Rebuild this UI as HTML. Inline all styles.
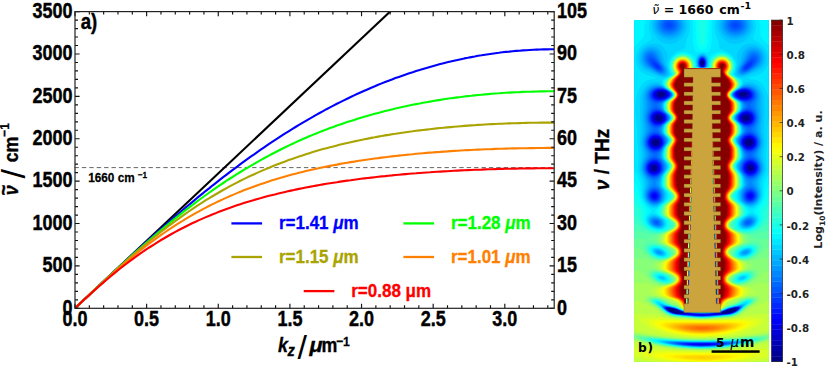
<!DOCTYPE html>
<html><head><meta charset="utf-8"><title>figure</title>
<style>html,body{margin:0;padding:0;background:#fff}body{width:830px;height:368px;position:relative;overflow:hidden}</style>
</head><body><svg width="830" height="368" viewBox="0 0 830 368" style="position:absolute;left:0;top:0" font-family="Liberation Sans, Arial, Helvetica, sans-serif"><defs><clipPath id="cp"><rect x="75.0" y="11.6" width="479.20000000000005" height="296.7"/></clipPath></defs><line x1="74.5" y1="167.6" x2="554.2" y2="167.6" stroke="#555" stroke-width="0.9" stroke-dasharray="4.4 3.0"/><g clip-path="url(#cp)" fill="none" stroke-width="2.1" stroke-linejoin="round"><path d="M75.0 308.3L404.5 -2.0" stroke="#000"/><path d="M75.0 308.3L78.4 305.0L81.9 301.8L85.3 298.5L88.8 295.3L92.2 292.0L95.7 288.8L99.1 285.5L102.6 282.3L106.0 279.1L109.5 275.8L112.9 272.6L116.3 269.4L119.8 266.2L123.2 263.0L126.7 259.9L130.1 256.7L133.6 253.5L137.0 250.4L140.5 247.2L143.9 244.1L147.4 241.0L150.8 237.9L154.3 234.8L157.7 231.8L161.1 228.7L164.6 225.7L168.0 222.7L171.5 219.7L174.9 216.7L178.4 213.8L181.8 210.8L185.3 207.9L188.7 205.0L192.2 202.1L195.6 199.3L199.0 196.4L202.5 193.6L205.9 190.8L209.4 188.1L212.8 185.3L216.3 182.6L219.7 179.9L223.2 177.2L226.6 174.6L230.1 171.9L233.5 169.3L236.9 166.8L240.4 164.2L243.8 161.7L247.3 159.2L250.7 156.7L254.2 154.3L257.6 151.8L261.1 149.4L264.5 147.1L268.0 144.7L271.4 142.4L274.9 140.1L278.3 137.9L281.7 135.6L285.2 133.4L288.6 131.3L292.1 129.1L295.5 127.0L299.0 124.9L302.4 122.9L305.9 120.8L309.3 118.8L312.8 116.9L316.2 114.9L319.6 113.0L323.1 111.1L326.5 109.2L330.0 107.4L333.4 105.6L336.9 103.8L340.3 102.1L343.8 100.4L347.2 98.7L350.7 97.0L354.1 95.4L357.5 93.8L361.0 92.2L364.4 90.7L367.9 89.2L371.3 87.7L374.8 86.3L378.2 84.8L381.7 83.4L385.1 82.1L388.6 80.7L392.0 79.4L395.4 78.1L398.9 76.9L402.3 75.7L405.8 74.5L409.2 73.3L412.7 72.2L416.1 71.0L419.6 70.0L423.0 68.9L426.5 67.9L429.9 66.9L433.4 65.9L436.8 65.0L440.2 64.1L443.7 63.2L447.1 62.3L450.6 61.5L454.0 60.7L457.5 59.9L460.9 59.2L464.4 58.4L467.8 57.8L471.3 57.1L474.7 56.5L478.1 55.8L481.6 55.3L485.0 54.7L488.5 54.2L491.9 53.7L495.4 53.2L498.8 52.8L502.3 52.3L505.7 51.9L509.2 51.6L512.6 51.2L516.0 50.9L519.5 50.7L522.9 50.4L526.4 50.2L529.8 50.0L533.3 49.8L536.7 49.6L540.2 49.5L543.6 49.4L547.1 49.4L550.5 49.3L554.0 49.3" stroke="#0000ff"/><path d="M75.0 308.3L78.4 305.0L81.9 301.8L85.3 298.5L88.8 295.3L92.2 292.0L95.7 288.8L99.1 285.6L102.6 282.3L106.0 279.1L109.5 275.9L112.9 272.7L116.3 269.5L119.8 266.4L123.2 263.2L126.7 260.1L130.1 257.0L133.6 253.9L137.0 250.8L140.5 247.8L143.9 244.7L147.4 241.7L150.8 238.7L154.3 235.8L157.7 232.9L161.1 230.0L164.6 227.1L168.0 224.2L171.5 221.4L174.9 218.6L178.4 215.9L181.8 213.1L185.3 210.4L188.7 207.8L192.2 205.2L195.6 202.6L199.0 200.0L202.5 197.5L205.9 195.0L209.4 192.5L212.8 190.1L216.3 187.7L219.7 185.3L223.2 183.0L226.6 180.7L230.1 178.5L233.5 176.3L236.9 174.1L240.4 172.0L243.8 169.9L247.3 167.8L250.7 165.8L254.2 163.8L257.6 161.8L261.1 159.9L264.5 158.0L268.0 156.1L271.4 154.3L274.9 152.5L278.3 150.7L281.7 149.0L285.2 147.3L288.6 145.6L292.1 144.0L295.5 142.4L299.0 140.8L302.4 139.3L305.9 137.8L309.3 136.3L312.8 134.9L316.2 133.5L319.6 132.1L323.1 130.8L326.5 129.4L330.0 128.1L333.4 126.9L336.9 125.6L340.3 124.4L343.8 123.2L347.2 122.1L350.7 121.0L354.1 119.9L357.5 118.8L361.0 117.7L364.4 116.7L367.9 115.7L371.3 114.7L374.8 113.8L378.2 112.9L381.7 111.9L385.1 111.1L388.6 110.2L392.0 109.4L395.4 108.6L398.9 107.8L402.3 107.0L405.8 106.2L409.2 105.5L412.7 104.8L416.1 104.1L419.6 103.5L423.0 102.8L426.5 102.2L429.9 101.6L433.4 101.0L436.8 100.4L440.2 99.9L443.7 99.3L447.1 98.8L450.6 98.3L454.0 97.9L457.5 97.4L460.9 97.0L464.4 96.5L467.8 96.1L471.3 95.8L474.7 95.4L478.1 95.0L481.6 94.7L485.0 94.4L488.5 94.1L491.9 93.8L495.4 93.5L498.8 93.3L502.3 93.0L505.7 92.8L509.2 92.6L512.6 92.4L516.0 92.2L519.5 92.1L522.9 91.9L526.4 91.8L529.8 91.7L533.3 91.6L536.7 91.5L540.2 91.4L543.6 91.4L547.1 91.3L550.5 91.3L554.0 91.3" stroke="#00ff00"/><path d="M75.0 308.3L78.4 305.0L81.9 301.8L85.3 298.5L88.8 295.3L92.2 292.0L95.7 288.8L99.1 285.6L102.6 282.4L106.0 279.2L109.5 276.0L112.9 272.9L116.3 269.8L119.8 266.7L123.2 263.6L126.7 260.5L130.1 257.5L133.6 254.5L137.0 251.5L140.5 248.6L143.9 245.7L147.4 242.8L150.8 240.0L154.3 237.2L157.7 234.5L161.1 231.7L164.6 229.1L168.0 226.4L171.5 223.8L174.9 221.3L178.4 218.8L181.8 216.3L185.3 213.9L188.7 211.5L192.2 209.1L195.6 206.8L199.0 204.6L202.5 202.4L205.9 200.2L209.4 198.1L212.8 196.0L216.3 194.0L219.7 192.0L223.2 190.0L226.6 188.1L230.1 186.2L233.5 184.4L236.9 182.6L240.4 180.8L243.8 179.1L247.3 177.4L250.7 175.8L254.2 174.2L257.6 172.6L261.1 171.1L264.5 169.6L268.0 168.2L271.4 166.7L274.9 165.3L278.3 164.0L281.7 162.7L285.2 161.4L288.6 160.1L292.1 158.9L295.5 157.7L299.0 156.5L302.4 155.4L305.9 154.3L309.3 153.2L312.8 152.1L316.2 151.1L319.6 150.1L323.1 149.1L326.5 148.2L330.0 147.3L333.4 146.4L336.9 145.5L340.3 144.6L343.8 143.8L347.2 143.0L350.7 142.2L354.1 141.4L357.5 140.7L361.0 140.0L364.4 139.3L367.9 138.6L371.3 137.9L374.8 137.3L378.2 136.6L381.7 136.0L385.1 135.4L388.6 134.9L392.0 134.3L395.4 133.8L398.9 133.2L402.3 132.7L405.8 132.2L409.2 131.7L412.7 131.3L416.1 130.8L419.6 130.4L423.0 130.0L426.5 129.6L429.9 129.2L433.4 128.8L436.8 128.4L440.2 128.0L443.7 127.7L447.1 127.4L450.6 127.1L454.0 126.8L457.5 126.5L460.9 126.2L464.4 125.9L467.8 125.6L471.3 125.4L474.7 125.2L478.1 124.9L481.6 124.7L485.0 124.5L488.5 124.3L491.9 124.1L495.4 124.0L498.8 123.8L502.3 123.7L505.7 123.5L509.2 123.4L512.6 123.3L516.0 123.2L519.5 123.1L522.9 123.0L526.4 122.9L529.8 122.8L533.3 122.7L536.7 122.7L540.2 122.6L543.6 122.6L547.1 122.6L550.5 122.6L554.0 122.6" stroke="#aaa400"/><path d="M75.0 308.3L78.4 305.1L81.9 301.8L85.3 298.6L88.8 295.4L92.2 292.2L95.7 289.0L99.1 285.8L102.6 282.7L106.0 279.5L109.5 276.5L112.9 273.4L116.3 270.4L119.8 267.4L123.2 264.5L126.7 261.5L130.1 258.7L133.6 255.9L137.0 253.1L140.5 250.3L143.9 247.6L147.4 245.0L150.8 242.4L154.3 239.9L157.7 237.4L161.1 234.9L164.6 232.5L168.0 230.2L171.5 227.9L174.9 225.6L178.4 223.4L181.8 221.3L185.3 219.2L188.7 217.1L192.2 215.1L195.6 213.2L199.0 211.3L202.5 209.4L205.9 207.6L209.4 205.8L212.8 204.1L216.3 202.4L219.7 200.7L223.2 199.1L226.6 197.6L230.1 196.0L233.5 194.6L236.9 193.1L240.4 191.7L243.8 190.3L247.3 189.0L250.7 187.7L254.2 186.4L257.6 185.2L261.1 184.0L264.5 182.9L268.0 181.7L271.4 180.6L274.9 179.5L278.3 178.5L281.7 177.5L285.2 176.5L288.6 175.5L292.1 174.6L295.5 173.7L299.0 172.8L302.4 172.0L305.9 171.1L309.3 170.3L312.8 169.5L316.2 168.7L319.6 168.0L323.1 167.3L326.5 166.6L330.0 165.9L333.4 165.2L336.9 164.6L340.3 163.9L343.8 163.3L347.2 162.7L350.7 162.1L354.1 161.6L357.5 161.0L361.0 160.5L364.4 160.0L367.9 159.5L371.3 159.0L374.8 158.5L378.2 158.1L381.7 157.6L385.1 157.2L388.6 156.8L392.0 156.4L395.4 156.0L398.9 155.6L402.3 155.2L405.8 154.9L409.2 154.5L412.7 154.2L416.1 153.8L419.6 153.5L423.0 153.2L426.5 152.9L429.9 152.6L433.4 152.4L436.8 152.1L440.2 151.9L443.7 151.6L447.1 151.4L450.6 151.1L454.0 150.9L457.5 150.7L460.9 150.5L464.4 150.3L467.8 150.1L471.3 150.0L474.7 149.8L478.1 149.6L481.6 149.5L485.0 149.3L488.5 149.2L491.9 149.1L495.4 148.9L498.8 148.8L502.3 148.7L505.7 148.6L509.2 148.5L512.6 148.4L516.0 148.4L519.5 148.3L522.9 148.2L526.4 148.2L529.8 148.1L533.3 148.1L536.7 148.0L540.2 148.0L543.6 148.0L547.1 147.9L550.5 147.9L554.0 147.9" stroke="#ff8000"/><path d="M75.0 308.3L78.4 305.1L81.9 301.8L85.3 298.6L88.8 295.5L92.2 292.3L95.7 289.2L99.1 286.2L102.6 283.1L106.0 280.2L109.5 277.3L112.9 274.4L116.3 271.6L119.8 268.8L123.2 266.1L126.7 263.5L130.1 260.9L133.6 258.3L137.0 255.8L140.5 253.4L143.9 251.0L147.4 248.7L150.8 246.5L154.3 244.3L157.7 242.1L161.1 240.0L164.6 238.0L168.0 236.0L171.5 234.0L174.9 232.1L178.4 230.3L181.8 228.5L185.3 226.7L188.7 225.0L192.2 223.3L195.6 221.7L199.0 220.1L202.5 218.6L205.9 217.1L209.4 215.7L212.8 214.2L216.3 212.9L219.7 211.5L223.2 210.2L226.6 208.9L230.1 207.7L233.5 206.5L236.9 205.3L240.4 204.2L243.8 203.1L247.3 202.0L250.7 201.0L254.2 199.9L257.6 198.9L261.1 198.0L264.5 197.0L268.0 196.1L271.4 195.2L274.9 194.4L278.3 193.5L281.7 192.7L285.2 191.9L288.6 191.1L292.1 190.4L295.5 189.6L299.0 188.9L302.4 188.2L305.9 187.5L309.3 186.9L312.8 186.2L316.2 185.6L319.6 185.0L323.1 184.4L326.5 183.8L330.0 183.2L333.4 182.7L336.9 182.2L340.3 181.6L343.8 181.1L347.2 180.6L350.7 180.2L354.1 179.7L357.5 179.2L361.0 178.8L364.4 178.4L367.9 178.0L371.3 177.6L374.8 177.2L378.2 176.8L381.7 176.4L385.1 176.1L388.6 175.7L392.0 175.4L395.4 175.0L398.9 174.7L402.3 174.4L405.8 174.1L409.2 173.8L412.7 173.5L416.1 173.3L419.6 173.0L423.0 172.7L426.5 172.5L429.9 172.3L433.4 172.0L436.8 171.8L440.2 171.6L443.7 171.4L447.1 171.2L450.6 171.0L454.0 170.8L457.5 170.6L460.9 170.4L464.4 170.3L467.8 170.1L471.3 170.0L474.7 169.8L478.1 169.7L481.6 169.6L485.0 169.4L488.5 169.3L491.9 169.2L495.4 169.1L498.8 169.0L502.3 168.9L505.7 168.8L509.2 168.7L512.6 168.7L516.0 168.6L519.5 168.5L522.9 168.5L526.4 168.4L529.8 168.4L533.3 168.4L536.7 168.3L540.2 168.3L543.6 168.3L547.1 168.3L550.5 168.3L554.0 168.3" stroke="#ff0000"/></g><path d="M75.00 308.3v-4.6M75.00 11.6v4.6M89.33 308.3v-3.0M89.33 11.6v3.0M103.65 308.3v-3.0M103.65 11.6v3.0M117.98 308.3v-3.0M117.98 11.6v3.0M132.31 308.3v-3.0M132.31 11.6v3.0M146.63 308.3v-4.6M146.63 11.6v4.6M160.96 308.3v-3.0M160.96 11.6v3.0M175.29 308.3v-3.0M175.29 11.6v3.0M189.62 308.3v-3.0M189.62 11.6v3.0M203.94 308.3v-3.0M203.94 11.6v3.0M218.27 308.3v-4.6M218.27 11.6v4.6M232.60 308.3v-3.0M232.60 11.6v3.0M246.92 308.3v-3.0M246.92 11.6v3.0M261.25 308.3v-3.0M261.25 11.6v3.0M275.58 308.3v-3.0M275.58 11.6v3.0M289.91 308.3v-4.6M289.91 11.6v4.6M304.23 308.3v-3.0M304.23 11.6v3.0M318.56 308.3v-3.0M318.56 11.6v3.0M332.89 308.3v-3.0M332.89 11.6v3.0M347.21 308.3v-3.0M347.21 11.6v3.0M361.54 308.3v-4.6M361.54 11.6v4.6M375.87 308.3v-3.0M375.87 11.6v3.0M390.19 308.3v-3.0M390.19 11.6v3.0M404.52 308.3v-3.0M404.52 11.6v3.0M418.85 308.3v-3.0M418.85 11.6v3.0M433.18 308.3v-4.6M433.18 11.6v4.6M447.50 308.3v-3.0M447.50 11.6v3.0M461.83 308.3v-3.0M461.83 11.6v3.0M476.16 308.3v-3.0M476.16 11.6v3.0M490.48 308.3v-3.0M490.48 11.6v3.0M504.81 308.3v-4.6M504.81 11.6v4.6M519.14 308.3v-3.0M519.14 11.6v3.0M533.46 308.3v-3.0M533.46 11.6v3.0M547.79 308.3v-3.0M547.79 11.6v3.0M75.0 308.30h4.6M75.0 299.82h3.0M75.0 291.35h3.0M75.0 282.87h3.0M75.0 274.39h3.0M75.0 265.91h4.6M75.0 257.44h3.0M75.0 248.96h3.0M75.0 240.48h3.0M75.0 232.01h3.0M75.0 223.53h4.6M75.0 215.05h3.0M75.0 206.57h3.0M75.0 198.10h3.0M75.0 189.62h3.0M75.0 181.14h4.6M75.0 172.67h3.0M75.0 164.19h3.0M75.0 155.71h3.0M75.0 147.23h3.0M75.0 138.76h4.6M75.0 130.28h3.0M75.0 121.80h3.0M75.0 113.33h3.0M75.0 104.85h3.0M75.0 96.37h4.6M75.0 87.89h3.0M75.0 79.42h3.0M75.0 70.94h3.0M75.0 62.46h3.0M75.0 53.99h4.6M75.0 45.51h3.0M75.0 37.03h3.0M75.0 28.55h3.0M75.0 20.08h3.0M75.0 11.60h4.6M554.2 308.30h-4.6M554.2 299.82h-3.0M554.2 291.35h-3.0M554.2 282.87h-3.0M554.2 274.39h-3.0M554.2 265.91h-4.6M554.2 257.44h-3.0M554.2 248.96h-3.0M554.2 240.48h-3.0M554.2 232.01h-3.0M554.2 223.53h-4.6M554.2 215.05h-3.0M554.2 206.57h-3.0M554.2 198.10h-3.0M554.2 189.62h-3.0M554.2 181.14h-4.6M554.2 172.67h-3.0M554.2 164.19h-3.0M554.2 155.71h-3.0M554.2 147.23h-3.0M554.2 138.76h-4.6M554.2 130.28h-3.0M554.2 121.80h-3.0M554.2 113.33h-3.0M554.2 104.85h-3.0M554.2 96.37h-4.6M554.2 87.89h-3.0M554.2 79.42h-3.0M554.2 70.94h-3.0M554.2 62.46h-3.0M554.2 53.99h-4.6M554.2 45.51h-3.0M554.2 37.03h-3.0M554.2 28.55h-3.0M554.2 20.08h-3.0M554.2 11.60h-4.6" stroke="#111" stroke-width="1.15" fill="none"/><rect x="75.0" y="11.6" width="479.20000000000005" height="296.7" fill="none" stroke="#222" stroke-width="1.2"/><text transform="translate(72.4,314.5) scale(0.81,1)" font-size="22.2px" font-weight="bold" text-anchor="end" stroke="#000" stroke-width="0.45">0</text><text transform="translate(72.4,272.1) scale(0.81,1)" font-size="22.2px" font-weight="bold" text-anchor="end" stroke="#000" stroke-width="0.45">500</text><text transform="translate(72.4,229.7) scale(0.81,1)" font-size="22.2px" font-weight="bold" text-anchor="end" stroke="#000" stroke-width="0.45">1000</text><text transform="translate(72.4,187.3) scale(0.81,1)" font-size="22.2px" font-weight="bold" text-anchor="end" stroke="#000" stroke-width="0.45">1500</text><text transform="translate(72.4,145.0) scale(0.81,1)" font-size="22.2px" font-weight="bold" text-anchor="end" stroke="#000" stroke-width="0.45">2000</text><text transform="translate(72.4,102.6) scale(0.81,1)" font-size="22.2px" font-weight="bold" text-anchor="end" stroke="#000" stroke-width="0.45">2500</text><text transform="translate(72.4,60.2) scale(0.81,1)" font-size="22.2px" font-weight="bold" text-anchor="end" stroke="#000" stroke-width="0.45">3000</text><text transform="translate(72.4,17.8) scale(0.81,1)" font-size="22.2px" font-weight="bold" text-anchor="end" stroke="#000" stroke-width="0.45">3500</text><text transform="translate(75.0,325.6) scale(0.81,1)" font-size="22.2px" font-weight="bold" text-anchor="middle" stroke="#000" stroke-width="0.45">0.0</text><text transform="translate(146.6,325.6) scale(0.81,1)" font-size="22.2px" font-weight="bold" text-anchor="middle" stroke="#000" stroke-width="0.45">0.5</text><text transform="translate(218.3,325.6) scale(0.81,1)" font-size="22.2px" font-weight="bold" text-anchor="middle" stroke="#000" stroke-width="0.45">1.0</text><text transform="translate(289.9,325.6) scale(0.81,1)" font-size="22.2px" font-weight="bold" text-anchor="middle" stroke="#000" stroke-width="0.45">1.5</text><text transform="translate(361.5,325.6) scale(0.81,1)" font-size="22.2px" font-weight="bold" text-anchor="middle" stroke="#000" stroke-width="0.45">2.0</text><text transform="translate(433.2,325.6) scale(0.81,1)" font-size="22.2px" font-weight="bold" text-anchor="middle" stroke="#000" stroke-width="0.45">2.5</text><text transform="translate(504.8,325.6) scale(0.81,1)" font-size="22.2px" font-weight="bold" text-anchor="middle" stroke="#000" stroke-width="0.45">3.0</text><text transform="translate(557.1,314.5) scale(0.81,1)" font-size="22.2px" font-weight="bold" stroke="#000" stroke-width="0.45">0</text><text transform="translate(557.1,272.1) scale(0.81,1)" font-size="22.2px" font-weight="bold" stroke="#000" stroke-width="0.45">15</text><text transform="translate(557.1,229.7) scale(0.81,1)" font-size="22.2px" font-weight="bold" stroke="#000" stroke-width="0.45">30</text><text transform="translate(557.1,187.3) scale(0.81,1)" font-size="22.2px" font-weight="bold" stroke="#000" stroke-width="0.45">45</text><text transform="translate(557.1,145.0) scale(0.81,1)" font-size="22.2px" font-weight="bold" stroke="#000" stroke-width="0.45">60</text><text transform="translate(557.1,102.6) scale(0.81,1)" font-size="22.2px" font-weight="bold" stroke="#000" stroke-width="0.45">75</text><text transform="translate(557.1,60.2) scale(0.81,1)" font-size="22.2px" font-weight="bold" stroke="#000" stroke-width="0.45">90</text><text transform="translate(557.1,17.8) scale(0.81,1)" font-size="22.2px" font-weight="bold" stroke="#000" stroke-width="0.45">105</text><text transform="translate(80.8,28.7) scale(0.86,1)" font-size="21.6px" font-weight="bold" stroke="#000" stroke-width="0.45">a)</text><text transform="translate(88.2,182.3) scale(0.935,1)" font-size="12.6px" font-weight="bold" stroke="#000" stroke-width="0.25">1660 cm</text><text transform="translate(137.8,178.0) scale(0.89,1)" font-size="9.2px" font-weight="bold" stroke="#000" stroke-width="0.25">−1</text><line x1="231.4" y1="223.4" x2="262.1" y2="223.4" stroke="#0000ff" stroke-width="2.3"/><text transform="translate(278.9,229.4) scale(0.915,1)" font-size="18.6px" font-weight="bold" fill="#0000ff" stroke="#0000ff" stroke-width="0.3">r=1.41 <tspan font-style="italic">μ</tspan>m</text><line x1="403.4" y1="223.4" x2="434.09999999999997" y2="223.4" stroke="#00ff00" stroke-width="2.3"/><text transform="translate(450.9,229.4) scale(0.915,1)" font-size="18.6px" font-weight="bold" fill="#00ff00" stroke="#00ff00" stroke-width="0.3">r=1.28 <tspan font-style="italic">μ</tspan>m</text><line x1="231.4" y1="257.0" x2="262.1" y2="257.0" stroke="#aaa400" stroke-width="2.3"/><text transform="translate(278.9,263.0) scale(0.915,1)" font-size="18.6px" font-weight="bold" fill="#aaa400" stroke="#aaa400" stroke-width="0.3">r=1.15 <tspan font-style="italic">μ</tspan>m</text><line x1="403.4" y1="257.0" x2="434.09999999999997" y2="257.0" stroke="#ff8000" stroke-width="2.3"/><text transform="translate(450.9,263.0) scale(0.915,1)" font-size="18.6px" font-weight="bold" fill="#ff8000" stroke="#ff8000" stroke-width="0.3">r=1.01 <tspan font-style="italic">μ</tspan>m</text><line x1="303.7" y1="291.1" x2="334.4" y2="291.1" stroke="#ff0000" stroke-width="2.3"/><text transform="translate(351.2,297.1) scale(0.915,1)" font-size="18.6px" font-weight="bold" fill="#ff0000" stroke="#ff0000" stroke-width="0.3">r=0.88 μm</text><text transform="translate(278.0,352.0) scale(0.89,1)" font-size="20px" font-weight="bold" font-style="italic" stroke="#000" stroke-width="0.35">k</text><text transform="translate(287.4,355.6) scale(0.89,1)" font-size="16.5px" font-weight="bold" font-style="italic" stroke="#000" stroke-width="0.25">z</text><text transform="translate(297.4,359.1)" font-size="34px">/</text><text transform="translate(309.6,352.0) scale(1.08,1)" font-size="20px" font-weight="bold" font-style="italic" stroke="#000" stroke-width="0.35">μ</text><text transform="translate(321.6,352.0) scale(0.89,1)" font-size="20px" font-weight="bold" stroke="#000" stroke-width="0.35">m</text><text transform="translate(336.0,345.6) scale(0.89,1)" font-size="13.7px" font-weight="bold" stroke="#000" stroke-width="0.25">−1</text><text transform="translate(17.7,195.2) rotate(-90) scale(0.89,1)" font-size="20px" font-weight="bold" font-style="italic" stroke="#000" stroke-width="0.35">ν</text><text transform="translate(9.6,195.6) rotate(-90) scale(0.89,1)" font-size="21px" font-weight="bold" stroke="#000" stroke-width="0.35">~</text><text transform="translate(25.3,178.5) rotate(-90)" font-size="34px">/</text><text transform="translate(17.7,162.3) rotate(-90) scale(0.89,1)" font-size="20px" font-weight="bold" stroke="#000" stroke-width="0.35">cm</text><text transform="translate(8.7,136.8) rotate(-90) scale(0.89,1)" font-size="13.5px" font-weight="bold" stroke="#000" stroke-width="0.25">−1</text><text transform="translate(608.5,190.2) rotate(-90) scale(0.93,1)" font-size="20.5px" font-weight="bold" stroke="#000" stroke-width="0.35"><tspan font-style="italic">ν</tspan> / THz</text></svg><svg width="830" height="368" viewBox="0 0 830 368" style="position:absolute;left:0;top:0" font-family="DejaVu Sans, Verdana, sans-serif" font-weight="bold"><defs><clipPath id="hc"><rect x="634.3" y="20.1" width="134.3" height="341.4"/></clipPath></defs><g clip-path="url(#hc)"><rect x="634.3" y="20.1" width="134.3" height="341.4" fill="#000087"/><g transform="translate(634.3,20.1) scale(.1)"><path fill="#000097" d="M-25 -21l2-2 700 0 690 0 2 2 0 3460 -2 2 -1390 0 -2-2zM677 406l-10 11 -2 12 2 12 10 11 11-3 5-10 2-10 -2-10 -5-10zM257 725l-9 4 -8 10 1 10 6 6 10 5 20 0 10-3 11-8 2-10 -7-10 -16-5zM1067 729l-7 10 3 10 14 10 10 2 19-2 13-10 1-10 -8-10 -5-2 -20-4zM227 957l-12 12 -2 10 2 10 10 10 12 4 10 1 10-3 10-7 4-5 3-10 -3-10 -4-6 -10-7 -10-2 -10 0zM1107 955l-10 5 -8 9 -3 10 3 10 8 9 10 4 10 2 10-1 8-4 10-10 2-10 -2-10 -8-9 -10-5 -10-1zM207 1196l-10 4 -10 9 -4 10 1 10 4 10 12 10 17 3 10-2 13-11 5-10 0-10 -4-10 -12-10 -12-4zM1137 1197l-10 4 -8 8 -4 10 0 10 5 10 12 10 15 3 10-2 10-6 5-5 5-10 0-10 -5-10 -11-10 -14-4zM187 1468l-4 11 4 10 10 4 11-4 4-10 -3-10 -12-4zM1157 1465l-5 4 -5 10 5 10 5 3 10 0 5-3 5-8 0-4 -4-8 -6-4zM347 2879l-10 2 -6 8 7 10 12 10 27 14 30 8 30 4 40 0 19-6 -9-3 -31-17 -50-20 -29-7zM1007 2879l-40 6 -30 10 -33 14 -27 16 -13 4 13 5 10 1 30 1 30-4 30-7 33-16 12-10 7-10 -2-4 -10-6z"/><path fill="#0000a7" d="M-24 -21l1-1 700-1 690 1 1 1 1 3460 -2 2 -1390 0 -2-2zM677 402l-10 9 -4 18 4 18 10 9 10-2 4-5 5-10 1-10 -1-10 -5-10 -4-5zM267 718l-10 2 -19 9 -6 10 0 10 5 7 10 7 20 3 20-3 10-5 9-9 2-10 -5-10 -16-8zM1087 718l-10 1 -20 10 -5 10 2 10 13 11 20 6 20-1 13-6 8-10 1-10 -7-10 -15-8zM237 948l-10 3 -12 8 -7 10 -2 10 2 10 7 10 12 7 10 3 10 0 10-2 13-8 8-10 2-10 -2-10 -7-10 -14-8 -10-3zM1117 948l-10 1 -18 10 -7 10 -2 10 2 10 8 10 17 9 10 1 10-1 18-9 7-10 2-10 -2-10 -7-10 -8-6 -10-4zM197 1194l-10 7 -6 8 -4 10 0 10 4 10 9 10 17 8 10 0 10-2 10-5 10-11 4-10 0-10 -4-11 -10-11 -10-5 -10-2 -10 0zM1127 1195l-10 8 -4 6 -4 10 0 10 8 15 10 9 10 3 10 2 10-2 13-7 9-10 3-10 1-10 -6-13 -10-10 -10-5 -10-1 -10 1zM187 1457l-12 12 -2 10 2 10 12 11 10 3 10-2 10-7 3-5 2-10 -2-10 -3-5 -10-8 -10-1zM1157 1455l-10 4 -7 10 -3 10 3 10 7 9 10 4 10 0 10-4 8-9 2-11 -2-9 -8-10 -10-4zM337 2879l-8 10 7 10 12 10 18 10 28 10 33 6 40 2 20-2 10-3 5-3 -15-4 -29-16 -51-20 -44-10zM997 2879l-30 6 -30 9 -35 15 -25 14 -19 6 9 5 10 2 30 1 40-4 30-7 17-7 18-10 12-10 7-10 -4-9 -3-1z"/><path fill="#0000b7" d="M-24 -21l1-1 700 0 690 0 1 1 1 3460 -2 2 -1390 0 -2-2zM677 399l-11 10 -5 20 5 20 11 10 10-2 7-8 4-10 1-10 -1-10 -4-10 -7-8zM247 718l-17 11 -6 10 0 10 7 10 16 10 20 2 20-3 17-9 9-10 2-10 -5-10 -13-10 -20-5 -20 1zM1067 718l-17 11 -5 10 2 10 9 10 11 6 20 6 20-1 10-3 10-6 9-12 0-10 -6-10 -14-10 -19-5 -10 0zM227 946l-10 5 -10 8 -5 10 -1 10 1 10 5 9 14 11 16 5 20-2 10-5 10-8 6-10 2-10 -1-10 -6-10 -11-9 -10-4 -20-2zM1097 948l-15 11 -6 10 -1 10 2 10 6 10 14 10 20 5 20-4 10-6 10-13 2-12 -1-10 -6-10 -12-10 -13-5 -20 1zM197 1188l-15 11 -7 10 -3 10 0 10 5 13 10 11 10 6 10 3 20-1 10-5 9-7 7-10 3-10 0-10 -3-10 -6-10 -10-8 -10-4 -20-2zM1127 1189l-14 10 -6 10 -3 10 0 10 3 10 10 13 10 6 10 4 20-1 10-4 11-8 7-10 3-10 0-10 -3-10 -8-12 -10-7 -10-4 -20 0zM187 1449l-10 6 -10 14 -1 10 1 10 7 10 13 9 10 2 10-1 10-5 10-12 3-13 -2-10 -5-10 -14-10 -12-2zM1157 1447l-10 4 -10 8 -5 10 -2 10 2 10 5 10 10 7 8 3 12 0 10-3 10-7 5-10 2-10 -1-10 -6-10 -15-10zM337 2877l-7 2 -4 10 8 10 13 10 17 10 27 10 36 7 50 2 20-1 11-8 -21-6 -49-24 -31-11 -40-9zM997 2878l-30 6 -30 9 -37 16 -33 16 -15 4 5 6 10 3 30 0 50-4 30-8 19-7 17-10 13-10 7-10 -3-10 -3-1z"/><path fill="#0000c7" d="M-24 -21l1-1 700 0 690 0 1 1 1 3460 -2 2 -1390 0 -2-2zM677 396l-10 7 -4 6 -4 20 4 20 4 6 10 7 10-1 10-12 4-20 -4-20 -10-12zM237 717l-15 12 -4 10 -1 10 5 10 15 11 20 5 10 0 20-3 20-9 12-14 2-10 -4-10 -10-9 -10-5 -10-3 -20-2 -20 4zM1057 718l-14 11 -4 10 2 10 7 10 19 11 30 5 20-3 10-4 10-8 5-11 0-10 -4-10 -11-9 -10-5 -10-3 -20-2 -20 4zM1117 939l-20 4 -10 6 -11 10 -5 10 -1 10 1 10 6 10 10 10 20 8 20 1 20-8 10-9 6-12 2-10 -2-10 -4-10 -10-10 -12-7zM217 945l-10 7 -6 7 -5 10 -1 10 2 10 5 10 9 10 16 8 20 1 20-6 16-13 6-10 1-10 -3-14 -10-13 -10-7 -20-6 -20 2zM187 1188l-12 11 -5 10 -3 10 0 10 3 10 7 12 10 9 20 7 20-2 10-4 10-7 10-13 4-12 0-10 -2-10 -6-10 -16-13 -20-6 -20 3zM1127 1184l-10 5 -10 10 -5 10 -3 10 0 10 3 10 6 10 9 9 10 5 20 4 20-4 10-6 7-8 6-10 3-10 0-10 -3-10 -5-10 -8-8 -10-6 -20-5zM177 1447l-10 10 -6 12 -1 10 1 10 5 10 10 10 11 5 10 2 10-1 13-6 10-10 5-10 1-10 -1-10 -4-10 -9-10 -15-7 -10-1 -10 1zM1147 1444l-10 6 -10 14 -3 15 3 14 10 14 10 6 10 2 10 0 10-2 10-6 7-8 5-10 1-10 -3-15 -10-14 -10-6 -10-3 -10 0zM327 2878l-2 1 -1 10 8 10 25 17 32 13 28 6 30 4 78 0 -8-3 -3-7 -17-4 -57-26 -33-12 -50-11 -20 0zM987 2879l-30 7 -30 10 -60 28 -21 5 -11 10 73 0 29-3 30-6 20-6 20-10 21-15 8-10 -2-10 -7-2 -20-1z"/><path fill="#0000d7" d="M-24 -21l1-1 700 0 690 0 1 1 1 3460 -2 2 -1390 0 -2-2zM667 399l-6 10 -3 10 0 20 3 10 6 10 10 6 10-2 10-10 5-14 0-20 -3-10 -12-14 -10-2zM257 707l-10 2 -20 9 -11 11 -5 10 0 10 4 10 10 10 12 7 10 2 26 1 24-6 10-5 12-9 6-10 2-10 -4-10 -10-10 -16-8 -10-3zM1077 708l-10 2 -20 9 -10 10 -4 10 2 10 7 10 5 5 10 6 20 7 30 2 20-5 10-6 8-9 4-10 0-10 -5-10 -10-10 -17-8 -10-3zM227 936l-10 3 -10 7 -12 13 -4 10 -1 10 1 10 5 10 11 13 10 6 10 3 20 1 20-5 12-8 8-8 6-12 2-10 -1-10 -5-10 -12-13 -14-7 -16-4zM1097 939l-17 10 -9 10 -4 8 -2 12 1 10 5 10 16 14 11 6 19 4 20-3 19-11 8-10 5-10 1-10 -3-15 -10-15 -15-10 -15-4 -20 1zM197 1178l-19 11 -11 15 -5 15 3 20 5 10 7 8 10 8 10 4 20 3 20-6 10-6 10-10 6-11 3-10 0-10 -3-10 -4-10 -9-10 -13-9 -20-5zM1127 1179l-17 10 -8 10 -5 9 -3 11 3 20 10 15 10 9 10 5 20 4 20-4 14-9 9-10 5-10 3-10 -2-20 -5-10 -9-10 -15-10 -20-4zM187 1436l-10 4 -10 8 -8 11 -4 10 0 20 4 10 8 10 10 7 10 4 20 1 10-4 10-6 10-12 4-10 0-20 -4-10 -7-10 -13-10 -10-3zM1147 1437l-10 6 -7 6 -7 10 -4 10 -1 10 1 10 4 10 8 10 16 10 20 2 10-2 16-10 8-10 4-10 1-10 -1-10 -8-16 -10-10 -7-4 -13-4zM327 2877l-5 2 0 10 9 10 12 10 18 10 36 13 30 6 30 2 70 1 34-2 -24-2 -10-3 -6-5 -24-5 -60-27 -40-14 -40-7 -20-1zM987 2878l-50 14 -70 31 -28 6 -12 7 -28 3 98 1 30-2 30-4 30-9 20-10 22-16 9-10 0-10 -11-4 -20 0z"/><path fill="#0000e7" d="M-24 -21l701-1 691 1 1 3460 -2 2 -1390 0 -2-2zM667 396l-8 13 -3 10 1 24 10 19 10 6 10-2 10-9 7-18 0-20 -3-10 -4-8 -10-9 -10-2zM237 708l-19 11 -9 10 -4 10 0 10 3 10 9 11 15 9 25 5 20-2 14-3 16-7 10-6 8-7 6-10 1-10 -3-10 -9-10 -13-8 -10-4 -20-3 -20 0zM1067 706l-10 3 -17 10 -9 10 -3 10 1 10 6 10 12 10 20 10 10 2 30 2 20-4 10-5 7-5 8-10 3-10 0-10 -4-10 -14-13 -13-7 -17-5 -20-1zM217 934l-10 6 -11 9 -6 10 -4 10 0 20 4 10 7 10 10 9 10 5 20 4 20-2 10-4 19-12 8-10 4-10 2-10 -3-13 -10-16 -14-11 -16-7 -20-2zM1087 939l-13 10 -8 10 -4 10 -2 10 2 10 4 10 8 10 13 9 10 5 20 4 20-2 10-4 16-12 7-10 4-10 1-10 -1-10 -4-10 -13-16 -10-7 -20-6 -20 1zM187 1177l-16 12 -7 10 -4 10 -2 20 2 10 7 14 10 11 10 6 20 6 20-1 20-10 10-9 11-17 2-20 -6-20 -8-10 -9-8 -20-9 -20-1zM1117 1178l-13 11 -8 10 -4 10 -2 20 7 20 10 11 10 8 20 8 20 0 20-8 11-9 8-10 4-10 2-20 -6-20 -9-12 -10-8 -20-8 -20 0zM177 1434l-10 7 -8 8 -6 10 -4 20 5 20 6 10 17 13 20 5 20-4 10-5 9-9 7-10 4-20 -4-20 -6-11 -10-10 -10-5 -20-4zM1137 1436l-10 8 -10 15 -4 20 4 20 10 13 10 8 10 5 20 1 20-6 13-11 7-10 3-10 0-20 -3-10 -10-14 -10-8 -10-5 -20-3zM327 2875l-9 4 2 10 9 10 12 10 18 10 38 14 30 5 40 3 110 2 10-2 2-2 -42-4 -19-6 -31-6 -60-27 -50-16 -30-5zM987 2877l-50 14 -80 33 -25 5 -15 6 -46 4 6 3 10 1 100-1 40-3 30-5 30-9 32-16 12-10 9-10 1-10 -4-3 -10-2 -20 0zM607 2947l-8 2 78 2 84-2 -14-3z"/><path fill="#0000f7" d="M-24 -21l701-1 691 1 1 3460 -2 2 -1390 0 -2-2zM677 387l-10 6 -10 15 -3 11 0 20 3 10 10 16 7 4 13 0 10-8 6-12 3-10 0-20 -3-10 -6-12 -10-8zM227 708l-16 11 -8 10 -4 10 0 10 3 10 6 10 9 8 10 5 30 5 20-1 20-5 23-12 11-10 5-10 1-10 -3-10 -8-10 -19-11 -20-6 -20-2 -20 2zM1057 706l-10 4 -13 9 -8 10 -3 10 1 10 5 10 11 10 17 10 30 8 30-1 23-7 12-10 7-10 2-10 0-10 -4-10 -8-10 -15-10 -17-6 -20-3 -20 1zM227 927l-20 7 -17 15 -6 10 -3 10 0 20 3 10 7 10 16 14 20 8 10 0 20-2 22-10 12-10 6-8 6-12 1-10 -1-10 -4-10 -7-10 -15-12 -20-9 -20-2zM1107 927l-20 7 -19 15 -7 10 -4 10 -1 10 1 10 4 10 8 10 12 10 16 8 20 4 10 0 20-5 10-5 10-9 9-13 4-20 -4-20 -9-14 -10-9 -10-5 -20-5zM197 1168l-22 11 -10 10 -6 10 -6 20 2 20 4 10 8 11 10 9 10 6 20 6 20-2 20-9 10-8 11-13 7-20 -2-20 -11-20 -15-14 -20-8 -20-1zM1127 1169l-20 11 -9 9 -7 10 -6 20 3 20 12 20 17 14 20 7 20 0 10-2 20-12 14-17 6-20 -2-20 -10-20 -18-15 -20-7 -20-1zM177 1428l-15 11 -9 10 -5 10 -4 20 4 20 9 14 10 9 10 5 20 5 20-3 10-5 10-8 11-17 4-20 -3-20 -12-19 -10-8 -10-5 -20-3zM1147 1426l-10 4 -10 6 -11 13 -8 20 1 20 3 10 5 10 10 10 10 7 20 6 20-2 20-11 10-11 8-19 0-20 -8-20 -10-11 -10-7 -20-7zM317 2877l-2 2 3 10 9 10 13 10 27 15 40 12 40 5 90 4 40 4 100 4 80-2 70-7 80-2 50-7 30-9 30-15 16-12 9-10 3-10 -8-5 -10-2 -20 1 -30 5 -50 16 -70 29 -50 11 -90 8 -40 1 -40-1 -90-9 -50-12 -60-26 -50-16 -30-5 -20-2 -10 1zM607 3239l-5 0 55 9 20 1 21 0 60-10 -71-1z"/><path fill="#0008ff" d="M-24 -21l1392 0 1 3460 -2 2 -1390 0 -2-2zM677 385l-10 4 -10 14 -5 16 1 20 4 15 10 14 10 3 10-1 4-1 6-5 8-15 2-10 1-20 -3-10 -8-16 -10-7zM247 698l-20 6 -10 5 -13 10 -7 10 -4 10 0 10 2 10 5 10 10 10 17 8 10 3 20 1 20-1 20-5 14-6 16-10 9-10 5-10 1-10 -3-10 -7-10 -14-10 -31-11 -20-1zM1077 698l-20 5 -14 6 -15 10 -7 10 -3 10 1 10 5 10 9 10 24 13 20 6 20 3 20 0 20-5 13-7 7-7 8-13 2-10 0-10 -4-10 -7-10 -19-13 -20-7 -20-2zM207 928l-10 7 -10 10 -8 14 -3 10 0 20 3 10 5 10 9 10 14 10 10 4 10 2 20 0 20-6 10-5 19-15 7-10 4-10 0-20 -3-10 -7-10 -10-10 -20-12 -20-5 -20 0zM1097 926l-24 13 -10 10 -7 10 -4 20 1 10 4 10 7 10 13 12 16 8 14 5 20 2 10-1 20-8 10-8 9-10 8-20 0-20 -8-20 -9-11 -10-7 -20-8 -20-2zM187 1166l-20 14 -13 19 -4 10 -1 20 5 20 13 18 20 14 10 3 20 2 20-5 18-12 10-10 12-20 2-20 -5-20 -6-10 -9-10 -22-14 -10-3 -20-1zM1117 1168l-20 15 -10 14 -5 12 -1 20 7 20 9 12 10 10 20 11 10 3 20 0 20-6 10-7 10-10 9-13 4-10 1-20 -5-20 -14-20 -15-11 -10-4 -10-2 -20-1zM197 1418l-20 5 -20 13 -10 13 -4 10 -4 20 4 20 5 10 9 11 20 13 20 4 20-3 10-4 13-11 9-10 5-10 4-20 -4-20 -4-10 -13-16 -20-12zM1157 1418l-20 5 -10 6 -10 10 -11 20 -3 20 3 20 13 20 18 13 10 3 20 2 20-6 10-6 10-10 10-16 3-10 0-20 -7-20 -16-18 -20-11zM197 1743l-10 6 -2 10 2 7 2 3 8 5 10 0 8-5 3-10 -1-5 -3-5 -7-5zM1147 1747l-5 12 5 12 10 4 10-3 4-3 4-10 -3-10 -5-5 -10-2zM317 2874l-4 5 3 10 9 10 13 10 29 16 30 10 50 7 70 3 90 8 70 2 70-2 90-8 70-2 50-7 30-9 30-15 18-13 9-10 4-10 -11-7 -20-1 -20 3 -50 12 -70 29 -30 9 -70 12 -100 4 -70-3 -50-4 -60-13 -60-25 -50-17 -20-4 -30-3 -10 0zM557 3239l-4 0 48 10 76 2 82-2 49-10 -51-3 -70-1 -80 1z"/><path fill="#0018ff" d="M-24 -21l1392 0 1 3460 -2 2 -1390 0 -2-2zM667 386l-10 13 -4 10 -3 20 3 20 4 10 7 10 13 3 19-3 7-10 6-20 0-20 -2-10 -10-19 -10-7 -10-1zM237 697l-20 7 -10 7 -10 9 -6 9 -3 10 -1 10 2 10 8 16 10 8 11 6 19 5 20 2 20-3 20-5 22-9 14-10 8-10 5-10 1-7 -3-13 -7-10 -14-10 -22-10 -24-5 -20 0zM1067 697l-31 12 -13 10 -7 10 -3 10 1 10 5 10 8 10 14 10 16 7 20 6 20 3 30-1 20-7 12-8 8-10 4-10 2-10 -1-10 -3-10 -12-15 -20-12 -20-7 -20-2zM217 919l-21 10 -11 10 -7 10 -7 20 0 20 3 10 4 10 9 11 20 15 10 3 20 2 20-3 10-4 24-14 10-10 7-10 5-20 -5-20 -6-10 -9-10 -26-16 -20-6 -10-1zM1107 919l-20 7 -10 6 -10 7 -9 10 -10 20 0 20 4 10 7 10 10 10 18 11 10 5 20 5 10 0 20-3 20-11 15-17 7-20 0-20 -2-10 -12-20 -18-15 -20-7 -10-1zM197 1158l-10 3 -14 8 -11 10 -8 10 -8 20 -2 20 2 10 3 10 8 13 10 11 10 8 10 5 20 5 20-2 20-9 10-7 13-14 11-20 2-10 -1-20 -5-14 -10-14 -20-16 -20-8 -10-1zM1127 1159l-20 9 -10 8 -10 13 -6 10 -4 16 0 14 2 10 8 16 10 12 20 16 20 7 10 1 20-3 20-10 10-9 8-10 9-20 2-10 -2-20 -7-18 -9-12 -21-16 -20-7 -20 0zM177 1417l-20 12 -15 20 -7 20 0 20 3 10 12 20 17 15 20 7 20 1 10-2 20-11 10-10 7-10 8-20 0-20 -2-10 -4-10 -9-13 -10-10 -10-7 -20-6 -20 1zM1137 1417l-20 14 -13 18 -6 20 0 20 3 10 6 12 10 12 20 14 20 5 20-2 10-3 20-15 10-12 5-11 4-20 -3-20 -6-12 -10-14 -20-14 -10-4 -20-3zM187 1734l-6 5 -6 10 -1 10 3 11 10 11 10 4 10 1 10-4 11-13 1-10 -2-11 -10-12 -10-5 -10 0zM1147 1734l-7 5 -7 10 -2 10 1 10 7 10 8 5 10 2 10-2 10-6 7-9 2-10 -1-10 -8-12 -10-6 -10-1zM317 2872l-7 7 4 10 13 13 30 19 40 15 50 7 70 4 100 8 60 2 60-2 110-9 70-3 40-6 30-9 30-15 19-14 10-10 4-10 -3-5 -10-4 -40 3 -50 12 -70 29 -30 9 -80 12 -100 3 -80-4 -70-10 -30-9 -70-29 -30-8 -40-7 -20-1zM527 3238l-7 1 50 10 107 4 113-4 50-10 -53-5 -90-1 -110 1z"/><path fill="#0028ff" d="M-24 -21l1392 0 1 3350 0 110 -2 2 -1390 0 -2-2zM667 383l-10 11 -6 15 -3 20 3 20 4 10 6 10 16 3 20-2 8-11 6-20 0-20 -2-10 -10-20 -12-9 -10-1zM227 696l-20 9 -10 8 -12 16 -4 10 1 20 4 10 6 10 15 11 10 4 20 5 20 1 20-3 28-8 20-10 13-10 9-10 4-10 1-10 -3-10 -8-10 -14-11 -20-10 -30-7 -30 0zM1057 697l-26 12 -13 10 -7 10 -3 10 1 10 4 10 9 10 13 10 32 14 20 5 20 2 30-4 17-7 14-10 10-20 1-20 -4-10 -6-10 -11-10 -21-12 -30-7 -20 1zM207 916l-20 13 -10 12 -9 18 -3 10 1 20 6 20 7 10 10 10 18 11 10 4 20 1 10-1 20-7 29-18 11-11 9-19 0-20 -3-10 -6-10 -20-19 -30-15 -20-4 -10 0zM1097 917l-23 12 -12 10 -9 10 -9 20 0 20 4 10 6 10 13 12 20 13 20 9 20 3 10-1 20-6 20-15 10-14 5-11 2-10 1-20 -7-20 -15-20 -16-11 -10-4 -20-3 -10 1zM187 1155l-20 12 -10 10 -8 12 -8 20 -2 20 2 10 6 16 9 14 21 18 20 8 20 1 10-1 20-9 10-8 18-19 10-20 3-10 -1-20 -8-20 -7-10 -15-14 -10-6 -10-5 -20-4 -20 2zM1117 1157l-19 12 -10 10 -12 20 -4 20 0 10 7 20 18 23 10 9 20 12 10 2 20 1 20-6 20-14 10-11 9-16 5-20 -2-20 -3-10 -9-17 -10-11 -20-14 -10-4 -20-3 -20 3zM187 1408l-10 3 -15 8 -12 10 -8 10 -10 20 -2 10 0 20 7 20 10 14 10 10 20 11 10 3 20 0 10-2 13-6 14-10 9-10 11-20 3-10 0-20 -6-20 -5-10 -9-12 -10-8 -20-10 -10-3zM1147 1407l-20 9 -10 7 -13 16 -9 20 -2 10 0 20 4 13 10 17 20 19 20 8 10 2 20-2 20-9 10-8 10-11 10-19 3-10 0-20 -6-20 -6-10 -11-13 -10-8 -10-6 -20-6zM187 1724l-10 6 -7 9 -4 10 -1 10 3 10 9 14 10 7 10 3 10 1 10-3 10-6 5-6 5-10 1-10 -2-10 -9-16 -10-7 -10-4 -10-1zM1147 1724l-10 5 -10 13 -5 17 1 10 5 10 10 10 9 4 10 1 10-1 10-5 10-9 5-10 2-10 0-10 -7-14 -10-9 -10-4 -10-1zM317 2869l-10 10 6 10 9 10 15 12 20 11 40 14 40 7 230 16 70-2 180-13 40-6 30-9 30-15 21-15 9-10 6-10 -6-9 -4-1 -16-1 -30 4 -50 12 -80 32 -30 8 -80 10 -90 3 -80-4 -70-10 -30-9 -70-29 -30-8 -40-7zM497 3238l-2 1 51 10 71 5 60 1 60-1 77-5 51-10 -18-4 -30-3 -110-2 -150 2 -40 2z"/><path fill="#0038ff" d="M-24 -21l1392 0 1 3350 0 110 -2 2 -1390 0 -2-2zM677 376l-10 4 -9 9 -6 10 -5 20 0 20 5 20 6 10 19 4 10 0 15-4 6-10 5-20 0-20 -5-20 -6-10 -5-6 -10-6zM217 452l0 7 10 9 4-9 -4-4zM1137 453l-9 6 -2 10 3 0 13-10zM247 688l-20 4 -20 8 -13 9 -9 10 -6 10 -5 20 3 16 6 14 14 12 10 6 20 6 20 2 20-2 20-5 30-11 20-12 15-16 4-10 1-10 -4-10 -7-10 -13-10 -19-10 -27-9 -20-3zM1077 689l-30 9 -20 11 -13 10 -7 10 -3 10 0 10 4 10 8 10 13 10 18 10 30 11 30 5 20-1 20-5 18-10 12-10 8-20 0-20 -4-10 -6-10 -9-10 -19-12 -20-7 -20-3zM217 907l-10 3 -17 9 -11 10 -8 10 -9 20 -2 10 0 20 7 21 10 15 10 10 20 12 20 4 10 0 20-5 10-5 20-12 14-10 9-10 7-10 3-10 1-20 -3-10 -11-16 -16-14 -14-9 -30-12 -20-2zM1117 907l-30 11 -19 11 -12 10 -8 10 -6 10 -3 10 1 20 3 10 7 10 9 10 18 13 30 15 20 4 10 0 20-6 10-5 10-8 10-12 11-21 2-10 0-20 -6-20 -5-10 -12-14 -10-8 -20-9 -10-2zM187 1149l-10 5 -19 15 -15 20 -7 20 -1 20 1 10 8 20 6 10 9 10 12 10 16 9 10 3 20 1 10-2 20-9 10-7 22-25 11-20 2-10 -1-20 -7-20 -7-11 -10-11 -20-14 -20-8 -10-1 -20 2zM1127 1147l-20 9 -10 8 -10 9 -10 14 -8 22 -1 20 2 10 5 10 12 18 20 20 10 7 20 7 10 2 20-3 20-10 10-7 10-10 9-14 8-20 1-10 -1-20 -7-20 -6-10 -14-15 -10-8 -10-5 -20-7 -20 1zM177 1404l-20 12 -10 9 -11 14 -5 10 -6 20 0 20 3 10 9 19 9 11 21 16 20 8 10 1 20-3 20-10 10-8 12-14 6-10 7-20 0-10 -2-20 -3-10 -10-18 -10-12 -10-8 -10-6 -20-5 -20 1zM1127 1409l-20 17 -14 23 -3 10 -2 20 3 20 4 10 12 18 10 9 20 13 20 5 20-2 10-4 20-12 10-10 11-17 4-10 3-20 -2-20 -4-10 -12-20 -10-10 -20-13 -10-4 -20-2 -20 4zM187 1715l-10 5 -9 9 -6 10 -3 10 -1 10 2 10 5 10 8 10 14 9 10 3 20-2 16-10 7-10 4-10 -1-20 -6-15 -10-11 -6-4 -14-6 -10 0zM1147 1715l-10 5 -10 9 -7 10 -4 10 0 20 4 10 7 10 10 8 10 3 20 0 10-4 10-7 8-10 5-10 1-20 -3-10 -6-10 -11-10 -14-6 -10 0zM317 2867l-8 2 -4 10 6 10 9 10 29 20 38 16 50 9 188 15 32 1 78-1 212-18 30-7 34-15 29-20 9-10 6-10 -4-10 -4-1 -20-1 -20 2 -30 6 -30 8 -80 33 -30 7 -90 11 -90 2 -60-3 -80-11 -30-9 -70-28 -30-9 -40-7zM527 3229l-30 2 -10 2 -13 6 63 11 70 5 70 2 70-1 70-5 17-2 52-10 -19-7 -27-3z"/><path fill="#0048ff" d="M-24 -21l1392 0 1 3350 0 110 -2 2 -1390 0 -2-2zM667 377l-12 12 -8 20 -2 10 0 20 5 20 5 10 12 4 10 1 20-2 7-3 9-20 2-30 -5-20 -5-10 -8-9 -10-6 -10 0zM187 418l-4 11 3 10 13 20 9 10 19 14 10 5 12 1 8-10 -3-10 -7-12 -10-11 -20-17 -20-11zM1167 417l-20 9 -20 16 -10 10 -12 17 -2 10 4 9 10 1 20-8 24-22 8-10 8-20 -3-10zM227 687l-20 8 -21 14 -8 10 -9 20 -1 20 7 20 12 13 10 7 20 9 20 3 20-2 20-4 30-11 30-15 12-10 7-10 4-10 1-10 -3-10 -8-10 -13-10 -30-15 -30-9 -30-1zM1067 689l-26 10 -18 10 -13 10 -7 10 -4 10 1 10 4 10 7 10 12 10 18 10 26 11 30 8 20 3 20-2 20-7 19-13 9-10 7-20 -1-20 -9-20 -15-15 -20-12 -30-8 -20-1zM197 907l-17 12 -13 16 -8 14 -5 20 0 20 6 20 12 20 10 10 15 11 20 7 10 0 20-3 20-8 20-13 18-14 10-10 6-10 4-10 0-20 -8-20 -10-11 -30-22 -30-14 -20-3 -10 1zM1097 908l-34 21 -20 20 -8 20 0 20 4 10 6 10 22 20 20 13 20 10 10 3 20 2 20-4 21-14 10-10 12-20 4-10 2-20 -2-20 -3-10 -12-20 -9-10 -23-15 -10-3 -20-2 -20 5zM197 1139l-10 3 -20 11 -20 20 -14 26 -2 10 -1 20 4 20 4 10 9 14 10 12 10 8 20 12 10 3 20 1 20-6 10-6 10-8 20-22 12-18 5-10 3-10 -1-20 -6-20 -6-10 -8-10 -19-16 -20-11 -10-3 -20-2zM1137 1138l-20 6 -10 6 -23 19 -8 10 -10 20 -3 20 0 10 3 10 11 20 20 25 10 9 20 12 10 3 20 1 20-6 10-6 21-18 9-11 9-19 3-10 1-20 -1-10 -6-20 -13-20 -13-13 -20-13 -10-3 -20-3zM177 1397l-20 11 -10 9 -17 22 -5 10 -5 20 1 20 2 10 4 11 10 16 20 20 20 10 10 3 10 1 20-3 10-4 20-14 20-24 8-16 2-10 1-10 -3-20 -7-20 -6-10 -15-18 -10-8 -20-9 -10-2 -20 2zM1137 1396l-20 12 -10 9 -15 22 -5 11 -4 19 0 20 2 10 10 20 8 10 24 21 20 8 10 2 20-2 10-3 20-12 10-10 11-14 9-19 2-11 1-20 -2-10 -8-20 -7-10 -16-17 -10-8 -20-9 -10-3 -20 1zM187 1707l-10 4 -10 8 -8 10 -7 20 2 20 4 10 7 10 12 11 20 7 20-1 10-4 10-7 10-14 4-12 -1-20 -8-20 -15-16 -10-5 -10-3zM1147 1706l-10 5 -10 7 -10 13 -7 18 -1 20 8 19 11 11 19 8 20-1 17-7 13-12 9-18 2-20 -7-20 -14-15 -10-6 -10-3zM307 2867l-4 2 -1 10 7 10 10 10 28 20 40 17 50 9 169 14 61 2 86-2 194-17 30-8 36-15 29-20 9-10 7-10 -1-10 -10-3 -30 1 -40 7 -30 8 -80 33 -30 7 -90 10 -80 3 -60-3 -80-9 -30-7 -70-29 -40-12 -50-9 -20 0zM467 3229l-5 0 -6 10 61 11 70 6 64 3 66 0 80-5 55-5 52-10 -6-10 -41-2 -300 0z"/><path fill="#0058ff" d="M-24 -21l1392 0 0 3350 0 110 -1 1 -1390 0 -1-1zM327 29l-10 10 -3 10 1 10 12 13 10 5 10 1 10-1 10-4 10-9 3-5 1-10 -2-10 -10-10 -12-5 -10-1 -10 2zM997 26l-10 6 -5 7 -4 10 2 10 7 10 10 6 10 3 10 0 10-3 11-6 7-10 1-10 -3-10 -6-7 -10-6 -10-3 -10 0zM667 374l-10 8 -5 7 -7 20 -2 20 2 20 8 20 24 6 20-2 10-4 8-20 2-30 -5-20 -5-11 -10-11 -10-6 -10 0zM177 388l-10 1 -8 10 0 10 6 20 13 20 18 20 26 20 25 11 13-1 7-5 2-5 -1-10 -11-22 -20-23 -30-28 -20-14zM1187 388l-10 2 -20 13 -30 27 -20 22 -11 17 -4 10 -1 10 6 9 10 2 10-1 20-9 26-21 19-20 13-20 6-20 0-10 -4-7zM217 686l-20 9 -18 14 -8 10 -9 20 -1 20 5 20 11 14 20 15 10 5 20 5 20-1 20-5 30-10 30-14 20-14 14-15 4-10 0-10 -4-10 -8-10 -12-10 -18-10 -26-11 -30-7 -30 0zM1067 686l-30 13 -18 10 -12 10 -8 10 -4 10 2 15 10 15 10 9 18 11 22 10 40 14 20 4 20 0 20-5 19-13 11-11 7-9 3-10 2-20 -4-20 -6-10 -12-14 -20-13 -30-10 -30-2zM197 897l-20 15 -10 11 -10 16 -4 10 -5 20 2 30 7 18 7 12 13 15 10 9 20 10 10 2 20-1 20-8 20-12 30-23 12-12 7-10 3-10 1-20 -9-20 -8-10 -16-13 -30-21 -20-10 -20-4 -20 2zM1107 898l-30 17 -30 24 -14 20 -3 10 1 20 3 10 7 10 16 15 30 22 30 16 20 4 10-1 20-8 10-8 11-10 14-20 8-20 2-10 0-20 -2-10 -7-20 -6-10 -10-13 -20-17 -10-5 -20-3 -20 3zM207 1128l-20 5 -10 5 -10 7 -15 14 -9 10 -11 20 -7 30 0 10 4 20 8 19 10 14 10 11 20 15 10 5 20 4 20-2 20-11 10-8 20-23 16-24 5-10 4-20 -1-10 -6-20 -8-14 -14-16 -16-13 -20-12 -10-3zM1147 1128l-20 4 -10 5 -30 22 -10 11 -12 19 -4 10 -3 20 1 10 7 20 31 40 20 18 20 9 10 1 20-2 10-4 10-6 20-16 10-12 11-18 6-20 1-20 -3-20 -4-10 -11-20 -10-12 -10-9 -20-13 -10-4zM177 1389l-10 5 -20 15 -17 20 -6 10 -7 20 -2 10 0 20 2 10 9 20 11 16 10 10 10 8 20 10 10 3 20 0 10-2 20-10 20-18 13-17 10-20 2-10 -1-30 -6-20 -8-14 -10-13 -20-17 -20-10 -10-2 -20 2zM1137 1387l-10 5 -20 16 -10 12 -10 16 -5 13 -4 20 0 20 2 10 7 15 10 15 10 11 20 16 20 9 10 2 20-2 20-9 10-6 12-11 15-20 9-20 2-10 -2-30 -7-20 -9-14 -10-12 -20-17 -20-10 -10-2 -20 0zM187 1698l-10 4 -10 7 -9 10 -6 10 -6 20 1 20 10 20 10 11 10 6 20 7 20-1 10-3 10-6 13-14 7-20 0-20 -3-10 -7-15 -10-12 -10-8 -20-7zM1147 1698l-20 11 -10 10 -7 10 -7 20 0 20 7 20 8 10 9 7 20 7 20-1 20-8 16-15 9-20 2-20 -7-23 -10-13 -10-8 -20-8zM307 2865l-8 4 1 10 17 20 30 21 40 16 50 10 170 14 70 3 90-4 160-14 40-7 20-6 20-9 24-14 22-20 7-10 1-10 -4-3 -20-2 -60 9 -40 12 -70 29 -40 9 -80 8 -70 2 -70-2 -80-9 -30-7 -70-29 -40-12 -50-9zM437 3228l-8 1 10 10 53 10 105 10 80 2 80-2 111-10 53-10 10-10 -44-3 -70-1 -300 0z"/><path fill="#0068ff" d="M-24 -21l1392 0 0 3350 0 110 -1 1 -1390 0 -1-1zM327 7l-21 12 -9 10 -4 10 -2 10 1 10 3 10 7 10 15 11 10 4 20 4 20-3 20-10 10-10 7-16 1-10 -2-10 -6-12 -10-10 -20-10 -20-3zM987 9l-17 10 -8 10 -5 10 -2 10 1 10 3 10 8 11 10 8 10 5 20 5 20-2 10-3 10-5 10-8 8-11 4-10 0-10 -2-11 -10-16 -10-8 -20-8 -20-2zM157 366l-10 8 -3 5 -4 10 0 10 6 20 21 30 31 30 29 20 20 9 10 1 10-1 10-8 2-11 -6-20 -14-20 -12-15 -40-44 -20-18 -10-6 -10-2zM677 368l-10 3 -10 7 -7 11 -8 20 -1 30 5 20 4 10 17 6 20 1 23-7 7-20 2-30 -4-20 -12-20 -6-6 -10-5zM1177 369l-10 7 -20 21 -40 44 -14 18 -10 20 -2 10 1 10 5 6 10 4 10 0 10-3 20-9 37-28 19-20 15-20 10-20 2-10 0-10 -3-10 -10-11 -10-4 -10 1zM227 679l-20 6 -26 14 -10 10 -8 10 -8 20 -1 20 3 20 20 26 20 16 10 5 20 2 30-7 50-21 23-11 16-10 12-10 7-10 4-10 0-10 -4-10 -8-10 -30-20 -30-14 -20-6 -20-3zM1087 678l-20 6 -30 13 -21 12 -12 10 -9 10 -3 10 0 10 3 10 8 10 11 10 16 10 57 26 40 12 20 0 10-3 20-13 10-10 16-22 3-30 -4-20 -5-10 -10-12 -10-9 -20-12 -20-6 -20-4zM197 884l-20 15 -10 11 -12 19 -12 30 -1 30 9 30 11 20 15 17 10 9 20 11 20 1 10-3 20-11 56-44 17-20 4-10 0-20 -8-20 -9-10 -60-46 -20-10 -10-3 -20 1zM1117 885l-30 19 -44 35 -14 20 -3 10 0 20 4 10 7 10 10 10 50 39 10 7 20 10 20 2 10-2 20-14 12-12 15-20 12-30 3-20 -2-20 -12-30 -13-20 -15-15 -20-12 -10-2 -20 1zM197 1118l-10 4 -20 13 -20 19 -10 14 -7 11 -8 20 -3 30 4 20 3 10 11 19 10 14 10 10 20 16 20 10 10 1 20-4 20-13 10-9 20-25 20-29 9-20 1-10 -3-20 -3-10 -12-20 -12-13 -30-25 -20-12 -10-3 -10-1zM1137 1118l-10 4 -20 14 -20 16 -16 17 -12 20 -5 20 -1 10 5 20 5 10 34 47 20 19 10 7 10 5 20 2 10-3 20-11 20-17 10-11 17-28 5-20 2-20 -3-20 -8-20 -13-20 -10-11 -20-17 -20-12 -10-3 -10-1zM177 1378l-10 6 -20 16 -10 10 -14 19 -11 30 -2 30 2 10 8 20 14 20 13 13 20 14 10 4 20 5 10-1 10-2 20-11 20-18 19-24 9-20 2-10 0-30 -6-20 -11-20 -13-16 -20-18 -20-12 -10-2 -20 3zM1137 1376l-30 23 -10 11 -13 19 -11 30 -1 30 3 10 9 20 13 17 20 20 10 8 20 9 20 2 10-2 20-9 20-15 10-11 10-14 8-15 5-20 0-20 -4-20 -10-20 -9-14 -20-20 -20-14 -20-9 -10-1 -10 1zM187 1689l-20 10 -10 10 -8 10 -8 20 -1 20 1 10 9 20 8 10 12 10 17 8 10 2 20-1 22-9 11-10 7-10 6-20 1-10 -3-20 -4-10 -10-17 -10-10 -10-7 -20-8zM1147 1689l-20 10 -10 9 -9 11 -9 20 -3 20 1 10 6 20 14 17 20 11 20 3 20-5 13-6 12-10 13-20 4-10 1-20 -4-20 -9-15 -10-11 -20-13 -20-3zM207 2018l-1 1 5 10 6 4 10 2 11-6 -4-10 -7-5 -10-2zM1127 2018l-4 11 4 4 10 2 13-6 3-10 -6-6 -10 0zM297 2866l-2 3 2 10 8 10 22 20 30 17 20 8 20 6 40 6 150 14 90 4 90-4 160-14 30-5 30-8 20-9 20-11 28-24 8-10 2-10 -8-6 -20 0 -60 9 -40 12 -70 29 -40 9 -90 9 -60 1 -60-2 -90-9 -30-7 -70-29 -40-12 -60-10 -20 0zM407 3229l-2 0 19 10 53 10 100 10 100 3 106-3 94-9 59-11 19-10 -38-4 -70-2 -360 1 -50 1z"/><path fill="#0078ff" d="M-24 -21l1392 0 0 3350 0 110 -1 1 -1390 0 -1-1zM347 -11l-20 3 -10 3 -24 14 -9 10 -6 10 -4 10 0 20 7 20 8 10 12 10 26 11 30 2 17-3 13-5 20-15 8-10 5-10 3-20 -5-20 -6-10 -9-10 -14-10 -12-5 -10-3zM977 -4l-20 13 -9 10 -10 20 -1 20 3 10 5 10 8 10 11 10 13 7 10 3 20 4 20-1 11-3 19-9 14-11 8-10 5-10 3-20 -5-20 -6-10 -9-10 -20-12 -20-7 -30 0zM147 349l-10 8 -8 12 -4 20 3 20 5 10 13 20 19 20 23 20 39 27 20 9 10 2 10 0 10-2 7-6 4-10 0-10 -8-20 -13-21 -60-77 -10-12 -10-8 -10-5 -10-2 -10 1zM1177 349l-10 7 -10 10 -71 93 -11 20 -3 10 0 10 5 11 10 6 10 1 20-4 20-9 23-15 24-20 21-20 16-20 6-10 7-20 0-20 -7-17 -10-10 -10-6 -10-2 -10 1zM667 367l-14 12 -10 20 -4 30 4 30 4 10 20 7 10 1 20-2 16-6 6-20 2-30 -4-20 -10-20 -10-9 -10-5 -10-1zM217 676l-20 7 -25 16 -17 20 -8 20 -1 20 2 20 11 20 32 40 5 10 -1 10 -28 34 -21 36 -10 30 -1 30 4 20 8 20 10 17 24 33 5 10 0 10 -6 10 -33 34 -18 26 -10 20 -6 30 4 30 10 25 20 29 34 36 4 10 -5 10 -33 31 -24 29 -15 30 -4 30 2 20 8 20 12 20 9 10 12 12 20 14 20 8 10 2 10-1 20-7 10-8 20-19 17-21 13-20 4-10 3-20 -3-30 -8-20 -16-24 -33-36 -6-10 -3-10 6-10 16-16 20-24 34-50 9-20 1-20 -5-20 -11-20 -49-50 -8-10 -3-10 3-10 10-10 79-70 7-10 4-10 1-10 -3-20 -6-10 -20-20 -37-30 -33-30 -9-10 0-10 9-10 15-10 79-40 16-10 17-18 5-12 0-10 -4-10 -9-10 -12-10 -40-22 -40-14 -20-1zM1077 678l-48 21 -28 20 -9 10 -4 10 0 10 4 10 5 8 13 12 17 11 78 39 15 10 9 10 0 10 -9 10 -70 60 -20 20 -6 10 -4 20 2 10 4 10 8 10 78 70 10 10 3 10 -3 10 -8 10 -49 50 -11 20 -5 20 1 20 9 20 38 55 32 35 6 10 -2 10 -43 50 -13 20 -8 20 -3 20 1 20 2 10 4 10 13 20 31 35 10 9 20 10 20 1 10-2 20-9 20-16 10-10 14-18 10-20 3-10 2-20 -4-30 -15-30 -20-26 -37-34 -5-10 4-10 38-41 13-19 13-30 3-20 -2-30 -13-30 -14-21 -37-39 -6-10 -1-10 6-10 22-30 16-30 6-20 2-30 -3-20 -13-30 -12-20 -32-40 -2-10 6-10 28-34 15-26 2-30 -4-20 -12-20 -11-11 -20-13 -20-8 -30-5 -20 1zM187 1678l-10 4 -20 16 -15 21 -7 20 -1 20 1 10 4 10 8 15 10 12 10 8 20 9 10 2 20-1 20-7 12-8 9-10 6-10 6-20 0-10 -2-20 -11-25 -10-13 -10-10 -10-7 -20-8 -10 0zM1147 1678l-20 10 -21 21 -9 17 -5 13 -2 20 0 10 6 20 6 10 9 10 15 10 11 4 20 2 20-3 10-5 20-15 10-13 4-10 4-10 1-20 -4-20 -4-10 -11-17 -10-10 -10-8 -20-7 -10-1zM197 2005l-4 4 -2 10 4 10 10 10 12 5 10 3 10-1 13-7 3-10 -3-10 -13-12 -20-7 -10 0zM1127 2005l-8 4 -9 10 -3 10 3 10 7 5 10 3 20-4 8-4 10-10 4-10 -2-10 -10-8 -10-2zM297 2862l-6 7 4 10 18 20 34 24 20 9 20 6 20 5 30 4 160 15 70 3 100-4 160-14 30-5 30-8 20-8 20-12 30-25 8-10 4-10 -2-4 -10-4 -10-1 -30 4 -40 7 -40 12 -70 29 -40 9 -70 7 -90 3 -80-4 -60-7 -30-7 -70-28 -40-13 -60-10 -20-2zM387 3228l-2 1 25 10 67 12 90 9 110 3 100-2 90-8 30-4 53-10 25-10 -28-6 -60-2 -430 1 -40 1z"/><path fill="#0087ff" d="M-24 -21l345 0 -24 10 -14 10 -10 10 -12 20 -3 10 0 20 2 10 7 16 10 13 10 9 10 6 20 9 30 5 30-4 20-8 10-6 12-10 8-10 6-10 6-20 -1-20 -3-10 -11-20 -10-10 -14-10 -23-10 607 0 -27 12 -21 18 -11 20 -3 10 -1 20 6 20 10 16 10 10 10 7 20 9 30 6 30-3 14-5 16-8 20-18 9-14 4-10 2-10 0-20 -8-20 -7-10 -20-18 -28-12 329 0 0 3340 0 120 -1 1 -1390 0 -1-1zM157 328l-20 8 -10 9 -9 14 -4 10 -2 10 1 20 7 20 6 10 16 20 23 20 25 20 27 18 20 10 20 7 20 0 10-3 9-12 1-10 -5-20 -10-20 -36-50 -29-47 -10-14 -10-9 -10-6 -10-4zM1187 328l-20 8 -14 13 -39 60 -29 40 -13 20 -8 20 -1 10 1 10 3 5 10 9 10 2 20-2 20-7 20-11 23-16 37-30 20-20 13-20 7-20 1-20 -2-10 -9-19 -10-11 -10-6 -10-4zM667 364l-10 6 -8 9 -9 20 -3 30 4 30 3 10 13 5 20 4 20-2 18-7 4-10 5-30 -4-30 -9-20 -14-13 -10-4 -10-1zM227 669l-20 4 -20 8 -25 18 -15 20 -5 10 -5 20 1 30 23 50 5 20 -3 20 -23 50 -7 20 -5 20 -1 30 7 30 23 50 7 20 -1 10 -4 10 -32 48 -11 22 -6 20 -3 30 3 20 7 20 11 20 27 40 5 10 1 10 -3 10 -6 10 -25 32 -17 28 -8 20 -4 30 2 20 3 10 9 20 15 21 20 21 20 15 20 10 10 2 10 0 10-3 10-7 20-19 39-50 10-20 3-10 1-20 -6-30 -9-20 -37-50 -3-10 -1-10 8-20 58-90 5-10 2-20 -5-20 -4-10 -15-20 -29-30 -11-20 -1-10 2-10 6-10 16-20 44-40 18-20 4-10 2-10 -1-10 -3-10 -6-10 -9-10 -46-40 -17-20 -9-20 0-10 5-10 10-10 14-10 55-30 16-10 14-13 8-17 0-10 -4-10 -9-10 -12-10 -23-14 -50-23 -30-5zM1107 668l-20 3 -20 8 -40 19 -17 11 -12 10 -9 10 -4 10 0 10 3 10 8 10 11 10 71 40 14 10 10 10 4 10 1 10 -3 10 -7 10 -16 20 -46 40 -9 10 -9 19 -1 11 2 10 4 10 8 10 54 50 16 20 6 10 2 10 -1 10 -5 10 -15 20 -20 20 -15 20 -5 12 -4 18 2 20 5 10 57 90 6 10 3 10 -1 10 -3 10 -37 50 -9 20 -6 30 1 20 3 10 10 20 43 55 20 17 10 5 10 2 10 0 10-3 20-12 30-26 14-18 12-20 7-20 1-10 -1-30 -10-30 -13-23 -29-37 -6-10 -3-10 1-10 5-10 27-40 11-20 7-20 3-20 -1-20 -8-30 -10-20 -33-50 -4-10 0-10 6-20 23-50 7-30 -1-30 -5-20 -7-20 -23-50 -3-20 5-20 23-50 1-30 -2-10 -8-20 -15-20 -12-10 -19-11 -20-7 -20-3zM187 1663l-20 13 -10 9 -18 24 -5 10 -6 20 0 20 1 10 8 20 6 10 9 10 13 10 22 10 10 2 20 0 10-3 19-9 11-10 8-10 5-10 6-20 -2-30 -12-30 -15-20 -10-9 -20-14 -10-4 -10-1zM1147 1664l-20 13 -10 8 -19 24 -11 25 -4 25 3 20 4 10 13 20 11 10 13 7 10 3 20 3 20-4 10-4 21-15 9-10 11-20 3-10 2-20 -4-20 -8-20 -14-19 -10-10 -20-15 -10-3 -10-1zM187 1998l-6 11 -1 10 4 10 9 10 14 10 20 5 10 0 17-5 8-10 1-10 -3-10 -7-10 -16-12 -20-6 -10 0 -10 2zM1127 1996l-20 13 -7 10 -4 10 2 10 8 10 11 4 20 1 15-5 16-10 8-10 4-10 -1-10 -6-10 -6-4 -10-4 -10 0zM297 2858l-3 1 -7 10 6 10 8 10 16 15 20 14 40 18 30 8 30 4 160 15 70 3 100-4 160-14 30-5 40-12 30-16 32-26 8-10 5-10 -5-10 -20 0 -30 4 -60 13 -30 10 -60 25 -33 8 -77 8 -90 3 -80-4 -60-7 -30-7 -70-28 -30-10 -50-11zM427 3219l-40 2 -10 3 -10 5 30 10 53 10 47 6 80 7 100 3 100-3 80-7 53-6 53-10 30-10 -16-7 -37-3 -263 2z"/><path fill="#0097ff" d="M-23 -21l310 0 -24 20 -8 10 -8 16 -5 24 2 20 3 10 10 18 10 11 20 16 30 13 30 4 30-3 30-11 23-18 9-10 11-20 5-20 -1-20 -2-10 -5-11 -10-16 -12-13 -14-10 538 0 -12 9 -11 11 -9 12 -9 18 -2 10 -1 20 5 20 7 14 10 13 20 17 30 13 30 5 30-3 30-11 25-18 9-10 12-20 5-20 -1-20 -3-10 -7-16 -10-14 -10-10 -14-10 294 0 1 3340 -1 121 -1390 0 -1-1zM137 319l-10 6 -13 14 -7 11 -6 19 -2 20 4 20 10 20 7 10 19 20 26 20 32 23 30 17 20 9 20 5 20-2 10-5 5-7 3-10 0-10 -5-20 -10-20 -34-50 -29-57 -9-13 -11-12 -10-7 -20-7 -20-1zM1167 318l-16 11 -14 17 -33 63 -39 60 -8 20 -2 20 3 10 9 10 10 3 20 0 20-5 30-15 35-23 39-30 19-20 13-20 7-20 1-20 -4-20 -11-20 -9-10 -10-8 -20-8 -20-1zM677 357l-10 3 -10 6 -11 13 -5 10 -6 20 0 30 6 30 26 9 20 1 31-10 6-20 2-30 -3-20 -4-10 -12-19 -10-8 -10-4zM207 666l-30 13 -15 10 -11 10 -14 20 -4 10 -5 20 -1 30 16 50 2 30 -3 20 -21 70 -3 20 1 20 5 30 18 50 3 20 -3 20 -30 60 -7 20 -4 20 -1 20 3 20 6 20 32 60 3 10 0 10 -7 20 -25 40 -10 20 -9 30 -1 20 2 20 3 10 14 30 26 34 45 46 3 10 -3 10 -40 50 -15 29 -3 11 -3 20 2 20 3 10 11 21 20 21 20 11 10 4 20 2 20-4 10-3 19-12 17-20 8-20 2-30 -8-30 -10-20 -35-40 -12-20 -4-10 4-10 29-38 50-72 5-10 4-20 0-20 -5-20 -9-20 -29-40 -7-20 0-10 6-20 9-20 48-80 2-10 0-20 -7-20 -7-10 -35-40 -9-20 0-10 6-20 12-20 19-20 33-30 13-20 2-10 -1-11 -10-19 -43-40 -17-20 -10-20 -2-10 0-10 4-10 8-10 11-10 68-40 12-10 7-10 3-10 -1-12 -4-8 -8-10 -28-20 -50-26 -20-8 -20-3 -20 1zM1087 667l-40 19 -40 23 -12 10 -8 10 -5 10 0 10 5 13 17 17 68 40 12 10 7 10 4 10 0 10 -2 10 -10 20 -17 20 -43 40 -7 10 -3 10 -1 10 2 10 5 10 8 10 33 30 19 20 12 20 6 20 -3 20 -6 10 -35 40 -7 10 -7 20 -1 20 3 10 5 10 37 60 15 30 6 20 -2 20 -5 10 -29 40 -9 20 -6 30 2 20 3 10 11 20 48 67 26 33 3 10 -3 10 -14 20 -26 30 -14 20 -10 30 -1 30 5 20 5 10 16 20 23 13 10 4 20 2 20-3 10-4 19-12 18-20 10-20 5-30 -6-30 -16-31 -38-49 -5-10 4-10 8-10 41-41 20-25 13-24 8-30 0-20 -6-30 -14-30 -25-40 -7-20 0-10 3-10 32-60 6-20 3-20 -1-20 -7-30 -30-60 -7-20 0-10 3-20 18-50 5-30 1-20 -3-20 -21-70 -4-30 3-20 16-50 0-20 -3-20 -7-20 -14-20 -22-18 -20-10 -30-8 -30 0zM187 1987l-13 12 -3 10 0 10 4 10 8 10 12 10 22 10 20 2 10-1 10-4 10-7 5-10 0-10 -5-14 -15-16 -15-9 -20-6 -20 0zM1127 1988l-19 11 -11 10 -6 10 -3 10 0 10 5 10 14 9 10 3 24-2 24-10 12-10 8-10 4-10 0-10 -3-10 -10-10 -19-6 -10 0zM287 2857l-3 2 0 10 6 10 19 20 18 14 20 12 20 9 20 6 20 5 40 5 150 14 70 3 100-4 160-14 40-7 30-10 30-15 20-15 14-13 15-20 0-10 -9-3 -30 2 -40 7 -40 10 -30 10 -60 25 -38 9 -72 7 -90 3 -80-4 -60-7 -30-7 -70-28 -30-10 -40-9 -40-7 -20-1zM367 3218l-10 1 -6 10 33 10 83 14 80 8 100 5 100-1 94-6 82-10 53-10 33-10 -6-10 -36-2 -280 3 -250-3z"/><path fill="#00a7ff" d="M-23 -21l286 0 -18 20 -8 13 -7 17 -2 10 -1 20 4 20 4 10 12 19 10 11 20 16 30 14 20 5 20 2 20-1 20-4 30-12 26-20 8-10 12-20 8-30 -3-30 -11-25 -11-15 -10-10 488 0 -17 20 -7 10 -8 20 -3 30 4 20 4 10 10 18 10 12 20 16 30 14 20 5 20 2 20-1 20-4 30-12 15-10 15-14 18-26 4-10 4-20 -1-20 -2-10 -13-27 -20-23 270 0 0 3461 -1391-1zM157 297l-20 6 -20 12 -13 14 -11 20 -5 20 -1 20 3 20 9 20 14 20 23 20 81 52 30 14 20 6 20 0 10-3 10-7 6-12 2-10 -3-20 -14-30 -30-50 -31-70 -15-20 -15-12 -20-8 -10-2zM1177 298l-10 3 -16 8 -13 10 -8 10 -12 20 -26 60 -35 60 -11 30 0 20 5 10 6 6 8 4 22 2 20-4 30-12 20-12 53-34 27-20 18-20 11-20 6-20 0-30 -5-20 -11-20 -19-18 -20-11 -20-4zM667 356l-10 5 -10 10 -5 8 -8 20 -3 30 4 30 4 10 18 7 10 3 30-1 25-9 5-20 2-20 -3-30 -8-20 -11-14 -10-8 -10-3 -10-1zM217 657l-20 5 -20 7 -16 10 -13 10 -11 12 -11 18 -4 10 -5 20 -2 30 11 50 1 30 -3 20 -14 70 -2 30 3 30 15 60 2 20 -5 30 -20 50 -6 20 -4 20 0 20 2 20 6 20 25 60 2 20 -5 20 -21 40 -12 30 -4 20 -2 20 2 20 11 30 18 30 37 50 4 10 1 10 -1 10 -8 20 -21 40 -8 20 -5 30 5 30 8 17 9 13 21 20 10 6 20 7 20 2 10-1 20-6 15-8 13-10 15-20 4-10 5-20 1-20 -6-30 -10-20 -30-40 -6-20 -1-10 4-20 10-20 23-40 28-40 9-20 3-20 -5-30 -10-20 -29-40 -6-20 0-10 5-20 12-30 10-20 27-40 8-20 2-10 -4-20 -4-10 -42-50 -5-10 -2-20 4-20 11-20 17-20 33-30 9-10 5-10 2-10 -1-10 -3-10 -7-10 -43-40 -16-20 -8-20 -1-20 4-10 6-10 11-10 65-40 18-19 4-11 -1-10 -3-7 -10-13 -28-20 -42-24 -20-11 -20-6 -20-2zM1107 657l-20 6 -10 4 -72 42 -12 10 -9 10 -4 10 -1 10 8 16 14 14 65 40 11 10 7 10 2 10 0 20 -8 20 -16 20 -43 40 -6 10 -4 10 -1 10 2 10 5 10 9 10 33 30 17 20 11 20 4 20 0 10 -7 20 -35 40 -7 10 -4 10 -3 20 4 20 31 50 15 30 8 20 5 20 -2 20 -4 10 -29 40 -10 20 -5 30 3 20 9 20 28 40 18 30 14 30 5 20 0 10 -7 20 -30 40 -9 20 -6 20 0 30 5 20 4 10 15 20 13 10 19 10 20 5 10 0 20-3 10-3 16-9 12-10 16-20 10-20 2-10 3-20 -5-30 -8-20 -21-40 -8-20 -1-10 1-10 4-10 50-70 9-20 7-20 1-30 -5-30 -8-20 -25-50 -5-20 2-20 28-70 4-20 1-20 -4-30 -10-30 -16-40 -5-30 2-20 15-60 3-30 -2-30 -14-70 -3-20 1-30 11-50 -4-40 -7-20 -7-12 -15-18 -15-12 -20-10 -20-7 -30-4zM187 1978l-10 5 -7 6 -6 10 -2 10 1 10 4 10 7 10 11 10 22 12 30 6 20-3 11-5 9-10 4-10 -1-10 -3-10 -6-10 -14-15 -20-12 -20-6 -20 0zM1137 1978l-20 7 -10 6 -18 18 -6 10 -3 10 -1 10 4 10 14 13 20 5 10 0 20-4 11-4 17-10 11-10 7-10 4-10 1-10 -2-10 -9-13 -10-6 -10-4 -10-1zM237 2308l-6 1 -4 5 -2 5 8 10 4 2 20 7 10-2 6-7 -6-11 -18-9zM1117 2308l-10 2 -15 9 -6 10 1 1 10 8 10-1 20-8 8-10 -6-10zM287 2853l-9 6 3 10 7 10 19 20 20 15 20 12 40 15 20 5 40 5 160 14 70 3 100-4 140-13 50-8 30-10 20-9 20-13 16-12 19-20 7-10 3-10 -5-5 -20 0 -70 12 -30 8 -30 10 -60 25 -44 10 -76 7 -80 2 -80-3 -60-8 -30-7 -60-25 -40-13 -80-16zM337 3218l-9 1 9 10 35 10 55 10 120 14 130 5 130-5 110-11 71-13 35-10 9-10 -25-3 -50-1 -280 3 -280-3z"/><path fill="#00b7ff" d="M-23 -21l265 0 -21 30 -10 30 0 20 3 20 13 29 20 24 30 22 20 9 20 6 20 3 20 1 20-2 20-5 30-13 19-14 11-10 10-12 11-18 9-30 0-30 -9-30 -19-30 442 0 -19 30 -9 30 0 30 9 30 13 20 8 10 14 13 20 13 30 12 20 5 20 1 20-1 20-4 20-6 20-10 29-23 11-13 10-15 6-12 5-20 1-30 -10-30 -21-30 249 0 0 3461 -1391-1zM137 286l-20 11 -14 12 -15 20 -9 20 -5 20 0 30 5 20 10 20 16 20 22 18 100 58 30 11 20 4 20 0 10-4 9-7 6-10 2-20 -4-20 -7-20 -32-60 -20-60 -10-20 -14-19 -10-10 -10-7 -20-9 -30-4zM1157 286l-20 11 -10 9 -18 23 -10 20 -20 60 -36 70 -7 30 1 16 7 14 13 9 10 2 20 0 30-8 30-15 60-34 30-19 18-15 16-20 10-20 6-30 -3-30 -12-30 -15-20 -20-16 -10-5 -20-6 -30-1zM657 356l-13 13 -6 10 -7 20 -2 20 0 20 6 30 28 10 14 1 21-1 27-10 5-20 2-30 -3-20 -6-20 -16-20 -10-7 -10-3 -10 0 -10 2zM217 649l-20 3 -20 7 -20 10 -14 10 -10 10 -15 20 -9 20 -5 20 -4 30 6 40 2 40 -11 90 -1 30 3 30 10 60 1 30 -3 20 -18 60 -6 40 1 20 4 20 20 60 4 20 0 10 -4 20 -27 70 -3 20 -2 20 2 20 6 20 14 30 31 50 8 20 1 10 -5 30 -19 50 -5 20 -1 30 4 20 9 20 7 10 19 21 20 13 10 4 20 4 20-1 20-6 30-19 15-16 6-10 4-10 4-20 0-30 -4-20 -10-20 -22-30 -6-10 -5-20 0-10 3-20 11-30 16-30 34-50 7-20 1-20 -5-20 -11-20 -23-30 -5-10 -4-10 -2-20 4-20 15-40 37-60 6-20 -1-10 -7-20 -35-40 -7-10 -4-10 -2-20 4-20 9-20 16-20 33-30 9-10 5-10 3-10 -1-10 -4-10 -7-10 -43-40 -8-10 -10-20 -4-20 1-10 3-10 5-10 10-10 64-40 15-16 6-14 -1-10 -4-10 -9-10 -12-10 -70-43 -30-15 -20-3zM1117 649l-20 4 -10 5 -84 51 -12 10 -9 10 -5 10 0 10 3 10 7 10 11 10 64 40 10 10 8 20 -1 20 -6 20 -14 20 -43 40 -9 15 -3 15 2 10 6 10 9 10 33 30 16 20 9 20 4 20 -2 20 -5 10 -6 10 -35 40 -7 20 -1 10 6 20 37 60 12 30 7 30 0 10 -6 20 -28 40 -11 20 -3 10 -2 20 1 10 7 20 34 50 11 20 13 30 6 30 0 10 -5 20 -6 10 -22 30 -10 20 -4 20 -1 20 5 30 10 20 20 20 29 16 20 6 10 0 10 0 20-5 20-11 10-9 10-10 12-17 11-30 3-20 -2-20 -8-30 -16-40 -5-30 4-20 41-70 9-20 6-20 2-30 -3-20 -9-30 -20-50 -5-20 1-10 4-20 20-60 4-20 1-20 -4-30 -17-60 -6-30 1-30 11-60 2-30 -1-30 -11-90 2-40 6-40 -6-40 -7-20 -12-20 -8-10 -20-18 -20-11 -20-7 -30-5zM197 1968l-20 5 -10 6 -10 13 -4 17 2 10 11 20 10 10 14 10 17 8 20 5 20 0 10-1 10-4 12-8 7-10 3-10 -1-10 -8-20 -8-10 -15-12 -20-11 -20-7zM1147 1969l-20 5 -20 10 -19 15 -8 10 -8 20 -1 10 6 15 10 10 10 5 20 4 30-4 20-8 10-6 17-16 7-10 6-20 -1-10 -9-16 -10-8 -10-4 -10-3zM217 2305l-4 4 0 10 8 10 15 10 21 6 10 0 10-2 7-4 2-10 -6-10 -13-10 -20-8 -10-1 -10 0zM1097 2307l-17 12 -6 10 2 10 11 5 20 0 17-5 15-10 8-10 0-10 -10-8 -10-1 -10 0zM277 2850l-4 9 5 10 17 20 12 11 20 16 20 11 40 16 60 9 150 14 70 3 50 0 50-4 150-13 50-8 30-9 20-10 20-12 28-24 17-20 5-10 0-3 -10-7 -90 16 -40 11 -84 33 -46 10 -70 6 -80 2 -80-3 -60-8 -30-7 -60-25 -40-13 -80-17 -30-5zM307 3219l16 10 37 10 77 14 110 11 130 5 130-4 110-12 83-14 37-10 16-10 -26-5 -50-1 -300 4 -310-4 -40 2z"/><path fill="#00c7ff" d="M-23 -21l243 0 -18 30 -6 20 -3 20 1 20 4 20 14 30 25 30 20 16 20 12 20 9 20 5 20 4 20 1 20-2 20-4 20-7 20-11 30-24 22-29 13-30 4-20 1-20 -5-30 -8-20 -12-20 396 0 -16 30 -7 20 -2 20 0 20 5 20 13 30 14 20 12 13 30 22 20 10 20 7 20 4 20 1 20-2 20-4 20-6 20-9 30-21 15-15 16-20 14-30 4-20 1-20 -5-30 -9-20 -13-20 227 0 0 3461 -1391-1zM137 268l-22 11 -24 20 -15 20 -13 30 -4 20 0 30 8 30 11 20 16 20 23 19 110 56 30 12 20 4 20 1 20-6 9-6 6-10 3-10 -1-20 -8-30 -24-60 -17-70 -13-30 -15-20 -10-10 -13-10 -17-9 -20-6 -20-2 -20 1zM1147 268l-21 11 -23 20 -15 20 -13 30 -17 70 -24 60 -8 30 -1 20 3 10 6 10 13 8 10 3 20 1 30-6 30-13 90-45 20-12 20-17 15-19 14-30 6-30 -3-30 -10-30 -12-20 -10-12 -10-9 -20-13 -30-11 -30-2zM667 345l-10 5 -11 9 -14 20 -3 10 -3 20 -1 20 6 40 28 10 18 1 24-1 28-10 4-20 2-30 -2-20 -6-20 -5-10 -8-10 -17-12 -10-3zM207 637l-30 7 -20 9 -20 13 -14 13 -22 30 -8 20 -7 30 -3 20 3 70 -6 120 1 30 9 70 1 30 -4 30 -13 60 -2 30 2 30 18 70 3 30 -6 30 -18 60 -4 40 1 20 6 20 8 20 31 60 7 20 1 10 -3 30 -14 50 -4 20 0 30 5 20 14 30 18 22 20 15 10 6 10 4 20 3 20-2 10-2 20-10 24-16 11-10 14-20 8-30 1-30 -4-20 -11-20 -16-20 -11-20 -4-20 -1-10 5-30 10-30 10-20 35-50 8-20 2-20 -5-20 -5-10 -30-40 -6-10 -3-10 -1-20 5-30 10-30 11-20 27-40 6-18 1-12 -3-10 -5-10 -35-40 -7-10 -4-10 -1-20 3-20 8-20 15-20 42-40 6-10 2-10 -2-13 -10-17 -42-40 -8-10 -9-20 -3-20 1-10 2-10 5-10 9-10 62-40 13-12 5-8 4-10 -1-10 -5-10 -9-10 -14-12 -46-28 -34-25 -20-12 -10-3 -20-3zM1117 638l-20 7 -10 6 -39 28 -47 30 -13 10 -8 10 -5 10 0 10 3 10 7 10 11 10 61 40 10 10 5 10 3 10 0 10 -3 20 -9 20 -8 10 -42 40 -7 10 -4 10 -1 10 2 10 6 10 9 10 33 30 15 20 8 20 3 20 -1 20 -4 10 -7 10 -35 40 -5 10 -2 10 2 20 4 10 33 50 9 20 9 30 3 20 -2 20 -3 10 -6 10 -23 30 -12 20 -5 20 2 20 8 20 40 60 12 30 8 40 -2 20 -7 20 -23 30 -11 20 -4 20 1 30 8 30 14 20 11 10 18 12 20 11 20 6 20 1 20-5 20-10 10-8 24-27 14-30 5-20 0-30 -4-20 -14-50 -3-30 1-10 7-20 36-70 6-20 4-20 0-20 -2-20 -7-30 -16-50 -3-20 3-30 16-60 4-40 -2-30 -13-60 -4-30 1-30 10-90 -6-130 3-70 -5-30 -9-30 -17-30 -19-20 -20-14 -30-13 -30-5zM167 1968l-10 8 -9 13 -3 10 0 10 2 10 10 19 20 19 30 15 30 6 20-1 10-3 11-5 11-10 6-10 2-10 -4-20 -12-20 -14-13 -20-12 -30-12 -20-2 -10 1zM1127 1967l-23 12 -17 12 -15 18 -8 20 -1 10 2 10 6 10 11 10 15 6 10 2 20 1 20-4 20-7 26-18 9-10 11-20 2-20 -3-10 -6-10 -12-10 -17-7 -10-2 -20 1zM217 2295l-9 4 -6 10 2 10 7 10 16 12 20 8 20 3 18-3 10-10 0-10 -6-10 -12-11 -18-9 -12-4 -20-2zM1107 2297l-20 9 -16 13 -6 10 0 10 10 10 22 3 20-4 20-10 12-9 7-10 2-10 -6-10 -5-3 -20-3zM267 2846l-2 3 3 10 7 10 17 20 15 13 30 21 20 10 30 11 60 9 160 15 70 2 80-3 160-14 40-6 20-4 40-16 30-20 30-28 15-20 3-10 -8-5 -10 1 -100 21 -50 16 -60 25 -40 9 -60 7 -90 3 -90-3 -60-8 -30-7 -80-32 -40-11 -90-19 -10-1zM297 3214l-9 5 22 10 39 10 58 11 120 14 70 5 70 1 120-3 110-9 62-9 52-10 39-10 22-10 -15-6 -40-3 -340 5 -330-5 -30 1z"/><path fill="#00d7ff" d="M-23 -21l219 0 -11 20 -8 20 -4 20 -1 20 2 20 5 20 8 20 11 20 29 38 20 21 20 17 20 10 20 7 20 4 30 2 20-1 20-5 20-8 20-12 20-15 20-19 17-19 13-20 10-20 7-20 4-20 2-20 -1-20 -4-20 -17-40 344 0 -17 40 -4 20 -1 20 2 20 4 20 7 20 10 20 14 21 20 23 20 17 20 15 20 11 20 7 20 4 20 1 30-3 20-4 20-7 20-12 30-28 20-24 15-21 11-20 8-20 5-20 2-20 -1-20 -4-20 -18-40 202 0 0 3461 -1391-1zM167 239l-30 8 -30 15 -22 17 -24 30 -13 30 -6 20 -2 20 2 30 9 30 10 20 16 21 20 18 30 17 60 24 60 26 20 6 20 3 30-6 20-11 7-8 3-10 -4-30 -17-70 -1-20 5-20 3-40 -2-20 -8-20 -13-20 -15-20 -18-18 -20-14 -20-7 -20-3 -30-1zM1137 238l-30 7 -20 13 -10 8 -12 13 -22 30 -14 30 -2 30 3 30 5 20 0 10 -3 20 -15 60 -4 30 3 10 9 10 22 11 30 4 30-7 140-59 27-19 18-20 12-20 12-30 4-30 -1-20 -4-20 -6-20 -10-20 -22-28 -30-23 -30-13 -40-8zM677 337l-20 6 -10 7 -16 19 -8 20 -2 20 1 30 3 20 2 10 28 10 50 0 28-10 6-50 -3-30 -7-20 -12-16 -10-8 -10-5zM207 619l-20 2 -20 5 -30 15 -30 25 -24 33 -12 30 -12 50 1 60 -3 60 1 80 8 120 -1 30 -8 70 0 30 3 30 12 60 2 30 -3 30 -15 70 -2 30 2 20 5 20 35 80 7 30 -1 40 -11 60 1 30 4 20 8 20 12 20 11 13 20 18 20 12 10 4 20 3 20-3 10-3 20-11 32-23 11-10 15-20 8-30 1-30 -4-20 -5-10 -31-40 -7-20 -1-20 6-40 10-30 12-20 29-40 5-10 6-20 -1-20 -3-10 -13-20 -24-30 -9-20 -1-20 4-30 10-30 10-20 27-40 8-20 0-10 -2-10 -5-10 -36-40 -7-10 -3-10 -1-20 5-30 11-20 50-50 6-10 2-10 -1-10 -4-10 -7-10 -32-30 -18-20 -8-20 -2-30 2-10 6-10 8-10 61-40 10-10 7-10 4-10 -1-10 -5-10 -9-10 -16-13 -56-37 -44-41 -10-6 -10-2zM1137 618l-20 3 -10 4 -10 8 -5 6 -33 30 -61 40 -12 10 -8 10 -5 10 0 10 4 12 17 18 60 40 9 10 7 20 0 10 -2 20 -8 20 -17 20 -33 30 -7 10 -4 10 -1 10 2 10 6 10 50 50 10 20 7 30 -2 20 -4 10 -6 10 -36 40 -5 10 -2 10 0 10 8 20 27 40 11 20 9 30 4 30 -1 20 -3 10 -13 20 -24 30 -6 10 -3 10 -1 20 2 10 9 20 29 40 16 30 8 30 4 30 -1 20 -7 20 -31 40 -5 10 -5 30 4 30 6 20 6 10 20 20 36 25 20 10 10 3 20 2 20-5 20-10 10-7 27-28 16-30 6-20 3-30 -1-20 -11-60 -1-20 2-20 10-30 27-60 10-30 1-20 -2-30 -15-70 -3-30 2-30 14-70 2-30 -2-30 -7-60 -1-30 9-140 0-60 -3-60 1-60 -9-40 -10-30 -18-30 -17-19 -20-16 -30-16 -30-8zM167 1957l-10 6 -10 10 -9 16 -2 10 3 20 4 10 7 10 17 18 30 17 20 7 20 3 20-1 15-4 15-8 10-10 6-12 1-20 -8-20 -16-20 -33-22 -30-13 -20-3 -10 0zM1137 1956l-30 15 -27 18 -9 10 -12 20 -4 20 2 10 4 10 9 10 17 10 20 4 20 0 20-3 20-7 20-12 15-12 8-10 11-20 3-20 -2-10 -5-11 -10-12 -10-7 -20-7 -20-1zM217 2288l-10 3 -10 7 -4 11 4 12 6 8 12 10 22 12 30 6 20-2 12-6 6-10 -2-10 -5-10 -11-10 -20-12 -20-7 -20-3zM1117 2289l-30 11 -14 9 -11 10 -5 10 -2 10 6 10 16 7 10 1 20-2 20-6 10-5 20-15 7-10 3-10 -3-10 -7-6 -10-4 -10-2zM257 2567l-3 2 4 10 15 10 14 3 10-1 5-2 0-10 -12-10 -13-4 -10-1zM1077 2566l-7 3 -12 10 -1 10 10 3 20-3 15-10 4-10 -9-5 -10 0zM257 2836l-4 3 4 10 24 30 20 20 36 26 40 17 20 5 40 7 170 15 70 3 80-4 160-14 60-10 30-11 20-10 30-22 31-32 15-20 5-10 -11-3 -46 13 -74 16 -40 12 -70 29 -30 7 -33 6 -37 3 -90 3 -100-4 -60-9 -20-5 -90-35 -98-23 -42-12zM287 3208l-9 1 -6 10 26 10 39 10 52 10 71 10 57 6 70 5 70 2 120-3 120-10 70-9 56-11 39-10 26-10 -6-10 -35-2 -360 7 -140-1 -200-6z"/><path fill="#00e7ff" d="M-23 -21l189 0 -15 40 -6 40 4 40 21 70 0 10 -2 10 -8 10 -14 10 -39 22 -20 14 -20 18 -14 16 -19 30 -12 30 -6 30 -2 30 7 40 13 30 19 30 24 24 20 13 30 14 70 19 29 10 -19 7 -40 6 -30 9 -20 9 -25 19 -26 30 -18 30 -17 40 -13 50 -11 120 20 182 3 48 1 100 14 110 -1 40 -9 80 1 30 1 10 6 20 29 70 9 30 4 40 -4 60 0 30 3 20 6 20 15 30 22 27 30 24 10 5 20 7 20-1 20-8 10-7 61-47 16-20 10-30 1-20 -2-20 -10-20 -33-40 -6-20 -2-20 6-40 9-30 11-20 29-40 10-20 3-10 -1-20 -4-10 -6-10 -25-30 -12-20 -3-10 -2-20 4-30 9-30 10-20 28-40 8-20 1-10 -3-10 -5-10 -37-40 -5-10 -4-10 -1-20 5-30 10-20 8-10 41-40 6-10 3-10 -1-10 -4-10 -7-10 -33-30 -16-20 -8-20 -1-30 6-20 9-10 59-40 10-10 8-10 2-10 -2-14 -11-16 -71-50 -19-20 -7-10 -6-20 -2-10 2-10 14-10 45-20 17-10 9-10 2-10 -2-10 -16-60 -2-30 2-10 6-20 14-30 7-10 18-21 30-23 20-11 42-15 20-10 9-10 3-10 7-50 28-80 10-50 1-30 -1-20 -6-30 -10-30 280 0 -10 30 -6 30 -1 20 1 30 10 50 28 80 7 50 3 10 9 10 20 10 36 13 30 15 20 15 24 27 21 40 7 30 0 20 -3 20 -16 60 2 10 9 10 16 10 50 22 10 8 2 10 -8 30 -7 10 -19 20 -58 40 -12 10 -9 10 -5 10 0 10 6 15 14 15 59 40 9 10 4 10 2 10 -1 30 -8 20 -16 20 -33 30 -10 17 -2 13 2 10 7 10 41 40 8 10 10 20 5 30 -1 20 -3 10 -15 20 -28 30 -5 10 -2 10 3 20 12 20 21 30 10 20 9 30 4 30 -2 20 -3 10 -5 10 -24 30 -14 20 -6 20 1 10 7 20 35 50 11 20 9 30 5 40 -1 20 -6 20 -34 40 -6 10 -5 20 2 30 4 20 5 10 16 20 45 36 30 20 20 7 10 0 10-1 20-8 20-13 20-18 24-33 9-20 6-20 4-30 -5-70 2-42 10-36 33-82 4-20 0-40 -8-70 -1-40 14-110 1-100 3-50 21-180 -11-120 -11-40 -11-30 -20-40 -15-20 -18-20 -12-10 -19-12 -30-11 -60-11 -13-6 29-10 64-16 20-8 30-18 21-18 23-30 14-30 6-20 4-20 1-30 -5-30 -10-30 -17-30 -17-22 -20-19 -20-14 -43-25 -14-10 -8-10 -2-10 0-10 21-70 4-40 -2-20 -4-20 -15-40 173 0 0 3461 -1391-1zM647 339l-14 10 -7 10 -6 10 -2 10 -2 30 6 60 29 10 26 1 32-1 28-10 5-30 2-40 -1-20 -8-20 -18-18 -20-10 -10-1 -20 0zM157 1949l-10 7 -11 13 -5 10 -4 20 4 20 4 10 12 17 13 13 17 12 20 9 20 6 20 3 20 0 20-5 11-5 13-10 7-10 4-10 0-20 -7-20 -16-20 -13-10 -39-24 -30-14 -20-2 -10 1zM1137 1948l-40 22 -26 19 -9 10 -11 20 -4 20 1 10 4 10 7 10 18 13 20 6 20 1 20-2 20-5 20-8 23-15 11-10 14-20 7-20 0-20 -5-14 -11-16 -19-14 -20-6 -20 1zM197 2287l-11 12 -1 10 3 10 7 10 11 10 16 10 25 10 30 3 20-3 13-10 3-10 -2-10 -6-10 -9-10 -19-13 -20-8 -20-5 -20-1zM1107 2286l-30 14 -13 9 -9 10 -6 10 -2 10 3 10 7 6 10 5 20 2 30-5 20-8 17-10 11-10 7-10 3-10 -1-10 -8-10 -9-4 -20-3zM247 2558l-6 11 5 10 12 10 9 4 17 6 13 1 11-1 9-10 -3-10 -7-7 -20-11 -20-5zM1077 2559l-21 10 -10 10 -3 10 4 6 6 4 14 1 20-4 20-11 7-6 5-10 -5-10 -7-3 -10 0zM237 2827l-1 2 6 10 27 30 38 37 30 20 40 17 30 7 30 5 170 15 70 3 70-3 180-16 40-6 20-6 40-18 30-21 34-34 27-30 6-10 -7-4 -10 1 -64 23 -66 15 -30 8 -70 29 -30 9 -70 11 -100 3 -100-4 -60-9 -30-8 -70-29 -30-9 -70-16 -31-10 -29-12 -10-2zM257 3207l-8 2 8 10 29 10 40 10 71 13 70 10 60 5 80 5 70 1 80-1 70-4 60-6 70-9 77-14 40-10 28-10 9-10 -24-3 -40-1 -240 6 -140 2 -130-2 -210-6 -40 0z"/><path fill="#00f7ff" d="M-23 -21l145 0 -13 40 -6 30 -3 30 0 60 -3 20 -10 18 -10 12 -40 40 -27 30 -33 50zM578 -21l205 0 -8 50 -3 40 3 110 -2 50 -9 40 -9 30 -8 16 -10 7 -10 1 -30-4 -20-1 -50 5 -10-4 -10-16 -11-34 -9-40 -2-50 3-110 -3-40zM1238 -21l129 0 0 304 -25-34 -59-60 -16-21 -4-9 -3-20 0-60 -3-30 -6-30zM445 329l12-4 20-4 40 1 20 4 20 7 20 10 19 16 5 10 9 40 7 60 31 10 29 1 35-1 31-10 7-60 7-34 10-19 20-15 20-10 20-6 30-5 20 1 20 2 30 10 30 18 19 18 14 20 15 30 6 30 -1 20 -6 30 -14 40 2 10 10 10 52 30 12 10 6 10 2 10 0 20 -13 20 -22 20 -42 28 -14 12 -9 10 -5 10 0 10 3 10 5 8 12 12 58 40 8 10 6 20 -1 30 -7 20 -16 20 -32 30 -8 11 -4 9 -1 10 3 10 6 10 42 40 7 10 9 20 5 30 -1 20 -3 10 -6 10 -37 40 -5 10 -2 10 1 10 6 16 31 44 9 20 8 30 3 30 -1 20 -3 10 -12 20 -26 30 -9 16 -3 14 3 18 6 12 36 50 10 20 6 20 4 20 3 40 -3 20 -5 10 -7 10 -28 30 -13 20 -4 20 2 20 6 20 14 20 59 50 52 50 -1 10 -9 10 -25 20 -58 40 -9 10 -7 10 -7 20 0 20 3 10 6 10 10 10 9 6 20 7 20 3 30-2 20-5 30-13 20-14 13-12 14-20 7-20 2-10 -2-20 -4-10 -12-20 -34-30 -4-10 7-10 33-30 27-30 19-30 9-20 10-40 4-80 9-50 22-55 20-38 17-27 3-23 0 1964 -1391-1 1-2061 10 51 9 70 21 34 20 40 10 23 10 31 7 42 4 80 4 20 6 20 14 30 15 21 20 23 39 36 7 10 -4 10 -32 28 -14 22 -6 20 2 20 2 10 11 20 15 17 20 15 20 11 30 10 20 3 30-2 20-5 20-14 11-15 4-20 -1-10 -7-20 -16-20 -58-40 -25-20 -9-10 -2-10 9-10 44-40 59-50 14-20 6-20 2-20 -4-20 -13-20 -28-30 -7-10 -5-10 -3-20 3-40 4-20 6-20 10-20 37-50 7-20 1-10 -6-20 -39-50 -8-20 -1-20 1-20 10-40 9-20 34-50 4-20 -2-10 -6-10 -27-30 -15-20 -3-10 -1-20 5-30 9-20 8-10 41-40 6-10 3-10 -1-10 -12-20 -32-30 -16-20 -7-20 -1-30 1-10 5-10 8-10 58-40 16-18 4-12 -1-10 -3-8 -10-12 -11-10 -45-30 -22-20 -12-20 -1-20 2-10 6-10 12-10 52-30 10-10 2-10 -16-50 -4-20 0-30 6-20 14-30 17-23 10-10 20-14zM207 2277l-10 2 -10 5 -5 5 -5 10 0 10 4 10 7 10 19 16 30 15 20 5 20 2 20-2 10-4 12-12 2-10 -2-10 -6-10 -9-10 -17-12 -20-11 -20-6 -20-3zM1117 2279l-20 6 -20 9 -20 14 -10 11 -6 10 -2 10 2 10 8 10 18 7 10 1 30-2 20-6 20-10 15-10 10-10 7-10 4-10 0-10 -6-11 -10-7 -10-3 -20-2zM257 2549l-10 1 -10 4 -5 5 -1 10 6 10 11 10 19 10 20 6 20 1 10-3 8-4 3-10 -5-10 -10-10 -16-10 -10-4zM1107 2549l-10 0 -20 5 -14 5 -16 10 -10 10 -4 10 2 10 12 6 20 1 26-7 19-10 11-10 6-10 0-10 -12-8zM227 2817l-3 2 2 10 71 70 30 23 20 11 20 8 20 6 40 8 180 16 70 3 70-2 180-17 30-4 30-8 40-17 30-21 68-66 9-10 3-10 -10-3 -19 3 -51 23 -21 7 -89 22 -70 29 -30 9 -70 11 -100 4 -100-5 -66-10 -31-10 -63-27 -30-8 -63-15 -30-10 -47-21 -10-2zM237 3205l-10 4 17 10 30 10 41 10 62 12 70 10 70 7 70 5 80 2 70-1 70-3 80-7 60-8 80-13 59-14 30-10 17-10 -16-5 -40-3 -240 8 -130 2 -160-1 -250-9 -40 1z"/><path fill="#08fff7" d="M610 -21l140 0 -6 80 -6 170 -11 30 -11 20 -10 10 -19 7 -10 1 -10-2 -10-4 -10-8 -14-24 -11-30 -5-160zM442 339l25-7 20-2 20 1 20 5 20 7 20 13 20 20 13 23 8 30 4 40 32 10 33 2 39-2 32-10 6-50 6-20 10-20 9-10 18-16 20-11 30-10 30-2 20 2 30 10 20 12 20 17 15 18 11 20 7 20 4 20 -2 30 -8 30 -12 30 3 10 10 10 42 25 19 15 7 10 3 10 1 20 -4 10 -15 20 -67 50 -9 10 -4 10 -1 10 3 10 7 10 10 10 57 40 8 10 6 20 -1 30 -7 20 -16 20 -22 20 -15 17 -6 13 -1 10 3 10 6 10 41 40 7 10 9 20 4 30 -1 20 -3 10 -14 20 -28 30 -6 10 -2 10 1 10 9 20 29 40 9 20 9 40 1 20 -1 20 -8 20 -40 50 -5 20 1 10 7 20 37 50 10 20 8 30 3 40 0 20 -7 20 -7 10 -30 30 -16 20 -5 10 -2 20 5 20 12 20 21 20 38 30 27 30 12 20 3 10 1 10 -3 10 -7 10 -22 20 -42 30 -11 10 -11 20 -3 20 3 20 5 10 8 10 12 9 20 8 30 5 20-1 30-6 30-12 20-12 13-11 18-20 6-10 8-20 3-20 -3-20 -3-10 -20-40 -2-10 3-10 12-20 30-40 22-40 11-30 22-96 20-42 20-25 0 1834 -1391-1 1-1846 20 17 20 28 10 20 10 27 15 74 10 30 20 40 36 50 12 20 3 10 -2 10 -20 40 -4 16 -1 14 0 10 5 20 11 20 18 20 17 14 20 11 30 12 30 5 20 0 30-6 20-10 16-16 8-20 -1-20 -7-20 -6-10 -11-10 -43-30 -22-20 -6-10 -3-10 0-10 10-20 23-30 60-50 9-10 12-20 5-20 -2-20 -5-10 -7-10 -30-30 -16-20 -7-20 -1-20 4-40 8-30 10-20 37-50 5-11 3-19 -1-10 -4-10 -40-50 -8-20 -1-20 1-20 9-40 9-20 34-50 4-20 -2-10 -5-10 -28-30 -14-20 -4-20 0-20 4-20 8-20 8-10 41-40 7-10 2-10 -3-16 -9-14 -32-30 -16-20 -7-20 -1-20 2-20 4-10 8-10 57-40 14-15 6-15 -1-10 -4-10 -9-10 -12-10 -43-30 -20-20 -12-20 1-10 5-20 6-10 11-10 50-30 11-10 2-10 -16-40 -5-30 1-30 5-20 16-30 16-20 22-18zM187 2276l-10 6 -6 7 -3 10 1 10 4 10 14 17 17 13 13 7 20 9 20 5 30 1 15-2 15-7 4-3 7-10 1-10 -3-10 -6-10 -20-20 -23-13 -30-11 -20-4 -20 0zM1107 2276l-20 8 -20 11 -19 14 -8 10 -6 10 -3 10 1 10 6 10 19 10 20 3 20-1 20-4 20-8 20-11 20-16 10-13 4-10 1-10 -3-10 -12-11 -10-4 -20-3 -20 1zM237 2545l-9 4 -7 10 1 10 7 10 8 8 19 12 27 10 24 3 17-3 12-10 0-10 -5-10 -9-10 -15-10 -20-9 -20-5 -20-1zM1077 2548l-24 11 -15 10 -9 10 -5 10 0 10 3 3 9 7 11 2 20 0 20-5 17-7 17-10 10-10 7-10 1-10 -7-10 -5-2 -20-4zM217 2812l-5 7 6 10 79 73 30 22 40 19 30 8 30 5 180 16 70 3 70-2 180-16 30-5 30-7 30-12 37-24 88-80 6-10 -11-9 -20 2 -20 7 -39 20 -29 10 -62 15 -30 9 -60 26 -32 10 -68 10 -110 4 -85-4 -67-10 -32-10 -66-28 -30-9 -56-13 -29-10 -38-20 -17-6 -20-4zM227 3198l-10 2 -8 9 21 10 33 10 94 20 80 12 60 7 80 6 80 2 140-3 130-12 70-11 59-11 74-20 21-10 -4-6 -7-4 -23-1 -300 10 -130 2 -120-1 -270-10z"/><path fill="#18ffe7" d="M638 -21l84 0 -17 250 -8 11 -10 9 -10 1 -10-6 -12-15zM465 339l22-2 30 4 20 6 20 12 20 18 16 22 10 30 4 40 33 10 37 2 43-2 33-10 4-40 11-30 5-10 14-17 10-9 20-13 30-10 30-3 30 4 20 8 20 12 20 18 14 20 13 30 4 20 0 20 -6 30 -16 40 3 10 11 10 48 30 11 10 10 20 4 20 -10 20 -20 20 -54 40 -12 18 -2 12 3 10 7 10 10 10 56 40 7 10 5 10 2 20 -2 20 -6 20 -15 20 -35 34 -9 16 -1 10 3 10 6 10 41 40 8 10 5 10 5 20 2 30 -4 20 -14 20 -28 30 -6 10 -2 10 5 20 34 50 9 20 8 40 2 20 -2 20 -8 20 -39 50 -5 10 -1 10 1 12 8 18 37 50 10 20 6 30 4 50 -3 20 -5 10 -16 20 -41 40 -10 20 -1 10 2 10 4 10 15 20 61 50 18 20 15 30 3 20 -2 10 -5 10 -7 10 -11 10 -44 30 -11 10 -8 10 -7 20 -1 20 7 20 7 10 12 10 23 11 20 5 20 2 30-1 40-11 30-16 25-20 10-10 14-20 5-10 6-20 2-30 -10-50 3-20 9-20 44-70 32-62 20-26 0 1719 -1391-1 1-1730 20 16 10 13 44 81 43 70 7 20 0 10 -10 50 2 30 11 30 7 10 16 19 20 17 30 17 30 10 20 4 30 1 30-5 10-3 19-10 12-10 7-10 7-20 -1-20 -7-20 -8-10 -11-10 -44-30 -11-10 -8-10 -4-10 -2-10 3-20 15-30 18-20 61-50 15-20 5-20 -4-20 -7-10 -40-40 -16-20 -5-10 -3-20 4-50 7-30 9-20 37-50 8-20 1-10 -1-10 -4-10 -40-50 -8-20 -2-20 2-20 8-40 9-20 29-41 9-19 1-10 -2-10 -6-10 -28-30 -14-20 -4-20 1-20 3-20 8-20 8-10 40-40 7-10 3-10 -1-10 -5-11 -10-12 -29-27 -15-20 -6-20 -2-20 3-20 3-10 8-10 56-40 12-13 5-7 3-10 -1-10 -5-10 -8-10 -65-50 -15-20 -3-10 3-20 10-20 11-10 48-30 11-10 3-10 -16-40 -6-30 1-30 10-30 14-22 20-22 30-18zM187 2268l-10 4 -10 7 -6 10 -2 10 2 10 11 20 25 21 30 16 20 6 20 4 20 0 20-4 10-3 14-10 6-10 0-10 -3-10 -14-20 -23-18 -30-15 -30-9 -30-2zM1117 2269l-20 5 -20 9 -20 12 -17 14 -8 10 -6 10 -3 10 0 10 6 10 15 10 23 6 20 1 20-2 30-10 20-10 20-14 10-11 12-20 2-10 -2-10 -6-10 -16-10 -20-4 -20 0zM237 2539l-10 2 -10 6 -5 12 2 10 7 10 10 10 15 10 31 13 30 5 20-3 10-4 8-11 -1-10 -5-10 -9-10 -13-10 -20-10 -20-7 -20-4zM1107 2538l-20 3 -20 6 -20 10 -17 12 -9 10 -5 10 -1 10 6 10 16 6 10 2 20-2 30-8 17-8 15-10 10-10 7-10 2-10 -3-10 -8-6 -10-4zM207 2808l-2 1 -1 10 8 10 35 29 50 46 30 22 40 18 30 9 30 4 170 16 70 3 80-2 180-16 30-4 30-8 30-11 30-19 101-87 8-10 -1-10 -8-3 -20-1 -16 4 -24 10 -36 20 -29 10 -65 16 -30 11 -52 23 -35 10 -73 10 -100 3 -80-4 -50-6 -30-6 -22-7 -58-26 -30-10 -59-14 -29-10 -42-23 -18-7 -22-4 -10 0zM187 3198l-2 1 8 10 24 10 76 20 74 14 80 11 80 8 70 4 80 2 80-2 70-4 90-8 70-10 70-13 52-12 34-10 24-10 8-10 -28-4 -40 0 -260 10 -170 3 -160-2 -260-11 -40 0z"/><path fill="#28ffd7" d="M446 349l21-6 20-1 20 2 30 10 20 12 10 9 19 24 5 10 7 20 3 20 1 20 34 10 41 2 47-2 34-10 1-20 3-20 12-30 15-20 18-16 10-6 30-12 20-3 30 2 30 10 20 13 22 22 13 20 10 30 2 20 -1 20 -9 30 -13 30 3 10 12 10 47 30 10 10 11 20 4 20 -9 20 -18 20 -54 40 -10 14 -3 6 0 10 3 11 16 19 55 40 7 10 4 10 2 20 -1 20 -6 20 -15 20 -32 31 -11 19 -1 10 3 10 6 10 41 40 7 10 5 10 5 20 2 30 -4 20 -14 20 -28 30 -5 10 -2 10 4 20 35 50 9 20 7 40 1 20 -1 20 -8 20 -40 50 -4 10 -2 10 4 20 5 10 37 50 10 20 6 30 3 50 -3 20 -4 10 -16 20 -43 40 -12 20 -2 10 2 10 11 20 21 20 40 30 21 20 6 10 9 20 6 20 0 10 -1 10 -3 10 -7 10 -10 10 -57 40 -10 10 -6 10 -3 10 -1 20 7 20 7 10 11 10 17 10 40 12 30 3 30-3 30-8 20-9 20-11 19-14 20-20 20-30 8-20 5-20 7-60 11-25 10-16 20-23 30-25 0 1610 -1391-1 1-1618 20 11 20 17 20 22 13 18 7 12 7 18 7 60 5 20 8 20 20 30 20 20 13 10 20 12 30 13 30 8 30 2 38-5 28-10 17-10 11-10 7-10 4-10 3-20 -4-20 -6-10 -10-10 -43-30 -24-20 -7-10 -4-20 6-30 9-20 6-10 21-20 52-40 16-19 4-11 1-10 -6-20 -16-20 -43-40 -7-10 -4-10 -3-20 3-50 6-30 10-20 37-50 8-20 1-10 -1-10 -5-10 -40-50 -8-20 -1-20 1-20 7-40 9-20 35-50 4-10 1-10 -2-10 -6-10 -28-30 -14-20 -4-20 2-30 5-20 5-10 7-10 41-40 6-10 3-10 -1-10 -7-14 -36-36 -15-20 -6-20 -1-20 2-20 4-10 7-10 12-10 43-30 10-10 7-10 3-10 -1-10 -5-10 -8-10 -54-40 -10-10 -8-10 -9-20 4-20 4-10 7-10 10-10 47-30 12-10 3-10 -17-40 -4-20 -2-20 4-30 14-30 15-20 18-15zM207 2259l-20 1 -20 8 -13 11 -4 10 0 10 2 10 5 10 17 20 12 10 21 13 20 9 20 6 20 3 20 0 20-4 20-7 13-10 5-10 0-10 -3-10 -14-20 -21-18 -30-17 -20-7 -20-5zM1147 2259l-30 4 -30 9 -20 10 -20 13 -15 14 -14 20 -3 10 0 10 5 10 13 10 24 8 20 3 20 0 20-4 20-7 20-9 20-13 19-18 7-10 7-20 0-10 -4-10 -9-9 -10-5 -20-6zM217 2537l-13 12 -1 10 3 10 7 10 10 10 24 16 30 11 30 6 26-3 17-10 4-10 -2-10 -5-10 -20-19 -19-11 -26-10 -25-5 -20-1zM1087 2537l-35 12 -17 10 -13 10 -9 10 -5 10 -2 10 4 10 17 10 10 2 20 0 30-6 20-8 20-11 20-17 7-10 3-10 -1-10 -10-10 -9-4 -20-2zM197 2807l-2 2 2 10 9 10 41 32 50 45 20 15 20 12 30 13 30 8 30 4 170 16 80 3 80-3 180-16 30-5 30-8 30-14 30-20 50-45 47-37 9-10 2-10 -8-6 -10-3 -20 1 -20 5 -20 9 -43 24 -29 10 -58 15 -30 10 -55 25 -35 10 -84 10 -76 2 -80-3 -60-7 -30-6 -19-6 -51-23 -30-11 -62-16 -29-10 -49-27 -20-8 -30-4 -10 1zM167 3195l-5 4 16 10 27 10 76 20 76 15 70 10 90 9 70 4 80 2 80-1 80-4 90-8 70-10 70-12 64-15 61-20 16-10 -11-6 -10-2 -30-1 -290 13 -190 4 -180-4 -270-13 -30 1z"/><path fill="#38ffc7" d="M462 349l25-3 30 5 20 8 20 13 16 17 7 10 10 20 6 20 1 30 10 4 23 6 47 2 53-2 32-10 2-30 10-30 13-20 9-10 21-17 20-9 30-6 20 0 30 7 20 11 20 16 14 18 14 30 4 20 1 20 -7 30 -17 40 4 10 12 10 46 30 10 10 7 10 7 20 2 10 -3 10 -13 20 -10 10 -52 40 -9 11 -4 9 -1 10 3 10 12 16 58 44 7 10 4 10 2 20 -1 20 -5 20 -15 20 -30 29 -9 11 -4 10 -1 10 3 10 6 10 31 30 17 20 4 10 5 20 1 30 -3 20 -14 20 -28 30 -5 10 -2 10 5 20 34 50 9 20 6 40 2 20 -2 20 -7 20 -40 50 -5 10 -1 10 1 10 8 20 37 50 9 20 6 30 3 50 -3 20 -4 10 -17 20 -44 40 -8 12 -6 18 1 10 4 10 7 10 22 20 41 30 20 20 6 10 7 20 5 30 -3 20 -6 10 -10 10 -59 40 -20 20 -5 10 -1 20 7 20 8 10 12 10 17 10 24 10 29 8 30 4 20-1 30-5 30-10 20-10 20-12 18-14 21-20 16-20 35-54 10-12 10-8 20-13 0 1498 -1391-1 1-1504 20 9 20 14 10 10 49 71 29 30 22 17 20 11 40 17 30 6 20 1 30-3 30-7 29-12 17-10 12-10 8-10 5-10 3-20 -2-10 -5-10 -8-10 -12-10 -59-40 -10-10 -6-10 -3-20 5-30 7-20 6-10 20-20 41-30 22-20 10-17 2-13 -2-10 -12-20 -44-40 -17-20 -4-10 -3-20 3-50 6-30 9-20 37-50 5-10 4-20 -1-10 -5-10 -40-50 -7-20 -2-20 2-20 6-40 9-20 35-50 4-20 -2-10 -5-10 -28-30 -14-20 -3-20 1-30 5-20 4-10 17-20 31-30 6-10 3-10 -1-10 -9-16 -34-34 -15-20 -5-20 -1-20 2-20 4-10 7-10 11-10 43-30 10-10 6-10 3-10 -1-10 -10-17 -14-13 -41-30 -11-10 -7-10 -8-20 5-20 10-20 16-14 41-26 12-10 4-10 -17-40 -7-30 2-30 11-30 14-21 20-19 20-12zM167 2257l-19 12 -6 10 -2 10 3 20 12 20 10 10 22 17 20 11 20 9 20 5 20 3 20-1 24-4 25-10 12-10 6-10 0-10 -3-10 -14-20 -22-20 -28-17 -30-11 -40-9 -30 0zM1117 2257l-20 6 -30 12 -22 14 -18 16 -12 14 -9 20 0 10 6 10 12 10 24 10 29 5 30-1 30-9 20-9 26-16 22-20 12-20 4-20 -3-10 -11-14 -20-10 -20-3 -20 0zM227 2528l-10 2 -17 9 -6 10 0 10 4 10 7 10 23 20 19 10 20 9 20 5 20 3 30-3 12-4 11-10 2-10 -2-10 -5-10 -9-10 -19-15 -20-10 -30-11 -30-5zM1107 2528l-20 4 -23 7 -22 10 -16 10 -12 10 -9 10 -5 10 -2 10 2 10 11 10 6 2 20 5 20 0 20-4 20-6 20-9 20-12 18-16 7-10 4-10 0-10 -6-10 -13-8 -20-3zM197 2798l-3 1 -7 10 4 10 9 10 47 36 60 52 30 18 20 9 40 12 40 5 160 14 70 3 90-2 160-14 50-7 30-9 30-13 30-19 60-53 43-32 9-10 4-10 -6-9 -10-3 -20-1 -20 3 -30 12 -50 28 -30 10 -60 16 -20 7 -57 27 -33 8 -40 6 -50 5 -80 2 -42-1 -58-5 -36-5 -34-8 -80-34 -94-28 -46-26 -20-9 -30-8 -20 0zM147 3188l-6 1 1 10 21 10 29 10 78 20 67 13 80 12 90 10 80 5 90 2 70-1 100-6 90-9 80-12 73-14 78-20 29-10 21-10 1-10 -22-3 -40 0 -270 15 -210 4 -210-5 -260-14z"/><path fill="#48ffb7" d="M442 359l25-7 20-2 30 5 20 8 21 16 10 10 13 20 11 30 2 30 13 6 17 4 53 3 59-3 21-5 10-5 1-30 11-30 18-26 10-9 20-13 20-7 20-3 30 1 20 7 20 10 20 18 16 22 9 20 4 20 -1 30 -5 20 -15 30 -3 10 5 10 12 10 45 30 10 10 7 10 7 20 2 10 -7 20 -7 10 -10 10 -52 40 -8 10 -5 10 -1 10 3 10 14 17 56 43 7 10 5 20 -1 30 -5 20 -14 20 -28 26 -10 13 -5 11 -1 10 3 10 6 10 31 30 16 20 4 10 5 20 1 30 -3 20 -14 20 -27 30 -6 10 -2 10 1 10 4 10 35 50 8 20 6 40 0 40 -8 20 -39 50 -5 10 -1 10 1 11 8 19 37 50 9 20 4 20 4 50 -1 20 -6 20 -17 20 -44 40 -13 20 -2 10 1 11 11 19 22 20 41 30 19 20 6 10 6 20 4 20 0 20 -2 10 -6 10 -9 10 -60 40 -23 20 -9 15 -2 15 2 10 7 10 9 10 13 10 17 10 24 10 40 13 30 5 30 1 40-6 40-15 40-23 70-48 30-12 0 1416 -1391-1 1-1418 30 8 20 10 70 48 30 17 40 16 40 8 30 0 30-5 47-14 23-10 31-20 9-10 5-10 3-10 0-10 -4-10 -7-10 -23-20 -60-40 -9-10 -6-10 -2-10 0-20 4-20 6-20 6-10 19-20 41-30 22-20 7-10 4-10 1-10 -7-20 -8-10 -44-40 -16-20 -7-20 -1-20 3-40 5-30 9-20 37-50 8-20 1-10 -1-10 -5-10 -39-50 -8-20 0-40 6-40 8-20 35-50 5-20 -2-10 -5-10 -28-30 -14-20 -3-20 1-30 5-20 4-10 16-20 31-30 6-10 3-10 -1-10 -4-10 -7-10 -32-30 -14-20 -5-20 -1-30 5-20 8-10 11-10 41-30 10-10 7-10 3-10 -1-10 -5-10 -7-9 -53-41 -10-10 -6-10 -8-20 5-20 11-20 24-20 31-20 12-10 5-10 -3-10 -15-30 -5-20 -1-20 2-20 6-20 19-30 16-16zM167 2246l-20 8 -7 5 -8 10 -4 10 1 20 9 20 17 20 22 18 20 12 20 9 20 6 20 3 30 0 30-6 26-12 13-10 6-10 1-10 -3-10 -12-20 -21-20 -30-19 -30-12 -40-11 -30-4zM1127 2248l-30 8 -31 13 -19 10 -20 15 -15 15 -12 20 -3 10 1 10 6 10 12 10 31 13 30 5 30 0 20-4 30-11 30-18 18-15 17-20 9-20 2-10 -1-10 -4-10 -8-10 -18-10 -25-5 -20 0zM207 2525l-10 5 -10 9 -3 10 1 10 5 10 17 20 30 20 40 16 20 5 20 1 18-2 12-4 13-6 9-10 2-10 -3-10 -5-10 -21-20 -25-15 -30-12 -30-8 -30-2zM1087 2528l-30 9 -20 10 -19 12 -12 10 -14 20 -3 10 2 10 9 10 25 10 22 2 20-2 30-8 27-12 23-15 16-15 7-10 5-10 1-10 -3-10 -6-6 -10-6 -10-3 -20-2zM187 2796l-5 3 -3 10 5 10 10 10 53 39 40 35 30 23 40 20 30 9 40 7 98 7 72 8 70 3 90-3 80-8 90-6 40-6 20-5 40-16 30-20 60-51 49-36 10-10 5-10 -3-10 -11-5 -20-3 -20 3 -20 5 -20 7 -58 33 -82 24 -30 12 -50 24 -10 3 -34 7 -56 6 -60 4 -50 0 -100-7 -60-12 -80-35 -86-26 -53-30 -21-9 -20-6 -20-2 -20 1zM117 3186l-5 3 13 10 54 20 68 18 80 16 80 12 90 10 100 6 80 2 80-2 100-6 90-9 70-10 80-16 84-21 54-20 13-10 -11-5 -10-2 -30-1 -313 18 -217 4 -191-4 -299-17 -40 0z"/><path fill="#58ffa7" d="M452 359l25-5 20 0 20 5 20 9 20 15 14 16 6 10 5 10 6 20 2 30 7 5 18 5 62 3 68-3 12-3 10-4 3-3 2-30 11-30 14-20 10-10 20-13 20-8 20-4 30 2 20 6 20 11 20 19 17 27 7 20 2 20 -2 20 -5 20 -15 30 -3 10 6 10 12 10 31 20 13 10 10 10 6 10 8 20 2 10 -2 10 -11 20 -10 10 -51 40 -8 10 -4 10 -1 10 3 10 6 10 9 9 42 31 11 10 7 10 5 20 -1 30 -5 20 -14 20 -31 30 -7 10 -4 10 -1 10 3 10 6 10 31 30 15 20 5 10 4 20 1 30 -3 20 -13 20 -28 30 -5 10 -2 10 4 20 35 50 9 20 5 40 0 40 -8 20 -39 50 -5 10 -1 10 4 20 5 10 37 50 9 20 4 20 3 50 -1 20 -7 20 -16 20 -44 40 -10 14 -5 16 1 10 3 10 7 10 22 20 41 30 19 20 5 10 6 20 3 20 1 20 -3 10 -5 10 -9 10 -16 12 -45 28 -25 20 -10 17 -2 13 2 10 7 10 9 10 14 10 18 10 52 21 40 12 20 4 30 3 40-3 30-5 90-22 50-6 0 1336 -1390 0 0-1337 40 3 30 5 110 26 30 2 30 0 40-7 40-12 27-10 22-10 31-20 10-10 5-10 3-10 -1-10 -4-10 -8-10 -24-20 -41-25 -20-15 -9-10 -5-10 -3-10 1-20 3-20 6-20 5-10 19-20 41-30 22-20 10-18 1-12 -2-10 -13-20 -44-40 -17-20 -6-20 -1-20 3-50 4-20 9-20 37-50 8-20 1-10 -1-10 -5-10 -39-50 -8-20 0-40 5-40 9-20 34-50 4-10 1-10 -2-10 -5-10 -28-30 -13-20 -3-20 1-30 4-20 5-10 15-20 31-30 6-10 3-10 -1-10 -4-10 -9-12 -29-28 -14-20 -5-20 -1-30 5-20 7-10 57-45 11-15 3-10 -1-10 -4-10 -19-20 -40-30 -10-10 -7-10 -7-20 6-20 11-20 10-10 56-40 5-10 -2-10 -15-30 -5-20 -1-30 4-20 9-20 16-22 20-16zM147 2237l-20 11 -9 11 -5 10 -1 10 4 20 10 20 17 20 24 20 30 17 20 8 20 6 20 2 30-2 30-7 20-7 13-7 13-10 7-10 3-10 -2-10 -11-20 -20-20 -31-20 -52-21 -50-13 -30-2zM1137 2239l-30 8 -34 12 -26 12 -27 18 -20 20 -11 20 -2 10 3 10 7 10 13 10 20 10 17 6 30 6 30 1 30-6 20-7 30-16 19-14 11-10 17-20 10-20 4-20 -1-10 -4-10 -9-10 -7-5 -20-9 -30-2zM207 2518l-10 2 -15 9 -7 10 -1 10 2 10 5 10 17 20 19 15 20 11 40 15 20 4 20 1 34-6 18-10 8-10 2-10 -3-10 -5-10 -14-15 -20-15 -40-18 -30-9 -30-5zM1117 2518l-50 12 -24 9 -26 14 -19 16 -9 10 -5 10 -3 10 2 10 8 10 18 10 28 6 20 0 20-3 30-10 20-9 20-12 15-12 17-20 5-10 2-10 -1-10 -8-11 -18-9 -22-3zM187 2789l-10 5 -5 5 -1 10 6 10 11 10 56 40 63 53 20 13 20 10 30 10 50 9 82 5 78 8 80 4 90-3 94-9 76-4 20-3 40-8 30-11 30-17 20-14 50-44 55-39 11-10 6-10 0-10 -17-10 -25-2 -20 3 -20 5 -20 7 -66 37 -84 26 -50 24 -30 12 -41 8 -49 5 -60 4 -50 0 -100-7 -60-12 -80-37 -78-23 -20-10 -32-20 -30-13 -40-9zM87 3179l2 10 19 10 26 10 83 24 100 21 70 11 100 11 100 7 90 2 100-3 100-6 90-11 80-12 100-21 79-23 26-10 19-10 3-10 -27-3 -40 0 -190 13 -160 9 -180 3 -180-3 -350-22 -40 0z"/><path fill="#68ff97" d="M465 359l22-2 20 3 20 6 20 13 11 10 15 20 12 30 1 30 11 8 8 2 72 3 78-3 12-4 7-6 1-30 7-20 5-10 10-15 10-10 10-8 20-11 20-6 20-2 20 2 20 7 20 11 20 20 14 22 6 20 3 20 -2 20 -5 20 -16 30 -2 10 6 10 12 10 31 20 22 20 7 10 8 20 2 10 -2 10 -11 20 -9 10 -50 40 -8 10 -5 10 -1 10 3 10 6 10 10 10 41 30 10 10 7 10 5 20 0 30 -5 20 -14 20 -31 30 -7 10 -4 10 -1 10 3 10 6 10 30 30 16 20 4 10 4 20 1 30 -3 20 -13 20 -27 30 -6 10 -2 10 5 20 35 50 8 20 5 40 0 40 -8 20 -39 50 -4 10 -2 10 1 10 8 20 36 50 9 20 4 20 3 50 -1 20 -6 20 -17 20 -44 40 -8 10 -7 20 1 10 4 10 6 10 22 20 41 30 18 20 5 10 5 20 3 40 -2 10 -5 10 -8 10 -21 15 -40 25 -25 20 -8 10 -5 10 -1 10 3 10 6 11 9 9 31 20 50 22 83 28 87 39 10 4 10 0 60-5 60-2 0 1254 -1390 0 0-1254 70 1 70 6 10-1 20-8 27-14 46-20 77-26 56-24 17-10 17-13 10-12 5-15 -2-10 -3-9 -9-11 -25-20 -46-29 -15-11 -8-10 -5-10 -2-10 3-40 5-20 5-10 18-20 41-30 22-20 7-10 3-10 1-10 -5-15 -10-15 -44-40 -17-20 -6-20 -1-20 3-50 4-20 9-20 36-50 6-13 3-17 -2-10 -4-10 -39-50 -8-20 0-40 5-40 8-20 35-50 4-10 1-10 -2-10 -6-10 -27-30 -13-20 -3-20 1-30 4-20 4-10 16-20 30-30 6-10 3-10 -1-10 -5-11 -10-13 -27-26 -14-20 -5-20 0-30 5-20 7-10 54-43 13-17 3-10 -1-10 -5-10 -8-10 -50-40 -9-10 -7-10 -6-20 6-20 11-20 9-10 56-40 6-10 -2-10 -15-30 -8-30 2-30 12-30 16-20 17-15 20-10zM127 2203l-20 13 -10 13 -6 10 -4 20 2 20 13 30 15 20 30 27 30 19 20 10 30 9 20 2 30-1 30-6 30-10 19-10 14-10 8-10 4-10 1-10 -3-10 -14-20 -24-20 -40-20 -125-47 -30-8zM1197 2209l-20 5 -119 45 -40 20 -24 20 -14 20 -3 10 1 10 4 10 8 10 14 10 19 10 34 11 30 5 30 1 30-6 20-7 30-16 30-22 24-26 16-30 4-10 2-20 -1-10 -5-14 -10-14 -10-10 -10-6 -10-3 -10 1zM177 2518l-11 11 -4 10 0 10 8 20 18 20 12 10 27 17 20 9 20 8 20 4 20 2 20-1 34-9 16-10 8-10 2-10 -2-10 -14-20 -24-19 -20-11 -50-18 -40-9 -30-1 -20 3zM1097 2517l-40 12 -24 10 -19 10 -17 12 -17 18 -5 10 -2 10 2 10 8 10 16 10 38 10 21 0 29-5 30-10 20-10 20-13 25-22 13-20 3-10 0-10 -4-10 -7-8 -10-6 -10-3 -20-2 -20 1zM177 2786l-7 3 -8 10 1 10 7 10 17 14 52 36 68 57 40 21 30 10 40 8 70 4 130 12 50 2 70-2 137-12 63-3 20-3 40-10 40-17 30-21 54-46 58-40 11-10 7-10 1-10 -8-10 -13-5 -20-2 -30 4 -40 12 -20 9 -34 22 -21 10 -75 23 -53 27 -24 10 -53 10 -20 2 -60 4 -60 1 -100-5 -67-12 -24-10 -49-25 -79-25 -21-10 -40-25 -20-9 -30-9 -20-3 -20 0zM87 3169l-20 2 -10 5 -3 3 15 10 51 20 77 22 60 14 100 18 90 11 110 9 100 3 100-1 80-4 90-8 120-18 70-13 91-23 60-20 23-10 15-10 -9-7 -10-2 -30-1 -271 20 -89 5 -139 5 -121 0 -100-2 -150-7 -220-17z"/><path fill="#78ff87" d="M443 369l24-7 20-2 20 3 20 7 15 9 12 10 16 20 11 30 2 30 4 5 9 5 81 3 90-4 10-9 2-30 2-10 9-20 17-21 11-9 19-11 20-6 20-2 20 2 20 7 20 12 18 18 12 20 7 20 3 20 -2 20 -6 20 -16 30 -1 10 6 10 42 30 23 20 6 10 8 20 3 10 -6 20 -7 10 -9 10 -49 40 -8 10 -4 9 -1 11 2 10 7 10 9 10 40 30 11 10 6 10 5 20 0 30 -5 20 -13 20 -31 30 -7 10 -4 10 -1 10 3 10 6 10 30 30 15 20 5 10 3 20 1 30 -3 20 -13 20 -27 30 -5 10 -2 10 5 20 34 50 8 20 5 40 0 40 -8 20 -39 50 -4 10 -2 10 1 10 8 20 36 50 9 20 5 30 1 50 -3 20 -4 10 -16 20 -44 40 -13 20 -2 10 2 15 10 17 20 18 40 30 18 20 5 10 5 20 2 40 -1 10 -5 10 -8 10 -16 12 -45 28 -26 20 -9 14 -4 16 2 10 6 10 9 10 14 10 38 20 70 30 19 10 12 10 8 10 9 20 2 10 -3 10 -8 10 -15 10 -93 40 -34 20 -10 10 -7 10 -4 10 -1 10 2 10 6 10 9 10 14 10 29 14 30 10 30 6 30 2 30-3 20-4 20-8 40-22 32-25 40-40 18-14 20-9 30-6 0 1169 -1390 0 0-1170 30 3 30 10 20 13 44 44 36 27 40 22 20 7 20 4 30 2 30-3 30-6 30-10 25-13 14-10 9-10 6-10 2-10 -1-10 -4-10 -17-20 -34-20 -93-40 -15-10 -8-10 -3-10 2-10 9-20 8-10 12-10 19-10 70-30 38-20 14-10 9-10 6-10 2-10 -1-10 -5-10 -8-10 -11-10 -62-40 -13-10 -8-10 -5-10 -2-20 5-40 8-20 18-20 40-30 21-20 7-10 3-10 1-10 -7-20 -8-10 -44-40 -16-20 -6-20 -1-20 2-50 4-20 9-20 36-50 5-10 3-20 -1-10 -4-10 -39-50 -8-20 0-40 5-40 8-20 34-50 5-20 -2-10 -5-10 -27-30 -13-20 -3-20 1-30 4-20 4-10 15-20 30-30 6-10 3-10 -1-10 -4-10 -7-10 -31-30 -13-20 -5-20 0-30 5-20 6-10 11-10 41-31 8-9 6-10 3-10 -1-10 -4-10 -8-10 -49-40 -10-10 -6-10 -6-20 6-20 11-20 23-20 42-30 6-10 -1-10 -16-30 -6-20 -2-20 3-20 6-20 15-23 19-17zM167 2509l-14 10 -5 10 -1 10 5 20 14 20 22 20 19 13 30 16 20 7 20 6 20 2 30-2 20-4 22-8 15-10 8-10 3-10 -2-10 -6-12 -18-18 -33-20 -59-22 -50-12 -30-2 -20 2zM1117 2508l-30 8 -40 13 -42 20 -15 10 -18 20 -5 10 -2 10 3 10 8 10 21 12 23 8 37 4 20-2 30-7 30-13 30-18 17-14 18-20 10-20 1-10 -1-10 -5-10 -10-8 -20-7 -30-1zM187 2778l-20 4 -11 7 -4 10 3 10 7 10 15 13 70 47 50 43 20 13 20 11 30 11 30 7 20 3 190 15 50 2 80-1 200-15 30-5 30-7 30-12 30-17 69-58 60-40 12-10 7-10 3-10 -4-10 -17-9 -30-2 -30 3 -20 5 -30 11 -20 11 -34 21 -22 10 -74 25 -46 25 -24 10 -50 9 -30 3 -60 3 -60 1 -94-6 -66-12 -70-36 -68-22 -22-10 -40-25 -20-9 -40-13 -30-4zM27 3165l-8 4 11 10 45 20 42 14 70 19 100 22 120 18 90 9 80 5 90 2 100-1 90-5 90-9 120-18 100-21 89-25 54-20 20-10 11-10 -14-5 -40-2 -341 27 -159 7 -120 1 -110-2 -143-6 -327-26 -40-1z"/><path fill="#87ff78" d="M451 369l26-6 20 1 30 9 20 14 12 12 12 20 9 30 0 20 9 10 88 3 94-3 9-10 0-20 5-20 9-20 7-10 10-10 16-12 20-9 20-5 30 2 20 7 10 6 15 11 9 10 8 10 10 20 4 20 -1 30 -6 20 -16 30 -1 10 6 10 55 40 10 10 10 20 7 20 -6 20 -6 10 -9 10 -49 40 -10 16 -3 14 3 10 10 14 55 46 7 10 4 20 0 30 -4 20 -14 20 -28 28 -9 12 -4 10 -1 10 3 10 6 10 30 30 15 20 4 10 3 20 2 30 -4 20 -12 20 -27 30 -5 10 -2 10 1 10 4 10 34 50 8 20 4 40 0 40 -8 20 -38 50 -5 10 -1 10 2 14 7 16 29 40 11 20 7 30 3 50 -1 20 -7 20 -16 20 -44 40 -12 20 -2 10 1 10 4 12 14 18 52 40 17 20 5 10 4 20 3 40 -2 10 -4 10 -8 10 -13 10 -48 30 -24 20 -8 10 -4 10 -2 10 2 10 5 10 10 10 13 10 37 20 64 30 15 10 9 10 6 10 8 30 -1 10 -5 10 -12 10 -18 10 -70 30 -34 20 -11 10 -6 10 -3 10 0 10 4 10 7 10 10 10 32 20 46 17 50 10 40 2 30-2 30-5 80-19 30-2 50-1 0 775 -30-1 -40 2 -254 24 -144 10 -202 5 -110-1 -126-4 -144-10 -280-25 -40 0 -17 5 9 10 18 10 60 23 100 29 100 22 120 19 90 10 80 6 110 3 80-1 110-5 100-10 80-12 100-19 90-22 76-23 50-20 14-8 0 268 -1390 0 0-1060 90 3 30 5 60 15 30 5 30 1 40-2 50-11 42-16 18-10 14-10 10-10 7-10 3-10 1-10 -3-10 -7-10 -10-10 -15-10 -19-10 -70-30 -18-10 -12-10 -5-10 -1-10 8-30 6-10 8-10 16-10 64-30 37-20 13-10 10-10 5-10 2-10 -4-16 -9-14 -25-20 -48-30 -13-10 -8-10 -4-10 -2-10 3-40 4-20 5-10 17-20 40-30 20-19 10-19 1-12 -2-10 -13-20 -43-40 -16-20 -7-20 0-20 2-50 3-20 9-20 35-50 8-20 1-10 -2-10 -4-10 -38-50 -8-20 0-40 4-40 8-20 34-50 5-20 -2-10 -5-10 -27-30 -12-20 -4-20 2-30 3-20 4-10 15-20 30-30 6-10 3-10 -1-10 -4-10 -7-10 -30-30 -14-20 -4-20 0-30 4-20 7-10 10-10 39-30 10-10 6-10 3-10 -1-10 -5-10 -7-10 -49-40 -9-10 -6-10 -6-20 7-20 10-20 23-20 41-30 7-10 -1-10 -16-30 -6-20 -2-20 3-20 7-20 13-20 18-17zM147 2497l-16 12 -5 10 -1 10 1 10 9 20 15 20 22 20 25 17 30 15 40 13 20 3 30-2 34-6 25-10 14-10 8-10 3-10 0-10 -4-10 -8-10 -25-20 -19-10 -58-23 -70-20 -20-4 -20-1 -20 3zM1137 2497l-80 25 -42 17 -19 10 -14 10 -11 10 -8 10 -4 10 -1 10 4 10 8 10 14 10 13 5 30 9 30 4 30-2 20-4 20-7 40-21 33-24 18-20 12-20 4-10 0-20 -5-10 -12-10 -20-7 -30 0zM157 2777l-10 6 -5 6 -2 10 5 10 8 10 26 20 49 30 69 58 30 18 20 8 40 12 40 5 90 6 90 8 50 2 90-2 100-8 80-5 40-5 40-11 30-12 30-19 52-45 76-50 20-20 5-10 -3-12 -9-8 -11-4 -30-3 -40 5 -30 7 -30 12 -55 33 -23 10 -52 17 -20 9 -39 24 -21 8 -80 13 -60 3 -60 0 -82-4 -68-11 -25-9 -45-27 -20-8 -46-15 -23-10 -41-26 -40-17 -30-8 -30-5 -30 0z"/><path fill="#97ff68" d="M461 369l26-3 20 3 20 8 20 14 16 18 9 20 5 20 0 20 7 10 93 4 99-4 7-10 0-20 5-20 9-19 8-11 12-12 20-12 30-9 30 2 20 7 10 6 21 18 9 13 9 17 4 20 -1 30 -6 20 -16 30 -1 10 7 10 41 30 22 20 11 20 7 20 -6 20 -6 10 -8 10 -48 40 -9 12 -3 8 -1 10 2 10 12 16 53 44 6 10 5 20 -1 30 -4 20 -13 20 -26 26 -11 14 -4 10 -1 10 3 10 6 10 30 30 15 20 3 10 4 20 1 30 -3 20 -13 20 -26 30 -6 10 -1 10 4 20 34 50 8 20 4 40 0 40 -8 20 -38 50 -4 10 -1 10 3 20 5 10 29 40 11 20 7 30 2 50 -1 20 -6 20 -16 20 -34 30 -16 19 -5 11 -3 10 1 10 7 17 11 13 51 40 17 20 7 20 4 50 -2 10 -4 10 -8 10 -12 10 -48 30 -24 20 -12 19 -1 11 1 10 6 10 9 10 12 10 23 13 56 27 18 10 13 10 7 10 4 10 7 30 -1 10 -4 10 -10 10 -16 10 -68 30 -33 20 -10 10 -6 10 -3 10 1 10 4 10 18 20 32 20 31 13 30 10 69 17 11 4 14 6 10 10 4 10 -1 10 -7 10 -13 10 -44 20 -80 30 -42 20 -14 10 -17 18 -4 12 0 10 3 10 8 10 14 10 29 12 30 7 30 3 30-1 20-3 40-15 50-29 40-34 40-42 20-14 20-6 40-3 0 638 -367 37 -164 10 -159 3 -153-3 -164-10 -111-10 -212-23 -60-5 0-637 50 2 20 5 10 4 20 16 46 48 34 26 50 29 20 8 20 6 20 2 30 1 30-4 30-7 25-11 14-10 8-10 4-10 -1-12 -10-18 -11-10 -14-10 -42-20 -80-30 -43-20 -14-10 -7-10 -1-10 4-10 11-10 7-3 17-7 73-18 30-10 27-12 32-20 11-10 11-20 1-10 -2-10 -7-10 -10-10 -33-20 -68-30 -17-10 -9-10 -4-10 -1-10 7-30 4-10 7-10 13-10 18-10 60-29 19-11 13-10 9-10 4-10 2-10 -1-10 -4-10 -8-10 -24-20 -48-30 -12-10 -8-10 -4-10 -2-10 4-50 7-20 17-20 39-30 17-15 10-15 3-10 1-10 -4-13 -10-17 -44-40 -16-20 -6-20 -1-20 2-50 7-30 11-20 29-40 8-20 0-10 -1-10 -4-10 -39-50 -7-20 0-40 4-40 8-20 34-50 4-20 -2-10 -5-10 -26-30 -13-20 -3-20 1-30 4-20 3-10 15-20 30-30 6-10 3-10 -1-10 -4-10 -7-10 -30-30 -13-20 -4-20 -1-30 5-20 6-10 10-10 39-30 9-10 6-10 3-10 -1-10 -4-10 -8-10 -48-40 -8-10 -6-10 -6-20 7-20 11-20 22-20 41-30 7-10 -1-10 -16-30 -6-20 -2-20 2-20 8-20 18-25 20-16zM157 2767l-20 7 -6 5 -5 10 1 10 5 10 9 10 16 13 76 47 44 38 20 16 40 20 40 13 40 7 116 6 74 7 50 2 90-2 80-7 110-6 50-8 30-9 40-20 24-17 46-41 80-49 12-10 9-10 5-10 1-10 -7-12 -10-6 -20-5 -30 0 -40 6 -40 10 -30 12 -60 35 -70 27 -52 33 -18 7 -30 6 -58 7 -112 3 -70-3 -70-10 -20-5 -29-15 -21-15 -20-11 -64-24 -56-33 -30-13 -40-11 -30-5 -30-2zM-23 3179l0-3 70 26 110 31 90 20 60 11 70 11 100 10 110 7 90 2 90-2 110-6 100-11 70-10 70-13 90-20 100-28 60-21 0 256 -1390 0z"/><path fill="#a7ff58" d="M477 369l20 1 20 5 20 11 14 13 8 10 10 20 5 20 0 20 5 10 98 4 104-4 5-10 0-20 5-20 10-20 18-20 16-10 12-6 20-4 30 2 20 7 20 14 15 17 11 20 5 20 0 20 -4 20 -20 40 0 10 7 10 12 10 41 30 15 20 9 20 3 10 -6 20 -5 10 -9 10 -47 40 -7 10 -5 10 -1 10 3 10 13 18 40 32 10 10 6 10 5 20 0 30 -4 20 -13 20 -29 30 -8 10 -4 10 0 10 2 10 6 10 30 30 14 20 4 10 3 20 1 30 -3 20 -12 20 -27 30 -5 10 -1 10 4 20 34 50 8 20 4 40 -1 40 -7 20 -38 50 -4 10 -2 10 1 10 8 20 34 50 8 20 4 30 1 50 -3 20 -4 10 -16 20 -42 40 -12 20 -2 10 0 10 3 10 7 11 19 19 39 30 17 20 6 20 4 50 -2 10 -4 10 -8 10 -12 10 -47 30 -24 20 -8 12 -4 18 1 10 5 10 9 10 12 10 17 10 59 30 17 10 11 10 7 10 3 10 4 20 1 20 -3 10 -9 10 -15 10 -66 30 -19 10 -13 10 -10 10 -6 10 -2 10 1 10 5 10 7 10 11 10 17 12 30 16 87 32 17 10 8 10 4 10 1 10 -3 10 -6 10 -12 10 -18 10 -95 40 -33 20 -11 10 -6 10 -3 10 0 10 4 10 9 10 13 10 21 10 43 11 40 5 40 1 30-2 29-5 51-13 30-5 110-2 0 504 -209 26 -212 20 -159 8 -110 2 -110-2 -153-8 -212-20 -225-28 0-502 120 1 30 4 57 15 23 4 40 3 40-1 40-5 40-11 20-10 13-10 9-10 4-10 0-10 -3-10 -7-10 -10-10 -33-20 -95-40 -18-10 -12-10 -6-10 -2-10 0-10 4-10 8-10 17-10 71-25 20-9 29-16 14-10 19-20 4-10 1-10 -2-10 -6-10 -9-10 -15-10 -84-40 -15-10 -9-10 -3-10 0-10 5-30 3-10 7-10 12-10 16-10 53-27 23-13 12-10 9-10 5-10 2-10 -2-10 -11-20 -24-20 -47-30 -12-10 -8-10 -4-10 -2-10 4-50 6-20 17-20 42-33 17-17 6-10 3-10 0-10 -6-19 -8-11 -42-40 -16-20 -6-20 -1-20 1-50 7-30 11-20 28-40 6-13 3-17 -2-10 -4-10 -38-50 -7-20 -1-40 4-40 8-20 34-50 3-10 1-10 -1-10 -5-10 -27-30 -12-20 -3-20 1-30 3-20 4-10 14-20 30-30 6-10 2-10 0-10 -4-10 -9-12 -28-28 -13-20 -4-20 0-30 5-20 6-10 54-47 9-13 3-10 -2-12 -4-8 -7-10 -47-40 -9-10 -5-10 -6-20 7-20 11-20 21-20 41-30 7-10 0-10 -16-30 -8-30 2-30 8-20 15-21 20-17 20-8zM137 2758l-20 7 -6 4 -7 10 -1 10 4 10 6 10 10 10 34 24 50 26 28 20 45 40 27 16 20 9 40 13 50 9 80 3 90 8 70 3 90-2 110-8 80-3 30-4 40-10 30-10 30-16 26-18 45-40 79-45 20-15 10-10 7-10 3-10 -1-10 -7-10 -12-7 -10-3 -30-3 -50 5 -69 18 -31 11 -72 39 -38 16 -20 12 -29 22 -17 10 -14 5 -30 6 -80 9 -110 1 -90-8 -50-9 -25-14 -35-27 -20-10 -32-13 -53-30 -21-10 -29-10 -65-17 -50-6zM-23 3189l0-3 90 29 110 28 100 20 60 10 90 11 100 9 70 3 80 1 90-1 70-4 90-7 90-11 70-11 100-21 80-20 100-30 0 247 -1390 0z"/><path fill="#b7ff48" d="M448 379l19-6 30-1 20 6 20 11 19 20 10 20 5 20 1 20 3 10 102 4 108-4 4-10 0-20 5-20 10-20 20-20 23-13 20-4 30 2 20 7 20 14 12 14 11 20 5 20 -1 30 -7 20 -16 30 0 10 7 10 41 30 21 20 11 20 7 20 -5 20 -6 10 -8 10 -46 40 -8 10 -4 10 -1 10 3 10 5 10 9 9 38 31 10 10 6 10 4 20 0 30 -4 20 -12 20 -29 30 -7 10 -4 10 -1 10 2 10 6 10 29 30 15 20 3 10 3 20 1 30 -3 20 -12 20 -26 30 -5 10 -2 10 5 20 34 50 7 20 4 40 -1 40 -7 20 -38 50 -4 10 -1 10 1 10 7 20 34 50 8 20 4 30 1 50 -3 20 -4 10 -16 20 -42 40 -11 18 -3 12 0 10 3 10 10 15 16 15 38 30 16 20 6 20 4 50 -2 10 -4 10 -7 10 -12 10 -46 30 -24 20 -7 10 -4 10 -1 10 1 10 5 10 8 10 12 10 21 13 53 27 15 10 11 10 5 10 3 10 4 20 1 20 -3 10 -8 10 -15 10 -63 30 -32 20 -11 13 -5 17 1 10 4 10 19 20 14 10 27 15 79 35 14 10 7 10 5 20 -1 10 -4 10 -8 10 -15 10 -91 40 -32 20 -10 10 -6 10 -3 10 1 10 4 10 10 11 11 9 29 13 40 11 104 16 31 10 15 10 10 10 3 20 -4 10 -13 10 -57 20 -102 30 -49 20 -38 23 -41 37 -28 20 -40 10 -91 9 -80 1 -100-7 -24-3 -36-8 -21-12 -49-44 -42-26 -49-20 -134-40 -24-10 -14-10 -4-10 3-20 9-10 16-10 31-10 98-15 50-13 24-12 14-10 8-10 4-10 1-10 -3-10 -6-10 -10-10 -32-20 -91-40 -15-10 -8-10 -4-10 -1-10 5-20 7-10 14-10 83-37 37-23 11-10 8-10 4-10 1-10 -1-10 -6-10 -9-10 -14-10 -81-40 -15-10 -8-10 -3-10 0-10 5-30 8-20 11-10 15-10 57-30 20-13 17-17 5-10 1-10 -3-15 -9-15 -24-20 -46-30 -12-10 -7-10 -4-10 -2-10 4-50 6-20 16-20 38-30 20-20 9-20 0-10 -7-20 -7-10 -42-40 -16-20 -4-10 -3-20 1-50 4-30 8-20 34-50 7-20 1-10 -1-10 -4-10 -38-50 -7-20 -1-40 4-40 7-20 34-50 5-20 -2-10 -5-10 -26-30 -12-20 -3-20 1-30 3-20 3-10 15-20 29-30 6-10 2-10 -1-10 -4-10 -10-14 -26-26 -12-20 -4-20 0-30 4-20 6-10 52-45 10-15 3-10 -3-15 -10-15 -46-40 -8-10 -6-10 -5-20 7-20 11-20 21-20 41-30 7-10 0-10 -16-30 -7-20 -1-30 5-20 11-20 16-17zM-23 2809l50 2 20 4 20 7 70 33 56 24 17 10 57 44 40 20 40 14 40 9 40 5 250 12 50-1 120-8 80-3 50-5 40-10 30-10 36-17 31-20 37-30 16-10 22-10 38-15 80-37 30-6 30-2 0 313 -186 27 -179 20 -129 10 -196 5 -190-5 -129-10 -179-20 -202-29zM-23 3199l0-2 90 26 80 21 100 20 70 12 70 9 110 10 180 6 70-1 120-5 100-10 80-10 70-12 90-18 80-20 80-23 0 237 -1390 0z"/><path fill="#c7ff38" d="M455 379l22-5 20 1 20 6 20 12 16 16 11 20 5 20 0 20 2 10 106 4 112-4 2-10 0-20 6-20 11-20 19-19 20-11 20-5 30 2 20 8 20 15 10 12 10 18 5 20 -1 30 -7 20 -16 30 1 10 7 10 40 30 21 20 11 20 7 20 -5 20 -5 10 -8 10 -46 40 -7 10 -5 10 0 10 2 10 6 10 9 10 37 30 9 10 6 10 5 20 0 30 -4 20 -13 20 -28 30 -7 10 -4 10 -1 10 3 10 6 10 28 30 14 20 4 10 3 20 1 30 -3 20 -12 20 -26 30 -5 10 -2 10 5 20 33 50 8 20 3 40 -1 40 -7 20 -37 50 -4 10 -1 10 1 12 7 18 33 50 8 20 4 30 0 50 -3 20 -4 10 -15 20 -42 40 -8 13 -5 17 0 10 3 10 12 18 50 42 16 20 6 20 3 50 -1 10 -4 10 -8 10 -11 10 -46 30 -23 20 -11 20 -1 10 2 10 4 10 14 15 21 15 56 30 14 10 10 10 8 20 4 40 -3 10 -7 10 -14 10 -62 30 -17 10 -13 10 -9 10 -5 10 -2 10 1 10 5 10 18 20 35 23 76 37 12 10 6 10 3 10 2 20 -3 10 -7 10 -12 10 -87 40 -30 19 -11 11 -6 10 -2 10 1 10 4 10 8 10 13 10 19 10 44 15 73 15 26 10 12 10 5 10 -1 20 -1 10 -5 10 -12 10 -21 10 -28 10 -74 20 -29 10 -22 10 -16 10 -11 10 -31 40 -11 10 -17 10 -48 10 -89 7 -80 0 -100-7 -50-9 -18-11 -11-10 -31-40 -11-10 -16-10 -22-10 -29-10 -62-16 -40-14 -21-10 -12-10 -5-10 -2-30 5-10 11-10 27-10 77-16 40-14 19-10 13-10 8-10 4-10 1-10 -2-10 -6-10 -10-10 -31-20 -86-40 -13-10 -7-10 -3-10 0-10 5-20 6-10 12-10 80-40 30-19 12-11 8-10 4-10 1-10 -2-10 -5-10 -9-10 -13-10 -79-40 -14-10 -7-10 -3-10 0-10 4-30 8-20 10-10 14-10 71-40 12-10 8-10 4-10 2-10 -1-10 -4-10 -7-10 -23-20 -46-30 -11-10 -8-10 -3-10 -2-10 3-50 6-20 16-20 37-30 17-17 8-13 3-10 0-10 -2-10 -11-20 -42-40 -15-20 -4-10 -3-20 0-50 4-30 8-20 33-50 8-20 0-10 -5-20 -37-50 -7-20 -1-40 3-40 8-20 33-50 5-20 -2-10 -5-10 -26-30 -12-20 -3-20 1-30 3-20 4-10 14-20 28-30 6-10 3-10 -1-10 -4-10 -7-10 -28-30 -13-20 -3-20 0-30 4-20 6-10 9-10 40-33 12-17 2-10 0-10 -5-10 -7-10 -46-40 -8-10 -5-10 -5-20 7-20 11-20 21-20 40-30 7-10 1-10 -16-30 -7-20 -2-20 3-20 8-20 9-14 18-16zM-14 2939l31-2 50 0 130 7 60 8 90 22 60 10 40 3 90 2 80 6 60 1 60-1 86-6 124-4 60-9 90-23 40-6 150-10 80 1 0 161 -154 30 -125 20 -171 20 -100 6 -90 4 -120-1 -164-9 -96-10 -75-10 -125-20 -106-20 -49-10 -15-5 0-154zM-23 3219l0-5 80 21 90 20 100 19 80 11 90 10 110 7 160 4 80-1 80-4 90-6 100-11 70-9 110-20 90-21 60-16 0 221 -1390 0z"/><path fill="#d7ff28" d="M464 379l23-2 20 3 20 9 13 10 9 10 12 20 5 20 2 30 109 5 115-5 2-30 5-20 12-20 16-16 20-11 20-5 20 0 20 5 20 12 16 15 11 20 6 20 0 20 -1 10 -7 20 -17 30 2 10 7 10 40 30 20 20 11 20 7 20 -5 20 -5 10 -8 10 -44 40 -8 10 -4 10 -1 10 3 10 7 12 53 48 6 10 4 20 0 30 -4 20 -12 20 -27 29 -8 11 -4 10 -1 10 3 10 6 10 36 40 6 10 5 20 2 40 -3 20 -12 20 -25 30 -5 10 -2 10 5 20 33 50 7 20 3 40 -1 40 -7 20 -36 50 -4 10 -2 10 1 10 7 20 34 50 7 20 3 30 1 50 -3 20 -4 10 -15 20 -41 40 -7 10 -7 20 1 10 8 20 19 20 36 30 16 20 5 20 3 50 -5 20 -7 10 -11 10 -47 31 -21 19 -9 17 -2 13 1 10 5 10 16 18 20 13 51 29 14 10 9 10 7 20 4 40 -3 10 -7 10 -13 10 -60 30 -29 20 -13 18 -2 12 1 10 4 10 7 10 11 10 30 20 58 30 17 10 10 10 8 20 2 20 -1 10 -6 10 -12 10 -17 10 -66 30 -30 20 -14 19 -3 11 3 15 10 15 13 10 17 10 40 14 61 16 24 10 10 10 4 10 -1 20 -4 20 -9 10 -18 10 -27 11 -71 19 -28 10 -21 10 -14 10 -10 10 -26 40 -10 10 -10 6 -10 5 -57 9 -83 5 -80 0 -77-5 -63-11 -14-9 -10-10 -26-40 -10-10 -14-10 -21-10 -28-10 -67-18 -31-12 -18-10 -9-10 -4-20 -2-20 5-10 10-10 24-10 75-20 30-13 13-7 17-15 8-15 1-10 -3-10 -5-10 -11-12 -28-18 -66-30 -17-10 -12-10 -6-10 -1-10 2-20 3-10 5-10 11-10 15-10 54-27 35-23 18-20 4-10 2-10 -2-10 -5-10 -9-10 -12-10 -77-40 -13-10 -7-10 -3-20 4-30 7-20 9-10 14-10 53-30 22-16 12-14 5-10 1-10 -1-10 -4-10 -7-10 -16-15 -51-35 -11-10 -7-10 -4-10 -1-10 3-50 5-20 16-20 36-30 14-14 11-16 2-10 1-10 -4-14 -10-16 -41-40 -15-20 -4-10 -3-20 1-50 3-30 7-20 34-50 7-20 1-10 -6-20 -36-50 -7-20 -1-40 3-40 7-20 33-50 5-20 -2-10 -5-10 -25-30 -12-20 -3-20 2-40 5-20 6-10 36-40 6-10 3-10 -1-10 -4-10 -7-10 -28-30 -12-20 -4-20 0-30 4-20 6-10 9-10 38-31 13-19 3-10 -1-10 -4-10 -8-10 -44-40 -8-10 -5-10 -5-20 7-20 11-20 20-20 40-30 7-10 2-10 -17-30 -7-20 -2-20 3-20 8-20 17-20 20-14zM92 2979l25-4 30-2 90 0 60 4 130 15 260 7 240-7 160-17 110-3 40 2 31 5 23 10 6 10 -2 10 -6 10 -9 10 -26 20 -27 16 -40 21 -40 17 -90 28 -83 18 -107 14 -100 7 -120 2 -100-4 -110-11 -60-10 -50-10 -80-22 -50-19 -50-23 -41-24 -26-20 -9-10 -6-10 -2-10 6-10zM-23 3289l0-5 120 1 120 6 250 16 120 5 110 1 200-6 330-21 140-2 0 78 -70 22 -120 30 -60 11 -109 14 -656 0 -105-14 -60-10 -120-30 -90-29z"/><path fill="#e7ff18" d="M445 389l22-8 20-2 20 4 20 9 19 17 12 20 5 20 2 30 122 5 108-5 2-30 5-20 12-20 13-13 20-11 20-5 20 0 20 5 20 12 13 12 12 20 5 20 1 10 -2 20 -7 20 -12 20 -4 10 1 10 8 10 39 30 20 20 11 20 7 20 -4 20 -5 10 -8 10 -44 40 -7 10 -4 9 -1 11 2 10 9 14 51 46 5 10 4 20 0 30 -3 20 -12 20 -25 26 -10 14 -4 10 0 10 2 10 6 10 36 40 6 10 5 20 1 40 -3 20 -11 20 -25 30 -5 10 -2 10 5 20 32 50 7 20 4 40 -1 40 -7 20 -37 50 -5 20 1 10 7 20 33 50 7 20 3 20 0 60 -2 20 -4 10 -16 20 -40 40 -6 10 -7 20 0 10 3 10 7 12 17 18 36 30 15 20 5 20 2 50 -4 20 -7 10 -11 10 -44 30 -22 20 -7 11 -5 19 2 10 4 10 7 10 11 10 67 40 13 10 9 10 6 20 3 40 -2 10 -7 10 -13 10 -58 30 -27 19 -10 13 -4 8 -1 10 1 10 4 10 17 20 33 22 52 28 14 10 9 10 5 10 3 10 3 20 -2 10 -5 10 -10 10 -17 10 -63 30 -29 20 -10 12 -6 18 1 10 4 10 8 10 12 10 31 16 76 24 21 10 10 10 4 10 -1 10 -5 30 -7 10 -16 10 -23 10 -71 20 -27 10 -19 10 -13 10 -10 10 -23 40 -9 10 -17 9 -10 2 -72 9 -108 3 -82-3 -58-7 -30-6 -10-7 -10-10 -24-40 -9-10 -13-10 -19-10 -27-10 -71-20 -23-10 -16-10 -7-10 -3-10 -3-30 4-10 10-10 21-10 70-22 30-14 19-14 8-10 4-10 1-10 -2-11 -5-9 -9-10 -29-20 -63-30 -17-10 -10-10 -5-10 -1-10 2-20 2-10 6-10 9-10 14-10 56-30 29-20 10-10 7-10 4-10 2-10 -2-10 -5-10 -15-16 -21-14 -58-30 -13-10 -7-10 -2-20 3-30 6-20 9-10 13-10 50-29 20-14 15-17 5-10 1-10 -1-10 -4-10 -16-20 -57-40 -11-10 -7-10 -3-10 -1-20 2-40 5-20 15-20 37-30 18-20 5-10 3-10 0-10 -6-19 -7-11 -40-40 -16-20 -4-10 -2-20 0-60 3-20 7-20 33-50 6-16 2-14 -2-10 -3-10 -37-50 -7-20 0-40 3-40 7-20 32-50 5-20 -2-10 -5-10 -25-30 -11-20 -3-20 1-40 5-20 6-10 36-40 6-10 3-10 -1-10 -4-10 -7-10 -28-30 -12-20 -3-20 0-30 4-20 5-10 10-10 35-30 10-11 5-9 2-10 -1-10 -4-10 -7-10 -44-40 -8-10 -5-10 -4-20 7-20 11-20 20-20 38-29 9-11 1-12 -16-28 -7-20 -2-10 1-20 5-20 9-15 13-15zM164 2999l43-6 70-2 160 8 260 5 220-5 130-7 70-1 50 3 29 5 20 10 4 10 -4 10 -8 10 -28 20 -23 13 -70 29 -80 24 -90 19 -80 11 -100 7 -90 1 -110-6 -90-12 -90-19 -80-23 -50-20 -29-14 -33-20 -13-10 -8-10 -4-10 4-10zM116 3319l51-4 80-1 320 6 140 1 440-7 90 4 20 4 17 7 -1 10 -15 10 -31 13 -70 20 -100 21 -80 12 -100 10 -120 6 -100 2 -80-3 -120-7 -90-10 -120-21 -93-23 -29-10 -23-10 -15-10 -1-10z"/><path fill="#f7ff08" d="M450 389l17-6 10-1 20 1 20 6 15 10 15 16 8 14 6 20 0 30 116 5 122-5 0-30 6-20 12-20 10-9 20-13 20-5 20 0 20 6 19 11 11 11 12 19 6 20 0 20 -2 10 -6 18 -13 22 -4 10 2 10 8 10 38 30 21 20 10 20 8 20 -5 20 -5 10 -7 10 -44 40 -9 16 -3 14 3 10 10 16 39 34 9 10 6 10 4 20 0 30 -4 20 -11 20 -28 30 -7 10 -3 10 -1 10 2 10 6 10 36 40 5 10 5 20 2 40 -3 20 -12 20 -24 30 -5 10 -2 10 5 20 32 50 7 20 3 40 -1 40 -7 20 -36 50 -5 20 1 10 7 20 32 50 7 20 2 20 1 60 -3 20 -4 10 -15 20 -39 40 -11 20 -2 10 3 20 9 16 14 14 35 30 15 20 5 20 2 50 -5 20 -7 10 -11 10 -48 34 -16 16 -6 10 -5 20 1 10 4 10 12 14 20 16 51 30 12 10 8 10 6 20 3 40 -2 10 -7 10 -12 10 -56 30 -27 20 -8 10 -5 10 -1 10 1 10 4 10 17 20 16 12 65 38 13 10 8 10 5 10 5 30 -1 10 -5 10 -9 10 -16 10 -55 27 -22 13 -12 10 -8 10 -5 10 -2 10 1 10 4 10 8 10 11 10 35 18 63 22 20 10 9 10 4 10 -1 10 -5 30 -6 10 -15 10 -22 10 -68 20 -25 10 -18 10 -13 10 -8 10 -23 40 -9 10 -13 6 -18 4 -92 8 -95 2 -95-6 -36-4 -24-5 -7-5 -9-10 -24-42 -20-18 -18-10 -25-10 -68-20 -22-10 -15-10 -6-10 -3-10 -3-30 4-10 9-10 20-10 67-23 30-17 12-10 8-10 4-10 1-10 -2-10 -5-10 -8-10 -12-10 -18-11 -59-29 -16-10 -10-10 -4-10 -1-10 5-30 5-10 8-10 13-10 59-34 22-16 17-20 4-10 1-10 -1-10 -5-10 -8-10 -10-9 -20-13 -53-28 -12-10 -7-10 -2-20 3-30 6-20 8-10 12-10 65-40 10-10 8-10 4-10 1-10 -3-15 -8-15 -21-20 -44-30 -10-10 -7-10 -5-20 2-50 5-20 15-20 35-30 18-20 5-10 3-10 0-10 -6-20 -7-10 -39-40 -15-20 -4-10 -3-20 1-60 2-20 7-20 32-50 7-20 1-10 -5-20 -36-50 -7-20 0-60 5-30 10-20 26-40 5-20 -2-10 -5-10 -24-30 -12-20 -3-20 2-40 5-20 5-10 36-40 6-10 2-10 -1-10 -3-10 -8-11 -27-29 -11-20 -4-20 0-30 4-20 6-10 9-10 35-30 9-10 5-10 3-10 -1-10 -4-10 -7-10 -44-40 -8-10 -4-10 -5-20 8-20 10-20 21-20 38-30 8-10 2-10 -3-9 -13-21 -7-20 -2-10 0-20 6-20 6-11 17-19zM234 3009l33-4 50-2 360 6 380-5 50 3 30 5 20 7 6 10 -3 10 -9 10 -13 10 -37 20 -64 24 -70 20 -70 14 -80 11 -80 5 -90 1 -110-7 -80-11 -70-15 -80-23 -40-16 -28-13 -30-20 -9-10 -3-10 6-10zM324 3329l723 0 50 3 40 4 14 3 10 10 -13 10 -25 10 -35 10 -61 13 -60 10 -80 9 -60 5 -150 5 -150-5 -60-6 -80-9 -60-10 -55-12 -35-10 -25-10 -13-10 10-10 18-4 40-4z"/><path fill="#fff700" d="M456 389l21-5 20 1 20 7 20 15 10 12 9 20 3 20 -1 20 119 5 125-5 -1-20 3-20 9-20 14-16 20-13 20-5 20 0 20 5 15 9 15 15 9 15 6 20 1 20 -2 10 -8 20 -12 20 -4 10 3 10 8 10 38 30 20 20 10 20 8 20 -4 20 -5 10 -7 10 -43 40 -7 10 -4 10 -1 10 2 10 12 17 37 33 9 10 5 10 4 20 0 30 -3 20 -11 20 -28 30 -6 10 -4 10 -1 10 3 10 5 10 35 40 6 10 4 20 2 40 -3 20 -11 20 -24 30 -5 10 -2 10 5 20 26 40 10 20 4 30 0 60 -7 20 -35 50 -5 20 0 10 7 20 32 50 7 20 2 20 1 60 -3 20 -4 10 -15 20 -39 40 -8 14 -4 16 2 20 12 19 45 41 14 20 5 20 2 50 -4 20 -7 10 -11 10 -44 32 -18 18 -6 10 -5 20 1 10 4 10 14 17 20 15 46 28 12 10 7 10 6 20 2 40 -2 10 -6 10 -12 10 -54 30 -26 20 -8 10 -5 10 -1 10 1 10 4 10 7 10 10 10 19 14 58 36 12 10 8 10 4 10 5 30 -1 10 -4 10 -9 10 -14 10 -59 30 -16 10 -12 10 -8 10 -4 10 -2 10 1 10 4 10 7 10 12 10 28 16 62 24 19 10 9 10 3 10 0 10 -5 30 -7 10 -13 10 -21 10 -66 20 -23 10 -18 10 -20 20 -21 40 -9 9 -10 4 -37 7 -93 5 -90 0 -97-5 -43-8 -13-12 -21-40 -9-10 -12-10 -17-10 -24-10 -65-20 -21-10 -13-10 -7-10 -2-10 -3-30 3-10 9-10 19-10 56-21 30-16 15-13 8-10 4-10 1-10 -2-10 -4-10 -8-10 -12-10 -22-13 -53-27 -14-10 -9-10 -4-10 -1-10 5-30 4-10 8-10 12-10 52-32 25-18 17-20 4-10 1-10 -2-10 -4-10 -8-10 -11-10 -69-40 -12-10 -6-10 -2-20 2-30 6-20 7-10 12-10 50-31 20-16 10-13 4-10 1-10 -5-20 -6-10 -21-20 -41-30 -11-10 -7-10 -4-20 2-50 5-20 14-20 34-30 15-16 8-14 2-10 0-10 -2-10 -10-20 -39-40 -15-20 -4-10 -3-20 1-60 2-20 7-20 32-50 7-20 0-10 -5-20 -35-50 -7-20 0-60 4-30 10-20 26-40 5-20 -2-10 -5-10 -24-30 -11-20 -3-20 2-40 4-20 6-10 35-40 5-10 3-10 -1-10 -4-10 -9-13 -25-27 -11-20 -3-20 0-30 4-20 5-10 50-47 8-13 2-10 -1-10 -4-10 -7-10 -43-40 -7-10 -5-10 -4-20 8-20 10-20 20-20 38-30 8-10 2-10 -3-10 -12-20 -8-20 -2-20 1-10 6-20 13-20 11-10zM279 3019l38-4 60-2 300 2 330-2 50 3 30 4 24 9 6 10 -5 10 -10 10 -36 20 -51 20 -68 19 -80 15 -70 9 -70 4 -80 0 -80-4 -80-10 -80-16 -70-20 -40-16 -23-11 -16-10 -10-10 -5-10 6-10zM432 3339l375-1 150 2 50 2 40 5 11 2 10 10 -17 10 -33 10 -48 10 -53 8 -110 10 -130 4 -130-4 -110-11 -47-7 -48-10 -33-10 -17-10 10-10 15-3 50-5z"/><path fill="#ffe700" d="M464 389l23-3 20 4 17 9 12 10 11 15 6 15 3 20 0 20 121 6 127-6 0-20 3-20 9-20 11-13 20-13 20-6 20 0 20 6 20 13 10 12 7 11 6 20 0 20 -2 10 -8 20 -12 20 -3 10 3 10 9 11 36 29 20 20 11 20 7 20 -4 20 -4 10 -17 20 -33 30 -7 10 -4 10 0 10 2 10 13 19 35 31 8 10 6 10 3 20 1 30 -3 20 -12 20 -27 30 -6 10 -4 10 -1 10 3 10 5 10 35 40 5 10 5 20 1 40 -2 20 -11 20 -24 30 -5 10 -2 10 5 20 26 40 9 20 5 30 -1 60 -7 20 -34 50 -5 20 2 17 5 13 31 50 7 20 2 20 0 60 -3 20 -3 10 -15 20 -38 40 -6 10 -6 20 2 20 5 10 17 20 33 30 14 20 5 20 2 50 -5 20 -6 10 -10 10 -42 30 -20 20 -9 19 -1 11 1 10 4 10 7 10 9 9 61 41 11 10 7 10 5 20 2 40 -2 10 -6 10 -11 10 -52 30 -25 19 -10 16 -3 15 1 10 3 10 17 20 22 17 52 33 11 10 7 10 4 10 4 30 0 10 -4 10 -8 10 -14 10 -52 27 -20 13 -11 10 -8 10 -4 10 -2 10 1 10 4 10 7 10 13 11 20 13 63 26 17 10 9 10 3 10 -1 10 -5 30 -6 10 -12 10 -20 10 -63 20 -23 10 -16 10 -19 20 -22 40 -5 6 -10 5 -80 9 -100 1 -100-2 -80-9 -9-10 -21-40 -20-20 -16-10 -23-10 -63-20 -20-10 -12-10 -6-10 -3-10 -3-30 3-10 9-10 17-10 57-23 28-17 11-10 7-10 4-10 1-10 -2-10 -4-10 -8-10 -11-10 -16-10 -56-30 -14-10 -8-10 -4-10 0-10 4-30 4-10 7-10 11-10 56-36 18-14 17-20 3-10 2-10 -2-10 -4-10 -14-16 -20-15 -51-29 -11-10 -6-10 -3-20 4-40 4-10 7-10 11-10 45-28 20-16 12-16 4-10 1-10 -4-20 -6-10 -17-17 -45-33 -10-10 -6-10 -5-20 2-50 5-20 14-20 33-30 12-13 10-17 2-20 -2-11 -10-19 -38-40 -15-20 -3-10 -3-20 0-60 2-20 7-20 31-50 7-20 0-10 -5-20 -34-50 -7-20 -1-60 5-30 10-20 25-40 5-20 -2-10 -5-10 -24-30 -11-20 -2-20 1-40 5-20 5-10 35-40 5-10 3-10 -1-10 -4-10 -11-16 -22-24 -12-20 -3-20 1-30 3-20 6-10 8-10 39-35 9-15 2-10 -1-11 -3-9 -7-10 -33-30 -17-20 -4-10 -4-20 7-20 11-20 20-20 37-30 8-10 3-10 -3-10 -12-20 -8-20 -2-10 0-20 6-20 11-16 20-17zM310 3029l47-6 70-3 530 1 50 2 43 6 22 10 3 10 -7 10 -14 10 -27 14 -44 16 -66 17 -60 11 -70 9 -70 4 -70 0 -80-5 -70-9 -60-11 -60-16 -53-20 -18-10 -14-10 -7-10 3-10zM464 3349l163-3 210 1 80 3 60 9 0 10 -29 10 -54 10 -96 10 -91 4 -100-2 -90-6 -51-6 -49-9 -34-11 0-10 34-6z"/><path fill="#ffd700" d="M484 389l13 1 20 8 15 11 9 10 6 10 6 20 0 30 124 6 130-6 -1-20 3-20 8-17 10-13 20-14 20-5 20 0 20 6 20 13 8 10 6 10 7 20 0 10 -2 20 -8 20 -13 20 -2 10 3 10 11 13 34 27 19 20 11 20 7 20 -3 20 -5 10 -16 20 -32 30 -7 10 -4 10 -1 10 3 10 13 20 34 30 8 10 5 10 4 20 0 30 -3 20 -11 20 -26 29 -7 11 -4 10 0 10 2 10 6 10 34 40 5 10 4 20 2 40 -3 20 -11 20 -23 30 -5 10 -2 10 5 20 25 40 10 20 4 30 -1 60 -6 20 -34 50 -6 20 1 10 7 20 30 50 7 20 2 20 0 60 -3 20 -4 10 -14 20 -37 40 -7 10 -6 20 3 20 6 12 15 18 33 30 13 20 5 20 1 50 -4 20 -6 10 -10 10 -40 30 -20 20 -7 13 -3 17 1 10 3 10 9 12 20 18 46 30 11 10 7 10 4 20 2 40 -2 10 -6 10 -11 10 -51 31 -20 16 -11 13 -4 10 -1 10 1 10 4 10 16 20 15 13 56 37 10 10 6 10 4 10 4 20 0 20 -3 10 -8 10 -13 10 -56 31 -20 15 -12 14 -6 20 1 10 4 10 7 10 11 10 25 16 54 24 16 10 8 10 4 10 -1 10 -5 30 -6 10 -11 10 -19 10 -61 20 -29 14 -19 16 -8 10 -23 42 -10 6 -14 2 -76 5 -130 1 -90-3 -50-7 -6-6 -21-40 -19-20 -15-10 -22-10 -61-20 -19-10 -11-10 -6-10 -3-10 -3-30 4-10 8-10 16-10 58-26 20-13 12-11 7-10 4-10 1-10 -4-15 -10-15 -25-20 -55-30 -13-10 -8-10 -3-10 0-20 4-20 4-10 6-10 24-20 36-23 22-17 15-20 4-10 1-10 -2-12 -11-18 -19-17 -55-33 -11-10 -6-10 -2-10 2-40 4-20 7-10 11-10 40-26 20-16 14-18 4-10 1-10 -4-20 -6-10 -19-20 -41-30 -10-10 -6-10 -4-20 1-50 5-20 13-20 42-40 12-20 3-20 -5-17 -8-13 -37-40 -14-20 -4-10 -3-20 0-60 2-20 7-20 30-50 7-20 1-10 -6-20 -34-50 -6-20 -1-60 4-30 10-20 25-40 5-20 -2-10 -5-10 -23-30 -11-20 -3-20 2-40 4-20 5-10 34-40 6-10 2-10 0-10 -4-10 -6-10 -27-30 -11-20 -3-20 0-30 4-20 5-10 8-10 37-34 10-16 3-10 -3-15 -9-15 -32-30 -16-20 -5-10 -3-20 7-20 11-20 19-20 37-30 8-10 3-10 -2-10 -18-30 -5-20 0-20 7-20 15-20 13-10 20-8zM402 3029l155-3 370 2 40 2 40 5 17 4 14 10 -3 10 -11 10 -17 10 -54 20 -46 12 -60 11 -70 8 -60 4 -70 0 -50-3 -60-6 -90-16 -40-10 -30-10 -24-10 -17-10 -11-10 -2-10 13-10 31-6zM516 3359l121-4 140 1 67 3 23 4 21 6 -22 10 -69 10 -60 4 -60 1 -114-5 -69-10 -22-10z"/><path fill="#ffc700" d="M452 399l15-6 20-2 20 5 20 11 11 12 10 20 4 20 -2 20 127 6 100-3 33-3 -2-20 4-20 10-20 9-10 16-11 20-6 20 0 20 6 16 11 9 10 6 10 7 20 0 20 -2 10 -6 16 -15 24 -1 10 3 10 8 10 36 30 19 20 11 20 8 20 -4 20 -4 10 -16 20 -32 30 -7 10 -3 10 -1 10 2 10 6 11 10 12 30 27 9 10 5 10 3 20 1 30 -3 20 -11 20 -24 27 -9 13 -3 10 -1 10 2 10 6 10 34 40 5 10 4 20 1 40 -3 20 -10 20 -23 30 -5 10 -1 10 4 20 25 40 9 20 4 30 0 60 -7 20 -34 50 -5 20 1 10 6 20 30 50 7 20 2 20 0 60 -3 20 -4 10 -14 20 -37 40 -10 20 -2 10 3 20 8 16 12 14 32 30 13 20 5 20 1 50 -4 20 -6 10 -10 10 -43 33 -15 17 -6 10 -4 20 4 20 11 15 20 17 41 28 11 10 6 10 4 20 2 40 -2 10 -6 10 -10 10 -49 30 -23 20 -7 10 -4 10 -1 10 4 20 14 19 20 16 37 25 22 20 10 20 3 20 0 20 -3 10 -7 10 -12 10 -50 28 -20 15 -14 17 -4 10 -2 10 1 10 4 10 6 10 11 10 18 13 56 27 15 10 8 10 3 10 -1 10 -4 30 -6 10 -11 10 -18 10 -59 20 -20 10 -13 8 -13 12 -7 10 -20 37 -10 7 -60 4 -140 2 -100-2 -60-5 -24-43 -18-20 -15-10 -20-10 -59-20 -18-10 -11-10 -6-10 -2-10 -3-30 3-10 8-10 15-10 50-24 24-16 11-10 6-10 4-10 1-10 -6-20 -7-10 -10-10 -23-16 -44-24 -12-10 -7-10 -3-10 -1-10 4-30 10-20 22-20 41-28 15-12 15-20 4-20 -1-10 -4-10 -7-10 -10-10 -62-40 -10-10 -6-10 -2-20 3-40 3-10 6-10 11-10 56-40 9-10 7-10 3-10 1-10 -1-11 -9-19 -19-20 -39-30 -10-10 -6-10 -4-20 1-50 5-20 13-20 32-30 16-20 4-10 3-20 -6-20 -6-10 -37-40 -14-20 -4-10 -3-20 0-60 2-20 7-20 30-50 6-20 1-10 -5-20 -34-50 -7-20 0-60 4-30 9-20 25-40 5-20 -2-10 -5-10 -23-30 -10-20 -3-20 1-40 4-20 5-10 34-40 6-10 2-10 -1-10 -3-10 -7-10 -26-30 -11-20 -3-20 1-30 3-20 5-10 9-10 34-32 12-18 2-10 -1-10 -4-10 -6-10 -32-30 -16-20 -4-10 -4-20 8-20 11-20 19-20 35-29 9-11 3-10 -1-10 -13-20 -8-20 -2-10 0-20 7-20 6-10 9-10zM396 3039l61-5 80-2 220-1 120 2 50 2 40 5 30 9 5 10 -7 10 -16 10 -24 10 -31 10 -47 11 -60 10 -50 5 -60 3 -60 0 -70-4 -60-8 -60-12 -52-15 -24-10 -16-10 -7-10 5-10zM650 3369l60 0 6 10 -72 0z"/><path fill="#ffb700" d="M457 399l20-5 20 1 20 8 10 7 10 12 9 17 3 20 -2 20 30 3 100 3 100-3 36-3 -2-20 3-20 11-20 10-10 12-8 20-7 20 0 20 7 12 8 10 10 8 13 6 17 0 20 -2 10 -4 11 -17 29 -2 10 4 10 8 10 36 30 19 20 10 20 8 20 -3 20 -5 10 -16 20 -30 30 -7 10 -4 10 -1 10 3 10 7 13 46 47 5 10 4 20 0 30 -3 20 -10 20 -22 25 -11 15 -3 10 -1 10 3 10 5 10 33 40 5 10 4 20 1 40 -2 20 -11 20 -23 30 -4 10 -1 10 4 20 24 40 10 20 4 30 -1 60 -7 20 -33 50 -5 20 1 10 6 20 29 50 6 20 2 20 0 60 -3 20 -3 10 -14 20 -36 40 -9 18 -3 12 3 20 10 19 40 41 13 20 4 20 2 50 -5 20 -6 10 -9 10 -39 31 -18 19 -5 10 -4 20 4 20 13 18 20 16 37 26 10 10 6 10 4 20 1 40 -2 10 -5 10 -11 10 -50 33 -19 17 -7 10 -3 10 -2 10 1 10 4 10 14 20 22 18 32 22 21 20 9 20 3 20 0 20 -3 10 -6 10 -13 10 -53 32 -20 18 -10 17 -3 13 1 10 4 10 7 10 10 10 21 15 49 25 14 10 7 10 3 10 -1 10 -4 30 -6 10 -10 10 -17 10 -55 19 -30 17 -16 14 -7 10 -17 32 -10 7 -60 3 -170 1 -80-1 -50-3 -21-39 -17-20 -14-10 -18-9 -58-21 -18-10 -10-10 -6-10 -2-10 -3-30 3-10 7-10 14-10 53-27 17-13 10-10 7-10 4-10 1-10 -6-20 -7-10 -10-10 -16-12 -47-28 -13-10 -6-10 -3-20 3-30 9-20 21-20 36-25 20-18 12-17 5-20 -5-20 -12-15 -20-17 -44-28 -11-10 -5-10 -2-20 2-40 3-10 6-10 10-10 43-30 18-17 9-13 4-20 -3-17 -6-13 -14-16 -43-34 -9-10 -6-10 -5-20 2-50 4-20 13-20 31-30 13-17 6-13 3-20 -6-20 -6-10 -36-40 -14-20 -3-10 -3-20 0-60 2-20 6-20 29-50 6-20 1-10 -5-20 -33-50 -7-20 -1-60 4-30 10-20 24-40 4-20 -1-10 -4-10 -23-30 -11-20 -2-20 1-40 4-20 5-10 33-40 5-10 3-10 -1-10 -3-10 -7-10 -26-30 -10-20 -3-20 0-30 4-20 5-10 8-10 32-30 10-13 6-17 -1-10 -4-10 -7-10 -30-30 -16-20 -5-10 -3-20 8-20 10-20 19-20 33-27 11-13 3-10 -1-10 -17-30 -4-10 -2-10 0-20 7-20 7-10 10-10zM493 3039l184-3 190 3 50 4 30 5 10 4 11 7 -3 10 -15 10 -23 10 -50 14 -50 9 -50 7 -50 3 -50 1 -50-1 -50-4 -50-6 -50-10 -44-13 -23-10 -15-10 -3-10 15-9 10-3 30-4z"/><path fill="#ffa700" d="M464 399l13-3 20 2 20 8 10 8 10 12 6 13 4 20 -2 20 32 3 100 3 100-3 38-3 -2-20 4-20 10-19 10-10 10-6 20-7 20 0 20 7 10 6 10 10 10 17 3 12 1 20 -3 10 -3 10 -18 30 -1 10 4 10 8 10 35 30 19 20 11 20 7 20 -3 20 -4 10 -16 20 -30 30 -6 10 -4 10 -1 10 2 10 9 15 36 35 8 10 5 10 3 20 0 30 -2 20 -11 20 -25 30 -6 10 -4 10 -1 10 3 10 5 10 33 40 5 10 4 20 1 40 -3 20 -10 20 -23 30 -4 10 -1 10 4 20 24 40 9 20 4 30 -1 60 -6 20 -33 50 -5 20 1 12 6 18 28 50 6 20 2 20 0 60 -3 20 -4 10 -13 20 -36 40 -6 12 -5 18 2 20 11 20 39 40 12 20 4 20 1 50 -4 20 -6 10 -9 10 -37 30 -18 20 -5 10 -4 20 4 20 6 10 19 19 42 31 10 10 5 10 4 20 1 40 -2 10 -5 10 -10 10 -45 30 -20 18 -8 12 -5 20 4 20 15 20 14 13 37 27 20 20 8 20 2 20 1 20 -3 10 -6 10 -12 10 -47 29 -20 17 -10 14 -5 20 1 10 3 10 7 10 9 10 15 11 51 29 14 10 6 10 3 10 0 10 -5 30 -5 10 -10 10 -17 10 -47 17 -30 16 -19 17 -21 37 -10 7 -60 2 -190 1 -70-1 -40-2 -18-34 -17-20 -13-10 -19-10 -54-20 -17-10 -10-10 -5-10 -2-10 -3-30 3-10 7-10 13-10 45-25 21-15 9-10 6-10 4-10 1-10 -5-20 -7-10 -9-10 -20-15 -41-25 -12-10 -6-10 -3-20 3-30 8-20 20-20 31-23 20-17 15-20 4-20 -5-20 -6-10 -18-17 -49-33 -10-10 -5-10 -2-10 2-50 3-10 5-10 10-10 36-26 20-18 11-16 4-20 -4-20 -5-10 -16-18 -39-32 -9-10 -6-10 -4-20 1-50 4-20 12-20 30-30 11-13 9-17 2-20 -2-10 -9-20 -36-40 -13-20 -4-10 -3-20 0-60 2-20 6-20 28-50 6-20 1-10 -5-20 -33-50 -6-20 -1-60 4-30 9-20 24-40 4-20 -1-10 -4-10 -23-30 -10-20 -3-20 1-40 4-20 5-10 33-40 5-10 3-10 -1-10 -4-10 -8-13 -23-27 -11-20 -2-20 0-30 3-20 5-10 8-10 32-30 13-20 2-10 -1-10 -4-10 -6-10 -30-30 -16-20 -4-10 -3-20 7-20 11-20 19-20 35-30 8-10 4-10 -1-10 -18-30 -3-10 -3-10 1-20 7-20 7-10 13-12zM466 3049l61-5 80-2 120 0 100 2 50 3 30 5 23 7 3 10 -12 10 -23 10 -35 10 -46 9 -90 9 -90 0 -80-7 -60-11 -35-10 -23-10 -12-10 3-10z"/><path fill="#ff9700" d="M475 399l12 0 20 4 10 6 12 10 8 12 6 18 1 10 -2 20 35 3 100 4 110-4 31-3 -2-20 3-20 8-15 10-11 10-7 20-7 20 0 20 7 16 13 7 10 5 10 4 20 -3 20 -4 10 -15 25 -2 5 -1 10 4 10 8 10 35 30 18 20 11 20 8 20 -4 20 -3 10 -16 20 -29 30 -9 16 -2 14 2 10 10 17 34 33 8 10 4 10 4 20 0 30 -3 20 -10 20 -25 30 -6 10 -4 10 0 10 2 10 5 10 33 40 4 10 4 20 1 40 -2 20 -11 20 -22 30 -4 10 -1 10 4 20 24 40 9 20 4 30 -2 60 -6 20 -32 50 -5 20 1 10 5 20 28 50 6 20 2 20 -1 60 -2 20 -4 10 -13 20 -35 40 -5 10 -6 20 2 20 5 11 14 19 29 30 12 20 4 20 1 50 -4 20 -6 10 -9 10 -36 30 -17 20 -8 19 -1 11 4 20 14 20 51 40 9 10 5 10 3 10 1 50 -2 10 -5 10 -9 10 -43 30 -21 20 -6 10 -5 20 4 20 11 17 20 19 33 24 18 20 7 20 3 40 -2 10 -6 10 -11 10 -42 26 -20 17 -12 17 -5 20 4 20 6 10 9 10 18 14 45 26 12 10 6 10 3 10 -1 10 -4 30 -5 10 -10 10 -15 10 -41 15 -30 15 -20 18 -9 12 -11 22 -10 7 -270 1 -90-1 -15-29 -16-20 -13-10 -16-9 -55-21 -15-10 -10-10 -5-10 -2-10 -3-30 3-10 6-10 12-10 39-22 24-18 9-10 6-10 3-10 1-10 -5-20 -8-13 -20-18 -46-29 -11-10 -6-10 -2-10 3-40 7-20 18-20 37-28 13-12 14-20 4-20 -5-20 -6-10 -20-20 -44-30 -9-10 -5-10 -2-10 2-50 2-10 5-10 9-10 52-41 13-19 4-20 -4-20 -5-10 -17-20 -36-30 -9-10 -6-10 -4-20 1-50 4-20 12-20 38-40 10-20 2-20 -3-13 -8-17 -35-40 -13-20 -4-10 -2-20 -1-60 2-20 6-20 28-50 5-20 1-10 -5-20 -32-50 -6-20 -2-60 4-30 9-20 24-40 4-20 -1-10 -4-10 -22-30 -11-20 -2-20 1-40 4-20 4-10 33-40 5-10 2-10 0-10 -4-10 -10-15 -21-25 -10-20 -3-20 0-30 4-20 4-10 46-48 6-12 2-10 0-10 -4-10 -7-10 -29-30 -16-20 -3-10 -4-20 8-20 11-20 18-20 35-30 8-10 4-10 -1-10 -17-30 -4-10 -2-10 0-20 5-15 10-15 10-9 10-6zM558 3049l129-2 120 2 40 4 38 6 14 10 -8 10 -23 10 -39 10 -72 10 -80 4 -77-4 -69-10 -39-10 -23-10 -8-10 16-11 40-6z"/><path fill="#ff8700" d="M453 409l14-6 20-2 20 5 10 6 10 9 11 18 4 20 -3 20 38 4 110 3 100-4 34-3 -3-20 1-10 8-20 10-13 10-7 20-7 20 0 10 2 10 5 13 10 8 10 8 20 0 20 -3 10 -21 40 0 10 4 10 11 13 31 27 19 20 10 20 8 20 -3 20 -4 10 -15 20 -29 30 -6 10 -4 10 -1 10 4 13 10 16 31 31 8 10 5 10 3 20 0 30 -2 20 -10 20 -25 30 -6 10 -3 10 -1 10 2 10 5 10 32 40 5 10 4 20 0 40 -2 20 -10 20 -22 30 -4 10 -1 10 4 20 23 40 9 20 4 30 -2 60 -6 20 -31 50 -5 20 0 10 6 20 27 50 6 20 2 20 -1 60 -3 20 -3 10 -14 20 -33 40 -6 10 -5 20 2 20 7 15 11 15 28 30 12 20 4 20 0 50 -3 20 -6 10 -9 10 -37 32 -14 18 -6 12 -3 18 4 20 9 15 20 19 33 26 9 10 5 10 2 10 1 50 -1 10 -5 10 -9 10 -45 33 -17 17 -6 10 -4 20 4 20 13 20 48 40 17 20 6 20 3 40 -2 10 -6 10 -10 10 -46 31 -19 19 -6 10 -5 20 5 20 5 10 9 10 21 16 38 24 11 10 6 10 3 10 -1 10 -4 30 -5 10 -9 10 -15 10 -44 17 -24 13 -16 14 -10 14 -10 19 -10 7 -360 0 -19-34 -11-12 -28-18 -50-20 -15-10 -9-10 -7-20 -3-30 3-10 6-10 11-10 42-26 17-14 14-20 4-20 -4-20 -15-20 -16-14 -40-26 -10-10 -6-10 -2-20 3-30 6-20 17-20 32-25 20-20 9-15 4-20 -4-20 -9-14 -20-18 -39-28 -9-10 -5-10 -2-20 2-40 2-10 5-10 9-10 49-40 13-20 4-20 -4-20 -5-10 -16-20 -35-30 -9-10 -6-10 -3-20 0-50 4-20 12-20 36-40 10-20 2-20 -5-19 -6-11 -33-40 -14-20 -3-10 -3-20 -1-60 2-20 6-20 27-50 5-17 1-13 -5-20 -31-50 -6-20 -2-60 4-30 9-20 23-40 4-20 -1-10 -4-10 -22-30 -10-20 -2-20 0-40 4-20 5-10 32-40 5-10 2-10 -1-10 -3-10 -6-10 -25-30 -10-20 -2-20 0-30 3-20 5-10 43-46 8-14 2-10 -1-10 -4-10 -6-10 -29-30 -15-20 -4-10 -3-20 8-20 10-20 19-20 34-30 7-10 5-10 -1-12 -16-28 -4-10 -4-20 4-19 5-11 8-10zM533 3059l94-6 120 1 81 5 32 10 -4 10 -23 10 -45 10 -71 7 -60 0 -85-7 -45-10 -23-10 -4-10z"/><path fill="#ff7800" d="M458 409l9-4 20-2 20 5 15 11 8 10 9 20 1 10 -3 20 40 4 100 3 110-3 36-4 -3-20 1-10 6-15 11-15 14-10 15-5 20 0 10 3 20 12 10 14 6 16 1 20 -3 10 -4 10 -13 20 -4 10 0 10 5 10 7 10 34 30 18 20 18 40 -3 20 -3 10 -15 20 -29 30 -6 10 -3 10 -1 10 5 17 9 13 30 30 8 10 4 10 3 20 1 30 -3 20 -10 20 -22 28 -8 12 -3 10 -1 10 3 10 5 10 31 40 4 10 4 20 1 40 -3 20 -9 20 -22 30 -4 10 -1 10 4 20 23 40 9 20 3 30 -1 60 -7 20 -31 50 -4 20 0 10 6 20 26 50 6 20 2 20 -1 60 -3 20 -4 10 -13 20 -32 40 -9 20 -2 10 2 20 9 19 36 41 11 20 4 20 0 50 -4 20 -5 10 -9 10 -33 30 -16 20 -5 10 -4 20 4 20 11 18 10 10 38 32 9 10 5 10 2 10 1 50 -2 10 -5 10 -8 10 -40 30 -19 20 -6 10 -4 20 3 20 13 20 13 13 33 27 16 20 6 20 2 40 -2 10 -5 10 -10 10 -40 28 -20 20 -7 12 -5 20 4 20 14 20 14 12 41 28 11 10 6 10 2 10 0 10 -5 30 -5 10 -8 10 -14 10 -38 15 -27 15 -13 11 -10 13 -10 18 -10 8 -360 0 -16-30 -14-15 -20-13 -52-22 -14-10 -8-10 -7-20 -3-30 2-10 6-10 11-10 35-23 20-17 14-20 4-20 -5-20 -5-10 -18-19 -44-31 -10-10 -5-10 -2-10 2-40 6-20 16-20 36-30 11-11 12-19 3-20 -4-20 -6-10 -15-17 -44-33 -8-10 -5-10 -2-10 1-50 2-10 5-10 9-10 42-35 10-12 7-13 4-20 -4-20 -7-14 -14-16 -33-30 -9-10 -5-10 -3-10 -1-60 4-20 11-20 30-33 10-15 5-12 2-20 -5-20 -6-10 -40-50 -5-10 -6-20 -2-60 2-30 6-20 26-50 6-20 0-10 -4-20 -26-40 -9-20 -4-20 0-40 0-20 3-20 9-20 23-40 4-20 -1-10 -4-10 -22-30 -9-20 -3-20 2-50 7-20 31-40 5-10 3-10 -1-10 -3-10 -6-10 -24-30 -10-20 -3-20 1-40 7-20 8-10 33-34 9-16 2-10 -1-11 -10-19 -28-30 -15-20 -3-10 -3-20 18-40 18-20 34-30 7-10 5-10 0-10 -4-10 -13-20 -4-10 -3-20 4-20 5-10 12-13zM656 3059l61 0 60 5 33 5 6 10 -24 10 -35 6 -35 4 -45 1 -39-1 -41-5 -29-5 -24-10 6-10 7-1 40-6z"/><path fill="#ff6800" d="M464 409l13-3 20 1 10 4 12 8 9 10 8 20 1 10 -3 20 33 4 110 3 110-3 39-4 -3-20 1-10 8-20 9-10 16-10 10-3 20 0 10 3 16 10 9 10 6 10 4 20 -1 10 -4 14 -16 26 -3 10 1 10 4 10 7 10 33 30 18 20 19 40 -3 20 -4 10 -14 20 -28 30 -10 20 0 10 2 10 11 20 30 30 7 10 5 10 3 20 0 30 -2 20 -10 20 -20 25 -9 15 -4 10 0 10 2 10 5 10 30 40 5 10 3 20 1 40 -2 20 -10 20 -21 30 -4 10 -1 10 4 20 22 40 9 20 3 30 -1 60 -6 20 -31 50 -4 20 0 10 5 20 26 50 6 20 1 20 -1 60 -3 20 -3 10 -13 20 -32 40 -7 16 -3 14 2 20 9 20 34 40 11 20 3 20 1 50 -4 20 -5 10 -9 10 -32 30 -16 20 -4 10 -4 20 4 20 12 20 45 40 8 10 4 10 2 10 1 50 -2 10 -4 10 -8 10 -35 27 -20 20 -7 13 -4 20 3 20 8 15 14 15 34 30 15 20 6 20 2 40 -2 10 -5 10 -10 10 -34 25 -20 19 -10 16 -4 20 4 20 10 17 20 18 35 25 10 10 5 10 3 10 -6 40 -4 10 -8 10 -13 10 -42 17 -20 12 -20 21 -10 17 -10 8 -360 0 -14-25 -19-20 -27-16 -36-14 -13-10 -8-10 -6-20 -4-30 3-10 5-10 10-10 39-28 13-12 13-20 4-20 -4-20 -6-11 -20-21 -38-28 -10-10 -5-10 -2-10 2-40 6-20 15-20 44-40 12-20 3-20 -4-20 -5-10 -18-20 -39-30 -8-10 -4-10 -2-10 1-50 2-10 4-10 8-10 38-33 10-11 9-16 4-20 -3-18 -5-12 -15-19 -33-31 -9-10 -5-10 -4-20 1-50 3-20 11-20 26-29 10-14 7-17 2-20 -5-20 -5-10 -32-40 -13-20 -4-10 -2-20 -1-60 1-20 6-20 26-50 5-20 0-10 -4-20 -31-50 -6-20 -1-60 3-30 9-20 22-40 4-20 -1-10 -4-10 -21-30 -10-20 -2-20 1-40 3-20 5-10 30-40 5-10 2-10 0-10 -4-10 -5-10 -24-30 -10-20 -2-20 0-30 3-20 5-10 7-10 31-32 10-18 2-10 -2-15 -8-15 -28-30 -14-20 -4-10 -3-20 19-40 18-20 33-30 7-10 4-10 1-10 -3-10 -13-20 -4-10 -4-20 4-20 6-10 9-10zM639 3069l82 0 16 3 22 7 -35 10 -47 2 -41-2 -35-10 16-6z"/><path fill="#ff5800" d="M472 409l15-1 10 2 18 9 10 10 9 20 1 10 -4 20 36 4 110 4 110-4 42-4 -4-20 1-10 9-20 10-10 12-7 10-3 20 0 10 3 13 7 9 10 6 10 5 20 -4 20 -18 30 -2 10 1 10 11 20 33 30 17 20 19 40 -3 20 -3 10 -14 20 -28 30 -9 20 -1 10 2 10 6 12 42 48 4 10 3 20 1 30 -3 20 -9 20 -24 30 -5 10 -3 10 -1 10 2 10 5 10 30 40 4 10 4 20 1 40 -3 20 -9 20 -21 30 -4 10 -1 10 4 20 22 40 8 20 4 30 -2 60 -6 20 -30 50 -4 20 0 10 5 20 25 50 6 20 1 20 -1 60 -3 20 -3 10 -13 20 -31 40 -5 10 -5 20 2 20 9 20 32 40 11 20 3 20 0 50 -3 20 -5 10 -8 10 -32 30 -14 19 -5 11 -4 20 3 20 12 20 43 40 8 10 4 10 2 10 1 50 -2 10 -4 10 -8 10 -40 33 -14 17 -6 11 -4 19 4 20 10 18 10 12 33 30 14 20 5 20 2 40 -2 10 -4 10 -9 10 -39 30 -17 20 -5 10 -4 20 3 20 5 10 18 20 39 30 9 10 5 10 2 10 -5 40 -4 10 -8 10 -13 10 -35 15 -20 12 -15 13 -15 22 -10 8 -360 0 -11-20 -19-20 -20-13 -39-17 -13-10 -8-10 -6-20 -3-30 2-10 5-10 9-10 33-25 16-15 13-20 3-20 -4-20 -8-14 -20-21 -33-25 -9-10 -4-10 -2-10 2-40 5-20 14-20 42-40 11-20 4-20 -4-20 -6-11 -20-22 -34-27 -8-10 -4-10 -2-10 1-50 2-10 4-10 8-10 43-41 12-19 3-20 -4-20 -4-10 -15-20 -32-30 -8-10 -5-10 -3-20 0-50 3-20 11-20 32-40 9-20 2-20 -2-10 -8-20 -31-40 -13-20 -3-10 -3-20 -1-60 1-20 6-20 25-50 5-20 0-10 -4-20 -30-50 -6-20 -2-60 4-30 8-20 22-40 4-20 -1-10 -4-10 -21-30 -9-20 -3-20 1-40 4-20 4-10 30-40 5-10 2-10 -1-10 -3-10 -7-12 -22-28 -9-20 -3-20 1-30 3-20 4-10 43-50 5-10 2-10 -1-10 -9-20 -28-30 -14-20 -3-10 -3-20 19-40 17-20 33-30 7-10 4-10 1-10 -2-10 -13-20 -8-20 1-20 5-14 10-13 10-8z"/><path fill="#ff4800" d="M454 419l13-6 20-3 10 2 14 7 11 10 6 10 3 10 1 10 -3 20 38 4 120 4 110-4 34-4 -3-20 1-10 8-18 10-11 10-6 10-3 20 0 10 3 10 6 10 10 6 9 4 20 -4 20 -17 30 -2 10 1 10 12 20 31 30 18 20 18 40 -2 20 -3 10 -14 20 -27 30 -10 20 0 10 2 10 7 14 40 46 4 10 3 20 0 30 -2 20 -10 20 -22 30 -6 10 -3 10 -1 10 2 10 5 10 30 40 4 10 3 20 1 40 -2 20 -10 20 -20 30 -4 10 -1 10 4 20 22 40 8 20 3 20 -1 60 -3 20 -4 10 -29 50 -5 20 1 10 5 20 24 50 6 20 1 20 -2 60 -2 20 -4 10 -12 20 -30 40 -5 10 -5 20 2 20 5 14 10 16 25 30 10 20 3 20 0 50 -4 20 -5 10 -7 10 -32 32 -13 18 -4 10 -4 20 3 20 8 15 10 12 35 33 7 10 6 20 0 50 -2 10 -4 10 -7 10 -35 30 -17 20 -5 10 -4 20 4 20 10 20 41 40 13 20 4 20 2 40 -2 10 -5 10 -8 10 -33 27 -20 23 -4 10 -4 20 3 20 5 11 20 22 33 27 8 10 5 10 2 10 -5 40 -4 10 -8 10 -12 10 -29 13 -20 11 -18 16 -12 18 -10 7 -360 0 -10-17 -16-18 -24-15 -33-15 -12-10 -8-10 -6-20 -3-30 7-20 8-10 36-30 11-11 11-19 3-20 -4-20 -10-18 -11-12 -36-30 -8-10 -5-10 -2-10 2-40 4-20 13-20 32-30 11-13 8-17 4-20 -4-20 -8-14 -14-16 -35-30 -7-10 -4-10 -2-10 0-50 6-20 7-10 41-40 12-20 3-20 -4-20 -4-10 -14-20 -31-30 -7-10 -5-10 -4-20 0-50 3-20 10-20 32-40 8-20 2-20 -3-14 -7-16 -30-40 -12-20 -4-10 -2-20 -2-60 1-20 6-20 24-50 5-20 1-10 -5-20 -29-50 -4-10 -3-20 -1-60 3-20 8-20 22-40 4-20 -1-10 -4-10 -20-30 -10-20 -2-20 1-40 3-20 4-10 30-40 5-10 2-10 -1-10 -3-10 -9-15 -20-25 -9-20 -2-20 0-30 3-20 4-10 7-10 29-30 8-12 5-18 0-10 -10-20 -27-30 -14-20 -3-10 -2-20 18-40 18-20 31-30 12-20 2-10 -3-10 -17-30 -4-20 4-20 7-10z"/><path fill="#ff3800" d="M458 419l19-6 10-1 20 7 10 8 8 12 4 10 1 10 -4 20 41 5 110 3 120-4 37-4 -4-20 1-10 4-10 6-10 12-10 14-6 20 0 10 4 10 6 10 11 7 15 1 10 -4 20 -18 30 -1 10 1 10 12 20 31 30 17 20 19 40 -3 20 -3 10 -13 20 -27 30 -9 20 -1 10 2 10 9 17 30 33 7 10 4 10 3 20 0 30 -2 20 -9 20 -22 30 -6 10 -3 10 -1 10 3 10 4 10 29 40 4 10 4 20 0 40 -2 20 -9 20 -20 30 -5 20 4 20 21 40 8 20 3 20 -1 60 -3 20 -3 10 -28 47 -6 23 1 10 5 20 23 50 5 20 2 20 -2 60 -3 20 -3 10 -12 20 -29 40 -5 10 -5 20 1 20 8 19 31 41 10 20 3 20 0 50 -4 20 -5 10 -36 40 -14 20 -5 12 -3 18 3 20 10 18 40 42 7 10 6 20 0 50 -6 20 -7 10 -33 30 -16 20 -5 10 -4 20 3 20 11 20 38 40 12 20 4 20 1 40 -1 10 -5 10 -8 10 -34 30 -13 16 -7 14 -3 20 3 20 7 15 13 15 34 30 8 10 5 20 -5 40 -4 10 -7 10 -11 10 -33 15 -20 14 -11 11 -9 13 -10 8 -360 0 -10-17 -13-14 -17-12 -37-18 -11-10 -7-10 -6-20 -4-30 6-20 8-10 31-27 12-13 11-20 3-20 -3-20 -5-10 -18-23 -31-27 -8-10 -5-10 -1-10 1-40 4-20 12-20 38-40 11-20 3-20 -4-20 -5-10 -15-20 -34-30 -7-10 -6-20 0-50 6-20 7-10 34-34 10-14 6-12 3-20 -4-20 -5-12 -10-15 -39-43 -5-10 -4-20 0-50 3-20 10-20 30-40 9-20 1-20 -5-20 -5-10 -29-40 -12-20 -3-10 -3-20 -2-60 3-30 8-20 19-40 5-20 1-10 -5-20 -29-50 -3-10 -3-20 -1-60 3-20 8-20 21-40 4-20 -5-20 -20-30 -9-20 -2-20 0-40 4-20 4-10 29-40 4-10 3-10 -1-10 -3-10 -6-10 -22-30 -9-20 -2-20 0-30 3-20 4-10 41-49 5-11 2-10 -1-10 -9-20 -27-30 -13-20 -3-10 -3-20 19-40 17-20 31-30 12-20 2-10 -2-10 -18-30 -4-20 5-20 7-11z"/><path fill="#ff2800" d="M464 419l13-4 10 0 15 4 14 10 7 10 3 10 2 10 -5 20 44 5 110 3 120-3 40-5 -5-20 2-10 3-10 7-10 13-10 10-3 20 0 10 3 10 7 10 12 4 11 2 10 -5 20 -17 30 -2 10 2 10 12 20 31 30 16 20 19 40 -2 20 -3 10 -13 20 -26 30 -8 16 -2 14 2 11 10 18 28 31 7 10 4 10 2 20 1 30 -2 20 -9 20 -21 28 -7 12 -3 20 2 10 4 10 29 40 4 10 3 20 1 40 -3 20 -9 20 -19 30 -5 20 4 20 21 40 8 20 3 20 -1 60 -4 20 -3 10 -25 43 -6 17 -2 10 1 10 4 20 23 50 5 20 1 20 -1 60 -3 20 -3 10 -12 20 -29 40 -7 20 -2 10 1 20 8 20 30 40 9 20 3 20 -1 50 -3 20 -5 10 -35 40 -13 20 -4 10 -4 20 3 20 11 20 37 40 6 10 5 20 0 50 -5 20 -7 10 -35 33 -10 14 -6 13 -4 20 3 20 7 15 10 14 29 31 11 20 4 20 1 40 -2 10 -4 10 -7 10 -32 30 -10 12 -9 18 -4 20 3 19 4 11 16 21 31 29 7 10 5 20 -5 40 -4 10 -6 10 -10 10 -28 13 -20 13 -10 9 -10 14 -10 7 -360 0 -10-16 -10-11 -20-14 -32-15 -10-10 -6-10 -6-20 -3-30 5-20 7-10 40-40 11-20 3-20 -4-20 -5-12 -14-18 -32-30 -7-10 -4-10 -2-10 1-40 4-20 11-20 36-40 10-20 3-20 -4-20 -4-10 -15-20 -32-30 -7-10 -5-20 0-50 5-20 6-10 30-31 10-13 8-16 3-20 -4-20 -4-10 -13-20 -35-40 -5-10 -3-20 -1-50 3-20 9-20 22-28 10-16 6-16 1-20 -5-20 -4-10 -29-40 -12-20 -3-10 -3-20 -1-60 1-20 5-20 23-50 4-20 1-10 -2-10 -7-20 -24-40 -3-10 -4-20 -1-60 3-20 8-20 21-40 4-20 -5-20 -19-30 -9-20 -3-20 1-40 3-20 4-10 29-40 4-10 2-10 -3-20 -6-10 -22-30 -9-20 -2-20 1-30 2-20 4-10 39-47 6-13 2-10 -1-10 -9-20 -26-30 -13-20 -3-10 -2-20 19-40 16-20 31-30 12-20 1-10 -1-10 -17-30 -5-20 2-10 3-10 8-10z"/><path fill="#ff1800" d="M470 419l17-2 10 2 10 6 10 10 7 14 1 10 -4 20 36 5 120 3 120-3 42-5 -3-10 0-20 4-10 8-10 9-7 10-4 20 0 10 4 10 7 8 10 4 10 1 10 -1 10 -3 10 -18 30 -1 10 3 10 11 20 30 30 17 20 18 40 -2 20 -3 10 -12 20 -26 30 -9 20 0 10 6 20 39 50 4 10 3 20 0 30 -2 20 -9 20 -18 25 -8 15 -4 20 6 20 28 40 4 10 3 20 1 40 -2 20 -9 20 -19 30 -5 20 4 20 20 40 8 20 3 20 -1 60 -3 20 -4 10 -23 40 -8 20 -1 10 1 10 4 20 18 40 7 20 3 30 -2 60 -6 30 -11 20 -28 40 -6 15 -3 15 1 20 8 20 28 40 9 20 2 20 0 50 -3 20 -5 10 -34 40 -13 20 -3 10 -4 20 3 20 10 20 36 40 6 10 4 20 0 50 -6 20 -6 10 -30 30 -14 20 -4 10 -4 20 3 20 9 20 34 40 11 20 3 20 1 30 -2 20 -4 10 -7 10 -30 30 -14 20 -6 20 0 20 4 16 8 14 37 40 6 10 5 20 -5 40 -4 10 -6 10 -9 10 -22 10 -20 13 -10 9 -10 13 -10 7 -360 0 -10-16 -10-10 -20-13 -26-13 -9-10 -6-10 -6-20 -3-30 5-20 6-10 29-30 10-13 8-17 3-20 -4-20 -9-20 -38-40 -7-10 -6-20 2-50 6-20 7-10 28-32 10-15 5-13 3-20 -4-20 -4-11 -10-15 -34-34 -6-10 -6-20 0-50 4-20 6-10 36-40 10-20 3-20 -3-17 -4-13 -13-20 -34-40 -5-10 -3-20 0-50 2-20 9-20 28-40 8-20 1-20 -5-20 -4-10 -28-40 -11-20 -6-30 -2-60 1-20 5-20 22-50 4-20 1-10 -6-24 -26-46 -4-10 -3-20 -1-60 3-20 8-20 20-40 4-20 -5-20 -19-30 -9-20 -2-20 1-40 3-20 4-10 28-40 6-20 -4-20 -5-10 -21-30 -9-20 -2-20 0-30 3-20 4-10 6-10 30-35 8-15 1-10 0-10 -9-20 -26-30 -12-20 -3-10 -2-20 18-40 17-20 30-30 11-20 2-10 0-10 -5-10 -13-20 -3-10 -1-10 1-10 6-13 10-11z"/><path fill="#ff0800" d="M456 429l11-7 10-2 10-1 10 3 10 5 10 12 5 10 1 10 -1 10 -4 10 39 5 130 4 110-4 45-5 -4-10 -1-10 1-10 5-10 8-10 16-8 10-2 10 1 10 4 10 8 5 7 5 10 1 10 -1 10 -4 10 -13 20 -4 10 2 20 11 20 30 30 16 20 19 40 -5 30 -12 20 -26 30 -8 20 -1 10 6 20 39 50 4 10 2 20 0 30 -1 20 -9 20 -21 30 -5 10 -4 20 7 20 27 40 4 10 3 20 0 40 -2 20 -9 20 -18 30 -5 20 4 20 20 40 7 20 3 20 -1 60 -3 20 -4 10 -22 40 -7 18 -2 12 0 10 5 20 21 50 5 20 1 20 -2 60 -6 30 -11 20 -27 40 -5 10 -4 20 1 20 7 20 27 40 9 20 2 20 -1 50 -3 20 -4 10 -33 41 -10 16 -5 13 -3 20 2 20 6 14 10 15 27 31 6 10 4 20 0 40 -2 20 -4 10 -6 10 -36 40 -10 20 -3 20 3 20 8 20 32 40 6 10 6 20 2 40 -2 20 -4 10 -6 10 -31 33 -10 17 -6 20 0 20 5 20 6 10 34 40 6 10 4 20 -5 40 -9 20 -9 10 -36 20 -11 10 -9 11 -10 6 -360 0 -10-14 -10-10 -20-13 -20-10 -15-20 -5-20 -3-30 4-20 6-10 34-40 9-20 3-20 -3-20 -9-20 -11-14 -25-26 -6-10 -5-20 1-50 6-20 6-10 23-27 10-15 7-18 3-20 -3-20 -7-15 -10-14 -29-31 -6-10 -4-10 -2-20 0-40 4-20 6-10 33-40 10-20 2-20 -3-20 -3-10 -12-20 -33-40 -4-10 -3-20 -1-50 2-20 9-20 27-40 7-20 1-20 -4-20 -5-10 -27-40 -11-20 -6-30 -2-60 3-30 6-20 18-40 5-20 0-10 -1-10 -7-18 -23-42 -4-10 -3-20 -1-60 3-20 7-20 20-40 4-20 -5-20 -18-30 -9-20 -2-20 0-40 3-20 4-10 27-40 7-20 -4-20 -6-12 -20-28 -9-20 -2-20 1-30 2-20 4-10 6-10 28-32 9-18 2-10 -1-11 -8-19 -26-30 -12-20 -3-10 -2-20 19-40 16-20 30-30 11-20 2-20 -4-10 -13-20 -4-10 -1-10 1-10 4-9z"/><path fill="#f70000" d="M460 429l17-7 10 0 10 2 10 6 8 9 4 10 2 10 -2 10 -4 10 42 5 130 4 120-4 38-5 -4-10 -2-10 2-10 6-12 10-10 10-4 10-2 10 2 10 4 10 9 7 13 2 10 -1 10 -5 10 -13 20 -3 10 2 20 11 20 38 40 7 10 19 40 -5 30 -12 20 -24 30 -9 20 0 10 1 10 5 11 38 49 3 10 3 20 -2 50 -8 20 -21 30 -5 10 -3 20 6 20 26 40 4 10 3 20 0 40 -2 20 -8 20 -18 30 -5 20 4 20 19 40 8 20 2 20 -1 60 -3 20 -3 10 -23 40 -7 20 -1 10 0 10 5 20 17 40 6 20 2 30 -2 60 -6 30 -10 20 -27 40 -4 10 -4 20 1 20 6 18 27 42 8 20 2 20 -1 50 -3 20 -4 10 -31 40 -12 20 -3 10 -3 20 2 20 8 18 33 42 5 10 4 20 -1 40 -2 20 -3 10 -6 10 -34 40 -9 20 -3 20 3 20 7 20 36 50 5 20 1 40 -1 20 -4 10 -6 10 -25 29 -13 21 -5 20 0 20 5 20 5 10 31 40 6 10 3 20 -5 40 -9 20 -8 10 -30 17 -20 19 -10 7 -360 0 -9-13 -11-10 -34-20 -14-20 -5-20 -3-30 3-20 6-10 31-40 9-20 2-20 -3-20 -8-20 -33-40 -6-10 -5-20 1-50 5-20 6-10 23-30 11-20 4-13 2-17 -3-20 -9-20 -34-40 -6-10 -3-10 -2-20 -1-40 4-20 5-10 32-40 9-20 2-20 -3-20 -3-10 -10-18 -33-42 -4-10 -3-20 -1-50 2-20 8-20 26-40 7-20 1-20 -3-15 -5-15 -27-40 -10-20 -6-30 -2-80 5-20 20-50 5-20 0-10 -1-10 -7-20 -23-40 -3-10 -3-20 -1-60 2-20 8-20 19-40 4-20 -5-20 -18-30 -8-20 -2-20 0-40 3-20 4-10 26-40 6-20 -3-20 -8-15 -18-25 -8-20 -2-20 0-30 3-20 3-10 39-50 5-20 -2-15 -7-15 -24-30 -12-20 -5-30 19-40 7-10 38-40 11-20 3-20 -4-10 -16-26 -3-14 2-10 4-10z"/><path fill="#e70000" d="M464 429l13-5 10 0 10 3 10 7 10 15 1 10 -1 10 -5 10 45 6 130 3 120-4 41-5 -5-10 -1-10 1-10 5-10 9-9 10-5 10-1 10 1 10 5 10 9 5 10 1 10 -1 10 -4 10 -14 20 -2 10 3 20 11 20 37 40 7 10 18 40 -4 30 -12 20 -24 30 -8 20 -1 10 2 10 6 14 35 46 4 10 2 20 -2 50 -8 20 -20 30 -5 10 -3 20 6 20 26 40 4 10 2 20 1 40 -2 20 -8 20 -18 30 -5 20 4 20 19 40 7 20 3 20 -2 60 -6 30 -24 45 -5 15 -1 10 4 30 17 40 6 20 2 30 -2 60 -6 30 -10 20 -26 40 -4 10 -4 20 1 20 6 20 25 40 8 20 2 20 -1 50 -3 20 -4 10 -30 40 -11 20 -4 13 -2 17 2 20 8 20 30 40 5 10 4 20 -1 40 -2 20 -3 10 -6 10 -31 40 -9 20 -3 20 2 20 6 16 35 54 4 20 1 40 -1 20 -4 10 -5 10 -24 30 -11 20 -5 20 -1 20 5 20 5 10 29 40 4 10 3 20 -5 40 -8 20 -7 10 -25 14 -20 18 -10 6 -360 0 -10-12 -10-9 -29-17 -12-20 -5-20 -3-30 3-20 4-10 22-28 10-17 5-15 2-20 -3-20 -7-20 -31-40 -5-10 -5-20 1-50 4-20 6-10 23-32 9-18 3-10 2-20 -3-20 -9-20 -31-40 -6-10 -3-10 -2-20 -1-40 4-20 5-10 22-29 10-16 6-15 2-20 -3-20 -5-14 -10-17 -29-39 -4-10 -3-20 -1-50 2-20 8-20 19-30 8-16 4-14 1-20 -4-20 -4-10 -26-40 -10-20 -6-30 -2-60 2-30 6-20 17-40 4-30 -1-10 -7-20 -22-40 -6-30 -2-60 3-20 7-20 19-40 4-20 -5-20 -18-30 -8-20 -2-20 1-40 2-20 4-10 26-40 6-20 -3-20 -5-10 -20-30 -8-20 -2-50 2-20 4-10 37-50 6-20 -1-10 -8-20 -24-30 -12-20 -4-30 18-40 7-10 37-40 11-20 4-20 -2-8 -15-22 -4-10 -1-10 1-10 5-10z"/><path fill="#d70000" d="M469 429l8-3 10 0 10 3 12 10 5 10 2 10 -2 10 -4 10 17 3 30 3 120 3 130-3 44-6 -5-10 -2-10 2-10 5-10 6-6 10-5 10-2 10 1 10 5 7 7 5 10 2 10 -4 16 -16 24 -2 10 4 20 11 20 36 40 7 10 19 40 -5 30 -11 20 -23 30 -8 20 -1 10 2 10 7 16 33 44 5 20 1 30 -1 20 -4 20 -30 50 -3 20 6 20 26 40 3 10 3 20 0 40 -2 20 -8 20 -17 30 -4 20 3 20 18 40 7 20 3 20 -2 60 -6 30 -21 40 -7 20 -1 10 4 30 16 40 6 20 2 30 -3 60 -5 30 -35 60 -8 30 1 20 6 20 23 40 8 20 1 20 -1 50 -3 20 -4 10 -28 40 -10 20 -6 30 2 20 3 10 9 17 24 33 4 10 3 20 -1 50 -4 20 -6 10 -30 41 -7 19 -3 20 5 30 9 20 21 30 4 10 4 20 1 40 -2 20 -8 20 -28 40 -7 20 -2 20 2 20 2 10 9 18 22 32 4 10 3 20 -6 40 -8 20 -6 10 -19 11 -20 17 -10 6 -360 0 -10-12 -10-8 -23-14 -11-20 -5-20 -4-30 3-20 4-10 26-40 7-20 2-20 -2-20 -7-19 -33-51 -5-20 1-50 4-20 4-10 19-27 10-20 4-13 2-20 -3-20 -8-20 -29-40 -6-10 -4-20 -1-50 3-20 4-10 22-30 11-20 3-10 2-20 -6-30 -10-20 -28-40 -4-10 -3-20 -1-50 1-20 8-20 23-40 6-20 1-20 -8-30 -35-60 -5-30 -3-60 2-30 6-20 16-40 4-30 -1-10 -7-20 -21-40 -6-30 -2-60 2-20 8-20 18-40 3-20 -4-20 -17-30 -8-20 -2-20 0-40 3-20 3-10 26-40 6-20 -1-10 -4-13 -28-47 -4-20 -1-20 1-30 5-20 37-50 5-20 -1-10 -8-20 -23-30 -11-20 -5-30 19-40 7-10 36-40 11-20 4-20 -2-10 -14-20 -5-10 -1-10 2-10 5-10z"/><path fill="#c70000" d="M476 429l11 0 10 3 10 9 5 8 2 10 -2 10 -5 10 40 6 130 4 130-4 30-3 17-3 -6-10 -2-10 2-10 6-10 13-9 10-2 10 2 14 9 6 10 2 10 -2 11 -19 29 -1 10 4 20 11 20 42 50 19 40 -4 30 -11 20 -23 30 -8 20 -1 10 2 10 9 19 24 31 6 10 5 20 1 40 -2 20 -7 20 -17 25 -7 15 -4 20 6 20 20 30 9 20 2 20 0 30 0 20 -5 20 -21 40 -4 20 4 24 21 46 5 30 -1 60 -3 20 -8 20 -20 40 -4 20 4 30 15 40 6 20 2 30 -3 60 -6 30 -33 60 -8 30 1 20 5 20 23 40 6 20 2 20 -1 50 -3 20 -4 10 -26 39 -10 20 -6 31 2 20 3 10 11 21 19 29 4 10 3 20 -1 50 -5 20 -5 10 -27 40 -7 20 -3 20 4 30 8 18 20 32 4 10 3 20 -1 60 -7 20 -26 40 -6 20 -2 20 4 30 9 20 18 30 3 10 3 20 -6 40 -7 20 -6 10 -23 15 -10 9 -10 5 -360 0 -10-11 -27-18 -10-20 -5-20 -4-30 3-20 3-10 23-40 7-20 1-20 -2-20 -6-20 -26-40 -7-20 -1-60 3-20 4-10 19-30 9-20 4-30 -3-20 -5-16 -34-54 -5-20 -1-50 3-20 4-10 23-35 7-15 3-11 2-19 -3-20 -7-20 -32-50 -6-20 -2-60 2-20 6-20 23-40 5-20 1-20 -8-30 -29-50 -4-10 -5-20 -3-60 0-30 4-20 18-50 4-30 -1-10 -5-16 -18-34 -8-20 -3-20 -1-60 5-30 19-40 6-20 0-10 -4-20 -17-30 -7-20 -2-20 1-50 5-20 25-40 6-20 -4-20 -24-40 -7-20 -2-20 1-40 5-20 34-48 5-12 2-10 -1-10 -8-20 -23-30 -11-20 -4-30 19-40 41-49 12-21 4-20 -1-10 -19-30 -2-10 2-10 6-10 8-6z"/><path fill="#b70000" d="M462 439l15-8 10 0 10 4 5 4 7 10 2 10 -2 10 -6 10 4 1 40 5 140 4 130-4 40-6 -6-10 -2-10 2-10 6-10 10-6 10-2 10 1 11 7 6 10 2 10 -1 10 -19 30 -1 10 5 20 10 20 42 50 18 40 -3 30 -11 20 -23 30 -6 15 -2 15 5 20 35 50 5 20 0 40 -1 20 -8 20 -23 40 -3 20 5 20 25 40 5 20 1 50 -2 20 -8 20 -16 30 -4 20 0 10 6 20 18 40 5 30 -1 60 -3 20 -8 20 -20 40 -3 20 3 30 18 50 4 20 0 30 -4 60 -4 20 -4 10 -29 50 -7 30 1 20 4 17 22 43 6 20 2 20 -2 60 -6 20 -32 54 -5 16 -3 20 5 30 9 20 19 30 4 10 2 20 -2 50 -4 20 -30 50 -7 20 -2 20 4 30 8 20 17 30 3 10 4 20 -2 60 -7 20 -23 41 -5 19 -2 20 3 30 8 20 16 30 3 10 2 20 -6 40 -6 20 -5 10 -28 20 -10 5 -360 0 -10-10 -22-15 -9-20 -4-20 -4-30 2-20 3-10 20-40 6-20 1-20 -2-20 -6-20 -22-40 -7-20 -2-60 4-20 3-10 19-34 6-16 4-30 -2-20 -7-20 -30-50 -4-20 -2-50 2-20 4-10 19-30 9-20 5-30 -3-20 -7-20 -30-50 -6-20 -2-60 2-20 6-20 21-40 5-20 1-20 -7-30 -29-50 -4-10 -4-20 -4-60 0-30 4-20 18-50 3-30 -3-20 -20-40 -8-20 -3-20 -1-60 5-30 18-40 6-20 0-10 -4-20 -16-30 -8-20 -2-20 1-50 5-20 25-40 5-20 -3-20 -23-40 -8-20 -1-20 0-40 5-20 32-45 6-15 2-10 -1-10 -7-19 -23-31 -10-20 -4-30 18-40 42-50 10-20 5-20 -1-10 -17-26 -3-14 1-10z"/><path fill="#a70000" d="M466 439l11-6 10 0 12 6 8 10 2 10 -2 10 -7 10 7 2 40 5 130 3 140-4 20-1 23-5 -7-10 -2-10 2-10 8-10 6-4 10-2 10 2 10 7 5 7 2 10 -2 10 -14 20 -4 10 0 10 4 20 10 20 41 50 19 40 -4 30 -10 20 -22 30 -8 20 0 10 5 20 33 50 5 20 1 40 -2 20 -7 20 -23 40 -3 20 5 20 24 40 5 20 1 50 -2 20 -7 20 -16 30 -4 20 0 10 6 20 18 40 5 30 -2 60 -3 20 -8 20 -18 38 -4 22 3 30 17 50 3 20 0 30 -3 60 -9 30 -27 50 -7 30 1 20 5 20 19 40 6 20 2 20 -3 60 -5 20 -29 50 -6 20 -2 20 4 30 5 14 20 36 4 10 2 20 -2 50 -4 20 -27 50 -7 20 -2 20 4 30 7 20 15 30 3 10 3 20 -2 60 -6 20 -20 40 -6 20 -1 20 3 30 6 19 14 31 3 10 1 20 -6 40 -10 30 -22 16 -10 4 -360 0 -10-9 -16-11 -8-20 -4-20 -4-30 1-20 3-10 18-41 4-19 1-20 -1-20 -6-20 -20-40 -6-20 -2-60 3-20 3-10 14-27 8-23 4-30 -2-20 -7-20 -27-50 -4-20 -2-50 2-20 4-10 17-30 8-20 4-30 -2-20 -6-20 -29-50 -5-20 -3-60 2-20 6-20 19-40 5-20 1-20 -7-30 -27-50 -9-30 -3-60 0-30 3-20 17-50 3-30 -3-20 -19-40 -8-20 -3-20 -2-60 5-30 20-46 4-24 -4-20 -16-30 -7-20 -2-20 1-50 5-20 24-40 5-20 -3-20 -23-40 -7-20 -2-20 1-40 5-20 29-42 8-18 1-10 0-10 -8-20 -22-30 -10-20 -4-30 19-40 41-50 10-20 5-20 0-10 -5-10 -14-20 -2-10 2-10z"/><path fill="#970000" d="M470 439l7-3 10 0 10 4 7 9 2 10 -2 10 -8 10 11 3 30 3 100 3 29 1 11 2 40-3 110-3 37-6 -8-10 -2-10 2-10 11-11 10-3 10 2 10 8 5 14 -2 10 -13 16 -6 14 5 30 11 21 39 49 19 40 -3 30 -11 20 -21 30 -7 20 -1 10 5 20 33 50 4 20 1 40 -2 20 -7 20 -22 40 -3 20 5 20 24 40 4 20 1 50 -2 20 -7 20 -15 30 -4 20 3 20 16 40 7 20 2 30 -2 50 -3 20 -7 20 -19 40 -4 20 4 30 16 50 3 20 -4 90 -8 30 -26 50 -7 30 1 20 4 20 18 40 6 20 1 20 -2 60 -5 20 -27 50 -6 20 -2 20 3 30 8 20 16 30 3 10 2 20 -2 50 -4 20 -25 50 -6 20 -2 20 3 30 5 16 15 34 3 10 2 20 -2 60 -6 20 -17 40 -5 20 -1 20 2 30 17 50 3 30 -6 40 -9 30 -16 12 -10 4 -360 0 -20-16 -7-20 -4-20 -4-30 1-20 2-10 15-40 4-20 0-20 -1-20 -5-20 -17-40 -6-20 -2-60 2-20 3-10 19-47 4-33 -2-20 -6-20 -25-50 -4-20 -2-50 2-20 3-10 16-30 8-20 3-30 -2-20 -5-18 -23-42 -8-20 -3-20 -1-50 3-30 18-40 7-20 2-30 -7-30 -26-50 -8-30 -4-90 3-20 16-50 4-30 -4-20 -19-40 -7-20 -3-20 -2-60 5-30 17-40 6-20 0-10 -4-20 -15-30 -7-20 -2-20 1-50 5-20 23-40 5-20 -3-20 -22-40 -7-20 -2-20 1-40 4-20 33-50 5-20 -1-11 -7-19 -21-30 -11-20 -3-30 19-40 39-50 11-20 4-20 1-10 -3-10 -16-20 -2-10 3-10z"/><path fill="#870000" d="M475 439l12-1 10 6 4 5 3 10 -2 10 -5 6 -6 4 36 6 133 4 17 5 10-1 13-4 127-3 42-7 -11-10 -2-10 3-10 8-9 10-3 10 3 10 9 3 10 -3 10 -10 10 -6 10 -2 10 6 30 12 23 37 47 18 40 -3 30 -10 20 -21 30 -7 20 0 10 1 10 5 13 30 47 5 20 -1 60 -7 20 -22 40 -3 20 6 20 22 40 5 20 0 50 -1 20 -7 20 -15 30 -4 20 3 20 16 40 6 20 2 30 -2 50 -3 20 -25 60 -4 20 3 30 16 50 3 20 -4 90 -8 30 -25 50 -7 30 2 30 6 20 17 40 3 30 -2 50 -2 20 -8 20 -20 40 -6 20 -2 20 3 30 7 20 14 30 3 10 2 20 -3 50 -3 20 -23 50 -5 20 -2 20 3 30 5 20 12 30 4 30 -2 60 -5 20 -15 40 -4 20 -2 20 2 30 14 50 3 30 -6 40 -8 30 -11 8 -10 4 -360 0 -15-12 -9-40 -5-30 1-20 16-60 1-40 -5-30 -18-50 -3-20 -1-50 4-30 12-30 5-20 3-30 -2-20 -4-17 -24-53 -3-20 -3-50 2-20 3-10 15-33 6-17 3-30 -2-20 -6-20 -20-40 -8-20 -2-20 -2-50 3-30 18-44 5-16 2-30 -7-30 -25-50 -8-30 -4-90 3-20 16-50 3-30 -5-23 -17-37 -7-20 -3-20 -2-60 4-30 17-40 6-20 0-10 -4-20 -15-30 -7-20 -1-20 0-50 5-20 22-40 6-20 -3-20 -22-40 -7-20 -1-60 5-20 31-50 5-20 -2-16 -5-14 -21-30 -10-20 -3-30 18-40 39-50 10-20 5-20 1-10 -2-10 -5-10 -7-4 -4-6 -3-10 3-10 4-5z"/></g><rect x="684.0" y="77.3" width="1.05" height="5.4" fill="#870000"/><rect x="719.6" y="77.3" width="1.05" height="5.4" fill="#870000"/><rect x="685.0" y="77.3" width="1.05" height="5.4" fill="#870000"/><rect x="718.6" y="77.3" width="1.05" height="5.4" fill="#870000"/><rect x="686.0" y="77.3" width="1.05" height="5.4" fill="#870000"/><rect x="717.6" y="77.3" width="1.05" height="5.4" fill="#870000"/><rect x="687.0" y="77.3" width="1.05" height="5.4" fill="#870000"/><rect x="716.6" y="77.3" width="1.05" height="5.4" fill="#870000"/><rect x="688.0" y="77.3" width="1.05" height="5.4" fill="#870000"/><rect x="715.6" y="77.3" width="1.05" height="5.4" fill="#870000"/><rect x="689.0" y="77.3" width="1.05" height="5.4" fill="#870000"/><rect x="714.6" y="77.3" width="1.05" height="5.4" fill="#870000"/><rect x="690.0" y="77.3" width="1.05" height="5.4" fill="#870000"/><rect x="713.6" y="77.3" width="1.05" height="5.4" fill="#870000"/><rect x="691.0" y="77.3" width="1.05" height="5.4" fill="#870000"/><rect x="712.6" y="77.3" width="1.05" height="5.4" fill="#870000"/><rect x="692.0" y="77.3" width="1.05" height="5.4" fill="#870000"/><rect x="711.6" y="77.3" width="1.05" height="5.4" fill="#870000"/><rect x="693.0" y="77.3" width="1.05" height="5.4" fill="#870000"/><rect x="710.6" y="77.3" width="1.05" height="5.4" fill="#870000"/><rect x="684.0" y="86.5" width="1.05" height="5.4" fill="#870000"/><rect x="719.6" y="86.5" width="1.05" height="5.4" fill="#870000"/><rect x="685.0" y="86.5" width="1.05" height="5.4" fill="#870000"/><rect x="718.6" y="86.5" width="1.05" height="5.4" fill="#870000"/><rect x="686.0" y="86.5" width="1.05" height="5.4" fill="#870000"/><rect x="717.6" y="86.5" width="1.05" height="5.4" fill="#870000"/><rect x="687.0" y="86.5" width="1.05" height="5.4" fill="#870000"/><rect x="716.6" y="86.5" width="1.05" height="5.4" fill="#870000"/><rect x="688.0" y="86.5" width="1.05" height="5.4" fill="#870000"/><rect x="715.6" y="86.5" width="1.05" height="5.4" fill="#870000"/><rect x="689.0" y="86.5" width="1.05" height="5.4" fill="#870000"/><rect x="714.6" y="86.5" width="1.05" height="5.4" fill="#870000"/><rect x="690.0" y="86.5" width="1.05" height="5.4" fill="#870000"/><rect x="713.6" y="86.5" width="1.05" height="5.4" fill="#870000"/><rect x="691.0" y="86.5" width="1.05" height="5.4" fill="#870000"/><rect x="712.6" y="86.5" width="1.05" height="5.4" fill="#870000"/><rect x="692.0" y="86.5" width="1.05" height="5.4" fill="#870000"/><rect x="711.6" y="86.5" width="1.05" height="5.4" fill="#870000"/><rect x="693.0" y="86.5" width="1.05" height="5.4" fill="#870000"/><rect x="710.6" y="86.5" width="1.05" height="5.4" fill="#870000"/><rect x="684.0" y="95.7" width="1.05" height="5.4" fill="#870000"/><rect x="719.6" y="95.7" width="1.05" height="5.4" fill="#870000"/><rect x="685.0" y="95.7" width="1.05" height="5.4" fill="#870000"/><rect x="718.6" y="95.7" width="1.05" height="5.4" fill="#870000"/><rect x="686.0" y="95.7" width="1.05" height="5.4" fill="#870000"/><rect x="717.6" y="95.7" width="1.05" height="5.4" fill="#870000"/><rect x="687.0" y="95.7" width="1.05" height="5.4" fill="#870000"/><rect x="716.6" y="95.7" width="1.05" height="5.4" fill="#870000"/><rect x="688.0" y="95.7" width="1.05" height="5.4" fill="#870000"/><rect x="715.6" y="95.7" width="1.05" height="5.4" fill="#870000"/><rect x="689.0" y="95.7" width="1.05" height="5.4" fill="#870000"/><rect x="714.6" y="95.7" width="1.05" height="5.4" fill="#870000"/><rect x="690.0" y="95.7" width="1.05" height="5.4" fill="#870000"/><rect x="713.6" y="95.7" width="1.05" height="5.4" fill="#870000"/><rect x="691.0" y="95.7" width="1.05" height="5.4" fill="#870000"/><rect x="712.6" y="95.7" width="1.05" height="5.4" fill="#870000"/><rect x="692.0" y="95.7" width="1.05" height="5.4" fill="#870000"/><rect x="711.6" y="95.7" width="1.05" height="5.4" fill="#870000"/><rect x="693.0" y="95.7" width="1.05" height="5.4" fill="#870000"/><rect x="710.6" y="95.7" width="1.05" height="5.4" fill="#870000"/><rect x="684.0" y="104.9" width="1.05" height="5.4" fill="#870000"/><rect x="719.6" y="104.9" width="1.05" height="5.4" fill="#870000"/><rect x="685.0" y="104.9" width="1.05" height="5.4" fill="#870000"/><rect x="718.6" y="104.9" width="1.05" height="5.4" fill="#870000"/><rect x="686.0" y="104.9" width="1.05" height="5.4" fill="#870000"/><rect x="717.6" y="104.9" width="1.05" height="5.4" fill="#870000"/><rect x="687.0" y="104.9" width="1.05" height="5.4" fill="#870000"/><rect x="716.6" y="104.9" width="1.05" height="5.4" fill="#870000"/><rect x="688.0" y="104.9" width="1.05" height="5.4" fill="#870000"/><rect x="715.6" y="104.9" width="1.05" height="5.4" fill="#870000"/><rect x="689.0" y="104.9" width="1.05" height="5.4" fill="#870000"/><rect x="714.6" y="104.9" width="1.05" height="5.4" fill="#870000"/><rect x="690.0" y="104.9" width="1.05" height="5.4" fill="#870000"/><rect x="713.6" y="104.9" width="1.05" height="5.4" fill="#870000"/><rect x="691.0" y="104.9" width="1.05" height="5.4" fill="#870000"/><rect x="712.6" y="104.9" width="1.05" height="5.4" fill="#870000"/><rect x="692.0" y="104.9" width="1.05" height="5.4" fill="#870000"/><rect x="711.6" y="104.9" width="1.05" height="5.4" fill="#870000"/><rect x="693.0" y="104.9" width="1.05" height="5.4" fill="#870000"/><rect x="710.6" y="104.9" width="1.05" height="5.4" fill="#870000"/><rect x="684.0" y="114.1" width="1.05" height="5.4" fill="#870000"/><rect x="719.6" y="114.1" width="1.05" height="5.4" fill="#870000"/><rect x="685.0" y="114.1" width="1.05" height="5.4" fill="#870000"/><rect x="718.6" y="114.1" width="1.05" height="5.4" fill="#870000"/><rect x="686.0" y="114.1" width="1.05" height="5.4" fill="#870000"/><rect x="717.6" y="114.1" width="1.05" height="5.4" fill="#870000"/><rect x="687.0" y="114.1" width="1.05" height="5.4" fill="#870000"/><rect x="716.6" y="114.1" width="1.05" height="5.4" fill="#870000"/><rect x="688.0" y="114.1" width="1.05" height="5.4" fill="#870000"/><rect x="715.6" y="114.1" width="1.05" height="5.4" fill="#870000"/><rect x="689.0" y="114.1" width="1.05" height="5.4" fill="#870000"/><rect x="714.6" y="114.1" width="1.05" height="5.4" fill="#870000"/><rect x="690.0" y="114.1" width="1.05" height="5.4" fill="#870000"/><rect x="713.6" y="114.1" width="1.05" height="5.4" fill="#870000"/><rect x="691.0" y="114.1" width="1.05" height="5.4" fill="#870000"/><rect x="712.6" y="114.1" width="1.05" height="5.4" fill="#870000"/><rect x="692.0" y="114.1" width="1.05" height="5.4" fill="#870000"/><rect x="711.6" y="114.1" width="1.05" height="5.4" fill="#870000"/><rect x="693.0" y="114.1" width="1.05" height="5.4" fill="#ff0800"/><rect x="710.6" y="114.1" width="1.05" height="5.4" fill="#ff0800"/><rect x="684.0" y="123.4" width="1.05" height="5.4" fill="#870000"/><rect x="719.6" y="123.4" width="1.05" height="5.4" fill="#870000"/><rect x="685.0" y="123.4" width="1.05" height="5.4" fill="#870000"/><rect x="718.6" y="123.4" width="1.05" height="5.4" fill="#870000"/><rect x="686.0" y="123.4" width="1.05" height="5.4" fill="#870000"/><rect x="717.6" y="123.4" width="1.05" height="5.4" fill="#870000"/><rect x="687.0" y="123.4" width="1.05" height="5.4" fill="#870000"/><rect x="716.6" y="123.4" width="1.05" height="5.4" fill="#870000"/><rect x="688.0" y="123.4" width="1.05" height="5.4" fill="#870000"/><rect x="715.6" y="123.4" width="1.05" height="5.4" fill="#870000"/><rect x="689.0" y="123.4" width="1.05" height="5.4" fill="#870000"/><rect x="714.6" y="123.4" width="1.05" height="5.4" fill="#870000"/><rect x="690.0" y="123.4" width="1.05" height="5.4" fill="#870000"/><rect x="713.6" y="123.4" width="1.05" height="5.4" fill="#870000"/><rect x="691.0" y="123.4" width="1.05" height="5.4" fill="#870000"/><rect x="712.6" y="123.4" width="1.05" height="5.4" fill="#870000"/><rect x="692.0" y="123.4" width="1.05" height="5.4" fill="#870000"/><rect x="711.6" y="123.4" width="1.05" height="5.4" fill="#870000"/><rect x="693.0" y="123.4" width="1.05" height="5.4" fill="#fff700"/><rect x="710.6" y="123.4" width="1.05" height="5.4" fill="#fff700"/><rect x="684.0" y="132.6" width="1.05" height="5.4" fill="#870000"/><rect x="719.6" y="132.6" width="1.05" height="5.4" fill="#870000"/><rect x="685.0" y="132.6" width="1.05" height="5.4" fill="#870000"/><rect x="718.6" y="132.6" width="1.05" height="5.4" fill="#870000"/><rect x="686.0" y="132.6" width="1.05" height="5.4" fill="#870000"/><rect x="717.6" y="132.6" width="1.05" height="5.4" fill="#870000"/><rect x="687.0" y="132.6" width="1.05" height="5.4" fill="#870000"/><rect x="716.6" y="132.6" width="1.05" height="5.4" fill="#870000"/><rect x="688.0" y="132.6" width="1.05" height="5.4" fill="#870000"/><rect x="715.6" y="132.6" width="1.05" height="5.4" fill="#870000"/><rect x="689.0" y="132.6" width="1.05" height="5.4" fill="#870000"/><rect x="714.6" y="132.6" width="1.05" height="5.4" fill="#870000"/><rect x="690.0" y="132.6" width="1.05" height="5.4" fill="#870000"/><rect x="713.6" y="132.6" width="1.05" height="5.4" fill="#870000"/><rect x="691.0" y="132.6" width="1.05" height="5.4" fill="#870000"/><rect x="712.6" y="132.6" width="1.05" height="5.4" fill="#870000"/><rect x="692.0" y="132.6" width="1.05" height="5.4" fill="#ff6800"/><rect x="711.6" y="132.6" width="1.05" height="5.4" fill="#ff6800"/><rect x="693.0" y="132.6" width="1.05" height="5.4" fill="#18ffe7"/><rect x="710.6" y="132.6" width="1.05" height="5.4" fill="#18ffe7"/><rect x="684.0" y="141.8" width="1.05" height="5.4" fill="#870000"/><rect x="719.6" y="141.8" width="1.05" height="5.4" fill="#870000"/><rect x="685.0" y="141.8" width="1.05" height="5.4" fill="#870000"/><rect x="718.6" y="141.8" width="1.05" height="5.4" fill="#870000"/><rect x="686.0" y="141.8" width="1.05" height="5.4" fill="#870000"/><rect x="717.6" y="141.8" width="1.05" height="5.4" fill="#870000"/><rect x="687.0" y="141.8" width="1.05" height="5.4" fill="#870000"/><rect x="716.6" y="141.8" width="1.05" height="5.4" fill="#870000"/><rect x="688.0" y="141.8" width="1.05" height="5.4" fill="#870000"/><rect x="715.6" y="141.8" width="1.05" height="5.4" fill="#870000"/><rect x="689.0" y="141.8" width="1.05" height="5.4" fill="#870000"/><rect x="714.6" y="141.8" width="1.05" height="5.4" fill="#870000"/><rect x="690.0" y="141.8" width="1.05" height="5.4" fill="#870000"/><rect x="713.6" y="141.8" width="1.05" height="5.4" fill="#870000"/><rect x="691.0" y="141.8" width="1.05" height="5.4" fill="#d70000"/><rect x="712.6" y="141.8" width="1.05" height="5.4" fill="#d70000"/><rect x="692.0" y="141.8" width="1.05" height="5.4" fill="#a7ff58"/><rect x="711.6" y="141.8" width="1.05" height="5.4" fill="#a7ff58"/><rect x="693.0" y="141.8" width="1.05" height="5.4" fill="#0028ff"/><rect x="710.6" y="141.8" width="1.05" height="5.4" fill="#0028ff"/><rect x="684.0" y="151.0" width="1.05" height="5.4" fill="#870000"/><rect x="719.6" y="151.0" width="1.05" height="5.4" fill="#870000"/><rect x="685.0" y="151.0" width="1.05" height="5.4" fill="#870000"/><rect x="718.6" y="151.0" width="1.05" height="5.4" fill="#870000"/><rect x="686.0" y="151.0" width="1.05" height="5.4" fill="#870000"/><rect x="717.6" y="151.0" width="1.05" height="5.4" fill="#870000"/><rect x="687.0" y="151.0" width="1.05" height="5.4" fill="#870000"/><rect x="716.6" y="151.0" width="1.05" height="5.4" fill="#870000"/><rect x="688.0" y="151.0" width="1.05" height="5.4" fill="#870000"/><rect x="715.6" y="151.0" width="1.05" height="5.4" fill="#870000"/><rect x="689.0" y="151.0" width="1.05" height="5.4" fill="#870000"/><rect x="714.6" y="151.0" width="1.05" height="5.4" fill="#870000"/><rect x="690.0" y="151.0" width="1.05" height="5.4" fill="#870000"/><rect x="713.6" y="151.0" width="1.05" height="5.4" fill="#870000"/><rect x="691.0" y="151.0" width="1.05" height="5.4" fill="#ff9700"/><rect x="712.6" y="151.0" width="1.05" height="5.4" fill="#ff9700"/><rect x="692.0" y="151.0" width="1.05" height="5.4" fill="#00e7ff"/><rect x="711.6" y="151.0" width="1.05" height="5.4" fill="#00e7ff"/><rect x="684.0" y="160.2" width="1.05" height="5.4" fill="#870000"/><rect x="719.6" y="160.2" width="1.05" height="5.4" fill="#870000"/><rect x="685.0" y="160.2" width="1.05" height="5.4" fill="#870000"/><rect x="718.6" y="160.2" width="1.05" height="5.4" fill="#870000"/><rect x="686.0" y="160.2" width="1.05" height="5.4" fill="#870000"/><rect x="717.6" y="160.2" width="1.05" height="5.4" fill="#870000"/><rect x="687.0" y="160.2" width="1.05" height="5.4" fill="#870000"/><rect x="716.6" y="160.2" width="1.05" height="5.4" fill="#870000"/><rect x="688.0" y="160.2" width="1.05" height="5.4" fill="#870000"/><rect x="715.6" y="160.2" width="1.05" height="5.4" fill="#870000"/><rect x="689.0" y="160.2" width="1.05" height="5.4" fill="#870000"/><rect x="714.6" y="160.2" width="1.05" height="5.4" fill="#870000"/><rect x="690.0" y="160.2" width="1.05" height="5.4" fill="#970000"/><rect x="713.6" y="160.2" width="1.05" height="5.4" fill="#970000"/><rect x="691.0" y="160.2" width="1.05" height="5.4" fill="#e7ff18"/><rect x="712.6" y="160.2" width="1.05" height="5.4" fill="#e7ff18"/><rect x="692.0" y="160.2" width="1.05" height="5.4" fill="#0068ff"/><rect x="711.6" y="160.2" width="1.05" height="5.4" fill="#0068ff"/><rect x="684.0" y="169.4" width="1.05" height="5.4" fill="#870000"/><rect x="719.6" y="169.4" width="1.05" height="5.4" fill="#870000"/><rect x="685.0" y="169.4" width="1.05" height="5.4" fill="#870000"/><rect x="718.6" y="169.4" width="1.05" height="5.4" fill="#870000"/><rect x="686.0" y="169.4" width="1.05" height="5.4" fill="#870000"/><rect x="717.6" y="169.4" width="1.05" height="5.4" fill="#870000"/><rect x="687.0" y="169.4" width="1.05" height="5.4" fill="#870000"/><rect x="716.6" y="169.4" width="1.05" height="5.4" fill="#870000"/><rect x="688.0" y="169.4" width="1.05" height="5.4" fill="#870000"/><rect x="715.6" y="169.4" width="1.05" height="5.4" fill="#870000"/><rect x="689.0" y="169.4" width="1.05" height="5.4" fill="#870000"/><rect x="714.6" y="169.4" width="1.05" height="5.4" fill="#870000"/><rect x="690.0" y="169.4" width="1.05" height="5.4" fill="#ff1800"/><rect x="713.6" y="169.4" width="1.05" height="5.4" fill="#ff1800"/><rect x="691.0" y="169.4" width="1.05" height="5.4" fill="#68ff97"/><rect x="712.6" y="169.4" width="1.05" height="5.4" fill="#68ff97"/><rect x="692.0" y="169.4" width="1.05" height="5.4" fill="#0000e7"/><rect x="711.6" y="169.4" width="1.05" height="5.4" fill="#0000e7"/><rect x="684.0" y="178.6" width="1.05" height="5.4" fill="#870000"/><rect x="719.6" y="178.6" width="1.05" height="5.4" fill="#870000"/><rect x="685.0" y="178.6" width="1.05" height="5.4" fill="#870000"/><rect x="718.6" y="178.6" width="1.05" height="5.4" fill="#870000"/><rect x="686.0" y="178.6" width="1.05" height="5.4" fill="#870000"/><rect x="717.6" y="178.6" width="1.05" height="5.4" fill="#870000"/><rect x="687.0" y="178.6" width="1.05" height="5.4" fill="#870000"/><rect x="716.6" y="178.6" width="1.05" height="5.4" fill="#870000"/><rect x="688.0" y="178.6" width="1.05" height="5.4" fill="#870000"/><rect x="715.6" y="178.6" width="1.05" height="5.4" fill="#870000"/><rect x="689.0" y="178.6" width="1.05" height="5.4" fill="#870000"/><rect x="714.6" y="178.6" width="1.05" height="5.4" fill="#870000"/><rect x="690.0" y="178.6" width="1.05" height="5.4" fill="#ff8700"/><rect x="713.6" y="178.6" width="1.05" height="5.4" fill="#ff8700"/><rect x="691.0" y="178.6" width="1.05" height="5.4" fill="#00f7ff"/><rect x="712.6" y="178.6" width="1.05" height="5.4" fill="#00f7ff"/><rect x="692.0" y="178.6" width="1.05" height="5.4" fill="#0000b7"/><rect x="711.6" y="178.6" width="1.05" height="5.4" fill="#0000b7"/><rect x="684.0" y="187.8" width="1.05" height="5.4" fill="#870000"/><rect x="719.6" y="187.8" width="1.05" height="5.4" fill="#870000"/><rect x="685.0" y="187.8" width="1.05" height="5.4" fill="#870000"/><rect x="718.6" y="187.8" width="1.05" height="5.4" fill="#870000"/><rect x="686.0" y="187.8" width="1.05" height="5.4" fill="#870000"/><rect x="717.6" y="187.8" width="1.05" height="5.4" fill="#870000"/><rect x="687.0" y="187.8" width="1.05" height="5.4" fill="#870000"/><rect x="716.6" y="187.8" width="1.05" height="5.4" fill="#870000"/><rect x="688.0" y="187.8" width="1.05" height="5.4" fill="#870000"/><rect x="715.6" y="187.8" width="1.05" height="5.4" fill="#870000"/><rect x="689.0" y="187.8" width="1.05" height="5.4" fill="#870000"/><rect x="714.6" y="187.8" width="1.05" height="5.4" fill="#870000"/><rect x="690.0" y="187.8" width="1.05" height="5.4" fill="#f7ff08"/><rect x="713.6" y="187.8" width="1.05" height="5.4" fill="#f7ff08"/><rect x="691.0" y="187.8" width="1.05" height="5.4" fill="#0078ff"/><rect x="712.6" y="187.8" width="1.05" height="5.4" fill="#0078ff"/><rect x="692.0" y="187.8" width="1.05" height="5.4" fill="#0000b7"/><rect x="711.6" y="187.8" width="1.05" height="5.4" fill="#0000b7"/><rect x="684.0" y="197.0" width="1.05" height="5.4" fill="#870000"/><rect x="719.6" y="197.0" width="1.05" height="5.4" fill="#870000"/><rect x="685.0" y="197.0" width="1.05" height="5.4" fill="#870000"/><rect x="718.6" y="197.0" width="1.05" height="5.4" fill="#870000"/><rect x="686.0" y="197.0" width="1.05" height="5.4" fill="#870000"/><rect x="717.6" y="197.0" width="1.05" height="5.4" fill="#870000"/><rect x="687.0" y="197.0" width="1.05" height="5.4" fill="#870000"/><rect x="716.6" y="197.0" width="1.05" height="5.4" fill="#870000"/><rect x="688.0" y="197.0" width="1.05" height="5.4" fill="#870000"/><rect x="715.6" y="197.0" width="1.05" height="5.4" fill="#870000"/><rect x="689.0" y="197.0" width="1.05" height="5.4" fill="#ff0800"/><rect x="714.6" y="197.0" width="1.05" height="5.4" fill="#ff0800"/><rect x="690.0" y="197.0" width="1.05" height="5.4" fill="#78ff87"/><rect x="713.6" y="197.0" width="1.05" height="5.4" fill="#78ff87"/><rect x="691.0" y="197.0" width="1.05" height="5.4" fill="#0000f7"/><rect x="712.6" y="197.0" width="1.05" height="5.4" fill="#0000f7"/><rect x="692.0" y="197.0" width="1.05" height="5.4" fill="#0000b7"/><rect x="711.6" y="197.0" width="1.05" height="5.4" fill="#0000b7"/><rect x="684.0" y="206.2" width="1.05" height="5.4" fill="#870000"/><rect x="719.6" y="206.2" width="1.05" height="5.4" fill="#870000"/><rect x="685.0" y="206.2" width="1.05" height="5.4" fill="#870000"/><rect x="718.6" y="206.2" width="1.05" height="5.4" fill="#870000"/><rect x="686.0" y="206.2" width="1.05" height="5.4" fill="#870000"/><rect x="717.6" y="206.2" width="1.05" height="5.4" fill="#870000"/><rect x="687.0" y="206.2" width="1.05" height="5.4" fill="#870000"/><rect x="716.6" y="206.2" width="1.05" height="5.4" fill="#870000"/><rect x="688.0" y="206.2" width="1.05" height="5.4" fill="#870000"/><rect x="715.6" y="206.2" width="1.05" height="5.4" fill="#870000"/><rect x="689.0" y="206.2" width="1.05" height="5.4" fill="#ff8700"/><rect x="714.6" y="206.2" width="1.05" height="5.4" fill="#ff8700"/><rect x="690.0" y="206.2" width="1.05" height="5.4" fill="#00f7ff"/><rect x="713.6" y="206.2" width="1.05" height="5.4" fill="#00f7ff"/><rect x="691.0" y="206.2" width="1.05" height="5.4" fill="#0000b7"/><rect x="712.6" y="206.2" width="1.05" height="5.4" fill="#0000b7"/><rect x="684.0" y="215.5" width="1.05" height="5.4" fill="#870000"/><rect x="719.6" y="215.5" width="1.05" height="5.4" fill="#870000"/><rect x="685.0" y="215.5" width="1.05" height="5.4" fill="#870000"/><rect x="718.6" y="215.5" width="1.05" height="5.4" fill="#870000"/><rect x="686.0" y="215.5" width="1.05" height="5.4" fill="#870000"/><rect x="717.6" y="215.5" width="1.05" height="5.4" fill="#870000"/><rect x="687.0" y="215.5" width="1.05" height="5.4" fill="#870000"/><rect x="716.6" y="215.5" width="1.05" height="5.4" fill="#870000"/><rect x="688.0" y="215.5" width="1.05" height="5.4" fill="#870000"/><rect x="715.6" y="215.5" width="1.05" height="5.4" fill="#870000"/><rect x="689.0" y="215.5" width="1.05" height="5.4" fill="#f7ff08"/><rect x="714.6" y="215.5" width="1.05" height="5.4" fill="#f7ff08"/><rect x="690.0" y="215.5" width="1.05" height="5.4" fill="#0078ff"/><rect x="713.6" y="215.5" width="1.05" height="5.4" fill="#0078ff"/><rect x="691.0" y="215.5" width="1.05" height="5.4" fill="#0000b7"/><rect x="712.6" y="215.5" width="1.05" height="5.4" fill="#0000b7"/><rect x="684.0" y="224.7" width="1.05" height="5.4" fill="#870000"/><rect x="719.6" y="224.7" width="1.05" height="5.4" fill="#870000"/><rect x="685.0" y="224.7" width="1.05" height="5.4" fill="#870000"/><rect x="718.6" y="224.7" width="1.05" height="5.4" fill="#870000"/><rect x="686.0" y="224.7" width="1.05" height="5.4" fill="#870000"/><rect x="717.6" y="224.7" width="1.05" height="5.4" fill="#870000"/><rect x="687.0" y="224.7" width="1.05" height="5.4" fill="#870000"/><rect x="716.6" y="224.7" width="1.05" height="5.4" fill="#870000"/><rect x="688.0" y="224.7" width="1.05" height="5.4" fill="#ff0800"/><rect x="715.6" y="224.7" width="1.05" height="5.4" fill="#ff0800"/><rect x="689.0" y="224.7" width="1.05" height="5.4" fill="#78ff87"/><rect x="714.6" y="224.7" width="1.05" height="5.4" fill="#78ff87"/><rect x="690.0" y="224.7" width="1.05" height="5.4" fill="#0000f7"/><rect x="713.6" y="224.7" width="1.05" height="5.4" fill="#0000f7"/><rect x="691.0" y="224.7" width="1.05" height="5.4" fill="#0000b7"/><rect x="712.6" y="224.7" width="1.05" height="5.4" fill="#0000b7"/><rect x="684.0" y="233.9" width="1.05" height="5.4" fill="#870000"/><rect x="719.6" y="233.9" width="1.05" height="5.4" fill="#870000"/><rect x="685.0" y="233.9" width="1.05" height="5.4" fill="#870000"/><rect x="718.6" y="233.9" width="1.05" height="5.4" fill="#870000"/><rect x="686.0" y="233.9" width="1.05" height="5.4" fill="#870000"/><rect x="717.6" y="233.9" width="1.05" height="5.4" fill="#870000"/><rect x="687.0" y="233.9" width="1.05" height="5.4" fill="#870000"/><rect x="716.6" y="233.9" width="1.05" height="5.4" fill="#870000"/><rect x="688.0" y="233.9" width="1.05" height="5.4" fill="#ff7800"/><rect x="715.6" y="233.9" width="1.05" height="5.4" fill="#ff7800"/><rect x="689.0" y="233.9" width="1.05" height="5.4" fill="#08fff7"/><rect x="714.6" y="233.9" width="1.05" height="5.4" fill="#08fff7"/><rect x="690.0" y="233.9" width="1.05" height="5.4" fill="#0000b7"/><rect x="713.6" y="233.9" width="1.05" height="5.4" fill="#0000b7"/><rect x="691.0" y="233.9" width="1.05" height="5.4" fill="#0000b7"/><rect x="712.6" y="233.9" width="1.05" height="5.4" fill="#0000b7"/><rect x="684.0" y="243.1" width="1.05" height="5.4" fill="#870000"/><rect x="719.6" y="243.1" width="1.05" height="5.4" fill="#870000"/><rect x="685.0" y="243.1" width="1.05" height="5.4" fill="#870000"/><rect x="718.6" y="243.1" width="1.05" height="5.4" fill="#870000"/><rect x="686.0" y="243.1" width="1.05" height="5.4" fill="#870000"/><rect x="717.6" y="243.1" width="1.05" height="5.4" fill="#870000"/><rect x="687.0" y="243.1" width="1.05" height="5.4" fill="#870000"/><rect x="716.6" y="243.1" width="1.05" height="5.4" fill="#870000"/><rect x="688.0" y="243.1" width="1.05" height="5.4" fill="#fff700"/><rect x="715.6" y="243.1" width="1.05" height="5.4" fill="#fff700"/><rect x="689.0" y="243.1" width="1.05" height="5.4" fill="#0087ff"/><rect x="714.6" y="243.1" width="1.05" height="5.4" fill="#0087ff"/><rect x="690.0" y="243.1" width="1.05" height="5.4" fill="#0000b7"/><rect x="713.6" y="243.1" width="1.05" height="5.4" fill="#0000b7"/><rect x="684.0" y="252.3" width="1.05" height="5.4" fill="#870000"/><rect x="719.6" y="252.3" width="1.05" height="5.4" fill="#870000"/><rect x="685.0" y="252.3" width="1.05" height="5.4" fill="#870000"/><rect x="718.6" y="252.3" width="1.05" height="5.4" fill="#870000"/><rect x="686.0" y="252.3" width="1.05" height="5.4" fill="#870000"/><rect x="717.6" y="252.3" width="1.05" height="5.4" fill="#870000"/><rect x="687.0" y="252.3" width="1.05" height="5.4" fill="#f70000"/><rect x="716.6" y="252.3" width="1.05" height="5.4" fill="#f70000"/><rect x="688.0" y="252.3" width="1.05" height="5.4" fill="#87ff78"/><rect x="715.6" y="252.3" width="1.05" height="5.4" fill="#87ff78"/><rect x="689.0" y="252.3" width="1.05" height="5.4" fill="#0008ff"/><rect x="714.6" y="252.3" width="1.05" height="5.4" fill="#0008ff"/><rect x="690.0" y="252.3" width="1.05" height="5.4" fill="#0000b7"/><rect x="713.6" y="252.3" width="1.05" height="5.4" fill="#0000b7"/><rect x="684.0" y="261.5" width="1.05" height="5.4" fill="#870000"/><rect x="719.6" y="261.5" width="1.05" height="5.4" fill="#870000"/><rect x="685.0" y="261.5" width="1.05" height="5.4" fill="#870000"/><rect x="718.6" y="261.5" width="1.05" height="5.4" fill="#870000"/><rect x="686.0" y="261.5" width="1.05" height="5.4" fill="#870000"/><rect x="717.6" y="261.5" width="1.05" height="5.4" fill="#870000"/><rect x="687.0" y="261.5" width="1.05" height="5.4" fill="#ff7800"/><rect x="716.6" y="261.5" width="1.05" height="5.4" fill="#ff7800"/><rect x="688.0" y="261.5" width="1.05" height="5.4" fill="#08fff7"/><rect x="715.6" y="261.5" width="1.05" height="5.4" fill="#08fff7"/><rect x="689.0" y="261.5" width="1.05" height="5.4" fill="#0000b7"/><rect x="714.6" y="261.5" width="1.05" height="5.4" fill="#0000b7"/><rect x="690.0" y="261.5" width="1.05" height="5.4" fill="#0000b7"/><rect x="713.6" y="261.5" width="1.05" height="5.4" fill="#0000b7"/><rect x="684.0" y="270.7" width="1.05" height="5.4" fill="#870000"/><rect x="719.6" y="270.7" width="1.05" height="5.4" fill="#870000"/><rect x="685.0" y="270.7" width="1.05" height="5.4" fill="#870000"/><rect x="718.6" y="270.7" width="1.05" height="5.4" fill="#870000"/><rect x="686.0" y="270.7" width="1.05" height="5.4" fill="#870000"/><rect x="717.6" y="270.7" width="1.05" height="5.4" fill="#870000"/><rect x="687.0" y="270.7" width="1.05" height="5.4" fill="#fff700"/><rect x="716.6" y="270.7" width="1.05" height="5.4" fill="#fff700"/><rect x="688.0" y="270.7" width="1.05" height="5.4" fill="#0087ff"/><rect x="715.6" y="270.7" width="1.05" height="5.4" fill="#0087ff"/><rect x="689.0" y="270.7" width="1.05" height="5.4" fill="#0000b7"/><rect x="714.6" y="270.7" width="1.05" height="5.4" fill="#0000b7"/><rect x="690.0" y="270.7" width="1.05" height="5.4" fill="#0000b7"/><rect x="713.6" y="270.7" width="1.05" height="5.4" fill="#0000b7"/><rect x="684.0" y="279.9" width="1.05" height="5.4" fill="#870000"/><rect x="719.6" y="279.9" width="1.05" height="5.4" fill="#870000"/><rect x="685.0" y="279.9" width="1.05" height="5.4" fill="#870000"/><rect x="718.6" y="279.9" width="1.05" height="5.4" fill="#870000"/><rect x="686.0" y="279.9" width="1.05" height="5.4" fill="#e70000"/><rect x="717.6" y="279.9" width="1.05" height="5.4" fill="#e70000"/><rect x="687.0" y="279.9" width="1.05" height="5.4" fill="#97ff68"/><rect x="716.6" y="279.9" width="1.05" height="5.4" fill="#97ff68"/><rect x="688.0" y="279.9" width="1.05" height="5.4" fill="#0018ff"/><rect x="715.6" y="279.9" width="1.05" height="5.4" fill="#0018ff"/><rect x="689.0" y="279.9" width="1.05" height="5.4" fill="#0000b7"/><rect x="714.6" y="279.9" width="1.05" height="5.4" fill="#0000b7"/><rect x="684.0" y="289.1" width="1.05" height="5.4" fill="#870000"/><rect x="719.6" y="289.1" width="1.05" height="5.4" fill="#870000"/><rect x="685.0" y="289.1" width="1.05" height="5.4" fill="#870000"/><rect x="718.6" y="289.1" width="1.05" height="5.4" fill="#870000"/><rect x="686.0" y="289.1" width="1.05" height="5.4" fill="#ff6800"/><rect x="717.6" y="289.1" width="1.05" height="5.4" fill="#ff6800"/><rect x="687.0" y="289.1" width="1.05" height="5.4" fill="#18ffe7"/><rect x="716.6" y="289.1" width="1.05" height="5.4" fill="#18ffe7"/><rect x="688.0" y="289.1" width="1.05" height="5.4" fill="#0000b7"/><rect x="715.6" y="289.1" width="1.05" height="5.4" fill="#0000b7"/><rect x="689.0" y="289.1" width="1.05" height="5.4" fill="#0000b7"/><rect x="714.6" y="289.1" width="1.05" height="5.4" fill="#0000b7"/><rect x="684.0" y="298.3" width="1.05" height="5.4" fill="#870000"/><rect x="719.6" y="298.3" width="1.05" height="5.4" fill="#870000"/><rect x="685.0" y="298.3" width="1.05" height="5.4" fill="#870000"/><rect x="718.6" y="298.3" width="1.05" height="5.4" fill="#870000"/><rect x="686.0" y="298.3" width="1.05" height="5.4" fill="#ffd700"/><rect x="717.6" y="298.3" width="1.05" height="5.4" fill="#ffd700"/><rect x="687.0" y="298.3" width="1.05" height="5.4" fill="#00a7ff"/><rect x="716.6" y="298.3" width="1.05" height="5.4" fill="#00a7ff"/><rect x="688.0" y="298.3" width="1.05" height="5.4" fill="#0000b7"/><rect x="715.6" y="298.3" width="1.05" height="5.4" fill="#0000b7"/><rect x="689.0" y="298.3" width="1.05" height="5.4" fill="#0000b7"/><rect x="714.6" y="298.3" width="1.05" height="5.4" fill="#0000b7"/><path d="M684.0 68.8L684.0 77.3L693.0 77.3L692.9 82.7L684.0 82.7L684.0 86.5L692.9 86.5L692.8 91.9L684.0 91.9L684.0 95.7L692.7 95.7L692.6 101.1L684.0 101.1L684.0 104.9L692.6 104.9L692.5 110.3L684.0 110.3L684.0 114.1L692.5 114.1L692.4 119.5L684.0 119.5L684.0 123.4L692.3 123.4L692.3 128.8L684.0 128.8L684.0 132.6L692.2 132.6L692.1 138.0L684.0 138.0L684.0 141.8L692.1 141.8L692.0 147.2L684.0 147.2L684.0 151.0L691.9 151.0L691.9 156.4L684.0 156.4L684.0 160.2L691.8 160.2L691.7 165.6L684.0 165.6L684.0 169.4L691.7 169.4L691.6 174.8L684.0 174.8L684.0 178.6L691.6 178.6L691.5 184.0L684.0 184.0L684.0 187.8L691.4 187.8L691.3 193.2L684.0 193.2L684.0 197.0L691.2 197.0L691.1 202.4L684.0 202.4L684.0 206.2L691.0 206.2L690.8 211.6L684.0 211.6L684.0 215.5L690.7 215.5L690.6 220.8L684.0 220.8L684.0 224.7L690.5 224.7L690.3 230.1L684.0 230.1L684.0 233.9L690.2 233.9L690.1 239.3L684.0 239.3L684.0 243.1L690.0 243.1L689.8 248.5L684.0 248.5L684.0 252.3L689.7 252.3L689.6 257.7L684.0 257.7L684.0 261.5L689.5 261.5L689.3 266.9L684.0 266.9L684.0 270.7L689.2 270.7L689.1 276.1L684.0 276.1L684.0 279.9L689.0 279.9L688.8 285.3L684.0 285.3L684.0 289.1L688.7 289.1L688.6 294.5L684.0 294.5L684.0 298.3L688.5 298.3L688.3 303.7L684.0 303.7L684.0 312.4L720.6 312.4L720.6 303.7L716.3 303.7L716.1 298.3L720.6 298.3L720.6 294.5L716.0 294.5L715.9 289.1L720.6 289.1L720.6 285.3L715.8 285.3L715.6 279.9L720.6 279.9L720.6 276.1L715.5 276.1L715.4 270.7L720.6 270.7L720.6 266.9L715.3 266.9L715.1 261.5L720.6 261.5L720.6 257.7L715.0 257.7L714.9 252.3L720.6 252.3L720.6 248.5L714.8 248.5L714.6 243.1L720.6 243.1L720.6 239.3L714.5 239.3L714.4 233.9L720.6 233.9L720.6 230.1L714.3 230.1L714.1 224.7L720.6 224.7L720.6 220.8L714.0 220.8L713.9 215.5L720.6 215.5L720.6 211.6L713.8 211.6L713.6 206.2L720.6 206.2L720.6 202.4L713.5 202.4L713.4 197.0L720.6 197.0L720.6 193.2L713.3 193.2L713.2 187.8L720.6 187.8L720.6 184.0L713.1 184.0L713.0 178.6L720.6 178.6L720.6 174.8L713.0 174.8L712.9 169.4L720.6 169.4L720.6 165.6L712.9 165.6L712.8 160.2L720.6 160.2L720.6 156.4L712.7 156.4L712.7 151.0L720.6 151.0L720.6 147.2L712.6 147.2L712.5 141.8L720.6 141.8L720.6 138.0L712.5 138.0L712.4 132.6L720.6 132.6L720.6 128.8L712.3 128.8L712.3 123.4L720.6 123.4L720.6 119.5L712.2 119.5L712.1 114.1L720.6 114.1L720.6 110.3L712.1 110.3L712.0 104.9L720.6 104.9L720.6 101.1L712.0 101.1L711.9 95.7L720.6 95.7L720.6 91.9L711.8 91.9L711.7 86.5L720.6 86.5L720.6 82.7L711.7 82.7L711.6 77.3L720.6 77.3L720.6 68.8Z" fill="#cca43e" stroke="#5d4a1c" stroke-width="0.5" stroke-opacity="0.7"/><rect x="711.6" y="350.3" width="48" height="2.5" fill="#000"/><text x="715.9" y="347.4" font-size="12.2px">5</text><text x="730.6" y="347.4" font-size="13.5px" font-style="italic" font-weight="normal">μ</text><text x="739.9" y="347.4" font-size="13.8px">m</text><text x="638" y="352" font-size="12.2px" letter-spacing="0.8">b)</text></g><text x="652.3" y="14.4" font-size="12.5px" font-style="italic" font-weight="normal">ν̃</text><text x="663.7" y="14.4" font-size="12.5px">=</text><text x="678.6" y="14.4" font-size="12.5px">1660</text><text x="719.3" y="14.4" font-size="12.5px">cm</text><text x="740.6" y="8.8" font-size="9.5px">-1</text><rect x="771.6" y="356.17" width="11.0" height="5.63" fill="#000087"/><rect x="771.6" y="350.83" width="11.0" height="5.63" fill="#000097"/><rect x="771.6" y="345.50" width="11.0" height="5.63" fill="#0000a7"/><rect x="771.6" y="340.16" width="11.0" height="5.63" fill="#0000b7"/><rect x="771.6" y="334.83" width="11.0" height="5.63" fill="#0000c7"/><rect x="771.6" y="329.49" width="11.0" height="5.63" fill="#0000d7"/><rect x="771.6" y="324.16" width="11.0" height="5.63" fill="#0000e7"/><rect x="771.6" y="318.82" width="11.0" height="5.63" fill="#0000f7"/><rect x="771.6" y="313.49" width="11.0" height="5.63" fill="#0008ff"/><rect x="771.6" y="308.16" width="11.0" height="5.63" fill="#0018ff"/><rect x="771.6" y="302.82" width="11.0" height="5.63" fill="#0028ff"/><rect x="771.6" y="297.49" width="11.0" height="5.63" fill="#0038ff"/><rect x="771.6" y="292.15" width="11.0" height="5.63" fill="#0048ff"/><rect x="771.6" y="286.82" width="11.0" height="5.63" fill="#0058ff"/><rect x="771.6" y="281.48" width="11.0" height="5.63" fill="#0068ff"/><rect x="771.6" y="276.15" width="11.0" height="5.63" fill="#0078ff"/><rect x="771.6" y="270.82" width="11.0" height="5.63" fill="#0087ff"/><rect x="771.6" y="265.48" width="11.0" height="5.63" fill="#0097ff"/><rect x="771.6" y="260.15" width="11.0" height="5.63" fill="#00a7ff"/><rect x="771.6" y="254.81" width="11.0" height="5.63" fill="#00b7ff"/><rect x="771.6" y="249.48" width="11.0" height="5.63" fill="#00c7ff"/><rect x="771.6" y="244.14" width="11.0" height="5.63" fill="#00d7ff"/><rect x="771.6" y="238.81" width="11.0" height="5.63" fill="#00e7ff"/><rect x="771.6" y="233.48" width="11.0" height="5.63" fill="#00f7ff"/><rect x="771.6" y="228.14" width="11.0" height="5.63" fill="#08fff7"/><rect x="771.6" y="222.81" width="11.0" height="5.63" fill="#18ffe7"/><rect x="771.6" y="217.47" width="11.0" height="5.63" fill="#28ffd7"/><rect x="771.6" y="212.14" width="11.0" height="5.63" fill="#38ffc7"/><rect x="771.6" y="206.80" width="11.0" height="5.63" fill="#48ffb7"/><rect x="771.6" y="201.47" width="11.0" height="5.63" fill="#58ffa7"/><rect x="771.6" y="196.13" width="11.0" height="5.63" fill="#68ff97"/><rect x="771.6" y="190.80" width="11.0" height="5.63" fill="#78ff87"/><rect x="771.6" y="185.47" width="11.0" height="5.63" fill="#87ff78"/><rect x="771.6" y="180.13" width="11.0" height="5.63" fill="#97ff68"/><rect x="771.6" y="174.80" width="11.0" height="5.63" fill="#a7ff58"/><rect x="771.6" y="169.46" width="11.0" height="5.63" fill="#b7ff48"/><rect x="771.6" y="164.13" width="11.0" height="5.63" fill="#c7ff38"/><rect x="771.6" y="158.79" width="11.0" height="5.63" fill="#d7ff28"/><rect x="771.6" y="153.46" width="11.0" height="5.63" fill="#e7ff18"/><rect x="771.6" y="148.12" width="11.0" height="5.63" fill="#f7ff08"/><rect x="771.6" y="142.79" width="11.0" height="5.63" fill="#fff700"/><rect x="771.6" y="137.46" width="11.0" height="5.63" fill="#ffe700"/><rect x="771.6" y="132.12" width="11.0" height="5.63" fill="#ffd700"/><rect x="771.6" y="126.79" width="11.0" height="5.63" fill="#ffc700"/><rect x="771.6" y="121.45" width="11.0" height="5.63" fill="#ffb700"/><rect x="771.6" y="116.12" width="11.0" height="5.63" fill="#ffa700"/><rect x="771.6" y="110.78" width="11.0" height="5.63" fill="#ff9700"/><rect x="771.6" y="105.45" width="11.0" height="5.63" fill="#ff8700"/><rect x="771.6" y="100.12" width="11.0" height="5.63" fill="#ff7800"/><rect x="771.6" y="94.78" width="11.0" height="5.63" fill="#ff6800"/><rect x="771.6" y="89.45" width="11.0" height="5.63" fill="#ff5800"/><rect x="771.6" y="84.11" width="11.0" height="5.63" fill="#ff4800"/><rect x="771.6" y="78.78" width="11.0" height="5.63" fill="#ff3800"/><rect x="771.6" y="73.44" width="11.0" height="5.63" fill="#ff2800"/><rect x="771.6" y="68.11" width="11.0" height="5.63" fill="#ff1800"/><rect x="771.6" y="62.78" width="11.0" height="5.63" fill="#ff0800"/><rect x="771.6" y="57.44" width="11.0" height="5.63" fill="#f70000"/><rect x="771.6" y="52.11" width="11.0" height="5.63" fill="#e70000"/><rect x="771.6" y="46.77" width="11.0" height="5.63" fill="#d70000"/><rect x="771.6" y="41.44" width="11.0" height="5.63" fill="#c70000"/><rect x="771.6" y="36.10" width="11.0" height="5.63" fill="#b70000"/><rect x="771.6" y="30.77" width="11.0" height="5.63" fill="#a70000"/><rect x="771.6" y="25.43" width="11.0" height="5.63" fill="#970000"/><rect x="771.6" y="20.10" width="11.0" height="5.63" fill="#870000"/><rect x="771.6" y="20.1" width="11.0" height="341.4" fill="none" stroke="#222" stroke-width="0.7"/><text x="786.6" y="24.7" font-size="10.3px" fill="#222">1</text><text x="786.6" y="58.8" font-size="10.3px" fill="#222">0.8</text><text x="786.6" y="93.0" font-size="10.3px" fill="#222">0.6</text><text x="786.6" y="127.1" font-size="10.3px" fill="#222">0.4</text><text x="786.6" y="161.3" font-size="10.3px" fill="#222">0.2</text><text x="786.6" y="195.4" font-size="10.3px" fill="#222">0</text><text x="786.6" y="229.5" font-size="10.3px" fill="#222">-0.2</text><text x="786.6" y="263.7" font-size="10.3px" fill="#222">-0.4</text><text x="786.6" y="297.8" font-size="10.3px" fill="#222">-0.6</text><text x="786.6" y="332.0" font-size="10.3px" fill="#222">-0.8</text><text x="786.6" y="366.1" font-size="10.3px" fill="#222">-1</text><path d="M782.6 20.1h-3M782.6 54.2h-3M782.6 88.4h-3M782.6 122.5h-3M782.6 156.7h-3M782.6 190.8h-3M782.6 224.9h-3M782.6 259.1h-3M782.6 293.2h-3M782.6 327.4h-3M782.6 361.5h-3" stroke="#222" stroke-width="0.7" fill="none"/><text transform="translate(822.3,179.5) rotate(-90)" text-anchor="middle" font-size="11.1px" fill="#222">Log<tspan font-size="7.5px" dy="3">10</tspan><tspan dy="-3">(Intensity) / a. u.</tspan></text></svg></body></html>
